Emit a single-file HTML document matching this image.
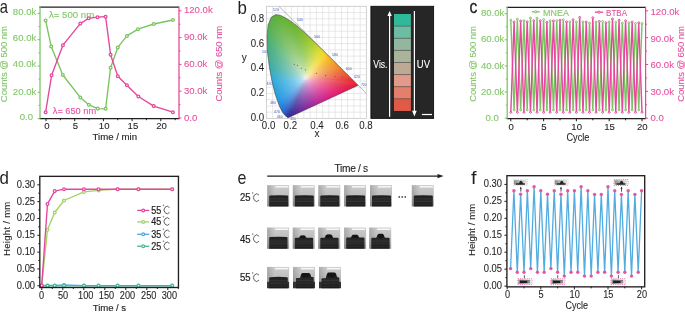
<!DOCTYPE html>
<html><head><meta charset="utf-8"><style>
html,body{margin:0;padding:0;background:#fff;width:685px;height:313px;overflow:hidden}
svg{display:block;will-change:transform}
text{font-family:"Liberation Sans", sans-serif}
</style></head><body>
<svg width="685" height="313" viewBox="0 0 685 313">
<defs><clipPath id="hs"><polygon points="288.16,117.78 288.12,117.79 288.06,117.8 287.97,117.8 287.82,117.76 287.69,117.68 287.51,117.54 287.26,117.33 286.95,117.04 286.54,116.68 285.97,116.19 285.27,115.57 284.4,114.7 283.34,113.43 281.91,111.2 280.1,107.58 277.81,101.87 274.99,93.39 272.07,81.64 269.34,66.98 267.42,51.32 266.89,36.81 268.14,24.93 271.26,17.22 275.69,14.51 280.67,15.46 285.74,17.98 290.51,21.01 295.1,24.41 299.62,28.15 304.1,32.14 308.56,36.3 313.04,40.59 317.49,44.94 321.91,49.28 326.25,53.58 330.46,57.77 334.5,61.78 338.3,65.54 341.76,69 344.77,71.99 347.42,74.62 349.62,76.78 351.41,78.57 352.84,79.99 353.97,81.11 354.89,82.02 355.65,82.78 356.27,83.4 356.77,83.89 357.15,84.26 357.65,84.76 358.07,85.18 358.24,85.34"/></clipPath>
<linearGradient id="r13" gradientUnits="userSpaceOnUse" x1="273" y1="0" x2="279" y2="0"><stop offset="0" stop-color="#5daf3b"/><stop offset="0.5" stop-color="#5faf37"/><stop offset="1" stop-color="#61b035"/></linearGradient>
<linearGradient id="r14" gradientUnits="userSpaceOnUse" x1="272" y1="0" x2="283" y2="0"><stop offset="0" stop-color="#5caf3d"/><stop offset="0.27" stop-color="#5eaf38"/><stop offset="0.55" stop-color="#60b036"/><stop offset="0.82" stop-color="#62b034"/><stop offset="1" stop-color="#63b133"/></linearGradient>
<linearGradient id="r15" gradientUnits="userSpaceOnUse" x1="270" y1="0" x2="285" y2="0"><stop offset="0" stop-color="#5aaf41"/><stop offset="0.2" stop-color="#5caf3c"/><stop offset="0.4" stop-color="#60b039"/><stop offset="0.6" stop-color="#61b036"/><stop offset="0.8" stop-color="#62b134"/><stop offset="1" stop-color="#64b232"/></linearGradient>
<linearGradient id="r16" gradientUnits="userSpaceOnUse" x1="269" y1="0" x2="287" y2="0"><stop offset="0" stop-color="#59af43"/><stop offset="0.17" stop-color="#5baf3f"/><stop offset="0.33" stop-color="#5fb03c"/><stop offset="0.5" stop-color="#62b039"/><stop offset="0.67" stop-color="#63b136"/><stop offset="0.83" stop-color="#63b133"/><stop offset="1" stop-color="#65b231"/></linearGradient>
<linearGradient id="r17" gradientUnits="userSpaceOnUse" x1="269" y1="0" x2="289" y2="0"><stop offset="0" stop-color="#58af44"/><stop offset="0.15" stop-color="#5baf41"/><stop offset="0.3" stop-color="#60b03e"/><stop offset="0.45" stop-color="#63b13b"/><stop offset="0.6" stop-color="#64b138"/><stop offset="0.75" stop-color="#64b134"/><stop offset="0.9" stop-color="#65b231"/><stop offset="1" stop-color="#66b330"/></linearGradient>
<linearGradient id="r18" gradientUnits="userSpaceOnUse" x1="268" y1="0" x2="290" y2="0"><stop offset="0" stop-color="#57af46"/><stop offset="0.14" stop-color="#5aaf43"/><stop offset="0.27" stop-color="#5fb041"/><stop offset="0.41" stop-color="#63b13e"/><stop offset="0.55" stop-color="#65b23b"/><stop offset="0.68" stop-color="#65b238"/><stop offset="0.82" stop-color="#65b233"/><stop offset="0.95" stop-color="#66b230"/><stop offset="1" stop-color="#67b32f"/></linearGradient>
<linearGradient id="r19" gradientUnits="userSpaceOnUse" x1="268" y1="0" x2="292" y2="0"><stop offset="0" stop-color="#57af47"/><stop offset="0.12" stop-color="#5aaf44"/><stop offset="0.25" stop-color="#5fb143"/><stop offset="0.38" stop-color="#64b240"/><stop offset="0.5" stop-color="#66b23d"/><stop offset="0.62" stop-color="#67b33a"/><stop offset="0.75" stop-color="#66b235"/><stop offset="0.88" stop-color="#66b230"/><stop offset="1" stop-color="#68b32e"/></linearGradient>
<linearGradient id="r20" gradientUnits="userSpaceOnUse" x1="267" y1="0" x2="293" y2="0"><stop offset="0" stop-color="#56af49"/><stop offset="0.12" stop-color="#58af45"/><stop offset="0.23" stop-color="#5eb146"/><stop offset="0.35" stop-color="#63b243"/><stop offset="0.46" stop-color="#67b340"/><stop offset="0.58" stop-color="#68b33d"/><stop offset="0.69" stop-color="#68b339"/><stop offset="0.81" stop-color="#67b333"/><stop offset="0.92" stop-color="#67b32f"/><stop offset="1" stop-color="#68b42e"/></linearGradient>
<linearGradient id="r21" gradientUnits="userSpaceOnUse" x1="267" y1="0" x2="295" y2="0"><stop offset="0" stop-color="#56af4a"/><stop offset="0.11" stop-color="#58af47"/><stop offset="0.21" stop-color="#5eb148"/><stop offset="0.32" stop-color="#63b345"/><stop offset="0.43" stop-color="#68b342"/><stop offset="0.54" stop-color="#69b43f"/><stop offset="0.64" stop-color="#69b43b"/><stop offset="0.75" stop-color="#68b436"/><stop offset="0.86" stop-color="#67b330"/><stop offset="0.96" stop-color="#69b42d"/><stop offset="1" stop-color="#6ab52d"/></linearGradient>
<linearGradient id="r22" gradientUnits="userSpaceOnUse" x1="267" y1="0" x2="296" y2="0"><stop offset="0" stop-color="#55af4a"/><stop offset="0.1" stop-color="#58b048"/><stop offset="0.21" stop-color="#5fb249"/><stop offset="0.31" stop-color="#64b348"/><stop offset="0.41" stop-color="#69b444"/><stop offset="0.52" stop-color="#6ab542"/><stop offset="0.62" stop-color="#6ab53e"/><stop offset="0.72" stop-color="#6ab438"/><stop offset="0.83" stop-color="#68b432"/><stop offset="0.93" stop-color="#69b42d"/><stop offset="1" stop-color="#6db62c"/></linearGradient>
<linearGradient id="r23" gradientUnits="userSpaceOnUse" x1="266" y1="0" x2="297" y2="0"><stop offset="0" stop-color="#54af4d"/><stop offset="0.1" stop-color="#57af49"/><stop offset="0.19" stop-color="#5db14a"/><stop offset="0.29" stop-color="#63b34b"/><stop offset="0.39" stop-color="#68b448"/><stop offset="0.48" stop-color="#6bb545"/><stop offset="0.58" stop-color="#6cb542"/><stop offset="0.68" stop-color="#6bb53d"/><stop offset="0.77" stop-color="#6ab536"/><stop offset="0.87" stop-color="#69b430"/><stop offset="0.97" stop-color="#6cb52c"/><stop offset="1" stop-color="#70b72c"/></linearGradient>
<linearGradient id="r24" gradientUnits="userSpaceOnUse" x1="266" y1="0" x2="299" y2="0"><stop offset="0" stop-color="#54af50"/><stop offset="0.09" stop-color="#57af4b"/><stop offset="0.18" stop-color="#5db24c"/><stop offset="0.27" stop-color="#63b44d"/><stop offset="0.36" stop-color="#68b54a"/><stop offset="0.45" stop-color="#6cb647"/><stop offset="0.55" stop-color="#6db644"/><stop offset="0.64" stop-color="#6db63f"/><stop offset="0.73" stop-color="#6cb539"/><stop offset="0.82" stop-color="#6ab532"/><stop offset="0.91" stop-color="#6cb52c"/><stop offset="1" stop-color="#75b92b"/></linearGradient>
<linearGradient id="r25" gradientUnits="userSpaceOnUse" x1="266" y1="0" x2="300" y2="0"><stop offset="0" stop-color="#53af52"/><stop offset="0.09" stop-color="#57b04c"/><stop offset="0.18" stop-color="#5db24d"/><stop offset="0.26" stop-color="#64b44e"/><stop offset="0.35" stop-color="#69b54c"/><stop offset="0.44" stop-color="#6db649"/><stop offset="0.53" stop-color="#6eb746"/><stop offset="0.62" stop-color="#6eb741"/><stop offset="0.71" stop-color="#6db63b"/><stop offset="0.79" stop-color="#6cb535"/><stop offset="0.88" stop-color="#6cb52d"/><stop offset="0.97" stop-color="#75b92b"/><stop offset="1" stop-color="#78ba2a"/></linearGradient>
<linearGradient id="r26" gradientUnits="userSpaceOnUse" x1="265" y1="0" x2="301" y2="0"><stop offset="0" stop-color="#52af55"/><stop offset="0.08" stop-color="#54af50"/><stop offset="0.17" stop-color="#5bb14e"/><stop offset="0.25" stop-color="#62b44f"/><stop offset="0.33" stop-color="#68b54f"/><stop offset="0.42" stop-color="#6db64c"/><stop offset="0.5" stop-color="#6fb749"/><stop offset="0.58" stop-color="#70b745"/><stop offset="0.67" stop-color="#6fb740"/><stop offset="0.75" stop-color="#6eb63a"/><stop offset="0.83" stop-color="#6cb632"/><stop offset="0.92" stop-color="#71b72b"/><stop offset="1" stop-color="#7abb2a"/></linearGradient>
<linearGradient id="r27" gradientUnits="userSpaceOnUse" x1="265" y1="0" x2="302" y2="0"><stop offset="0" stop-color="#52af57"/><stop offset="0.08" stop-color="#53af52"/><stop offset="0.16" stop-color="#5bb250"/><stop offset="0.24" stop-color="#62b451"/><stop offset="0.32" stop-color="#68b652"/><stop offset="0.41" stop-color="#6db74e"/><stop offset="0.49" stop-color="#71b84b"/><stop offset="0.57" stop-color="#71b848"/><stop offset="0.65" stop-color="#71b843"/><stop offset="0.73" stop-color="#6fb73c"/><stop offset="0.81" stop-color="#6eb635"/><stop offset="0.89" stop-color="#72b82d"/><stop offset="0.97" stop-color="#7abb2a"/><stop offset="1" stop-color="#7dbc29"/></linearGradient>
<linearGradient id="r28" gradientUnits="userSpaceOnUse" x1="265" y1="0" x2="303" y2="0"><stop offset="0" stop-color="#51af5a"/><stop offset="0.08" stop-color="#53af55"/><stop offset="0.16" stop-color="#5cb251"/><stop offset="0.24" stop-color="#62b452"/><stop offset="0.32" stop-color="#69b653"/><stop offset="0.39" stop-color="#6eb851"/><stop offset="0.47" stop-color="#72b84d"/><stop offset="0.55" stop-color="#73b94a"/><stop offset="0.63" stop-color="#72b945"/><stop offset="0.71" stop-color="#71b83f"/><stop offset="0.79" stop-color="#6fb737"/><stop offset="0.87" stop-color="#73b830"/><stop offset="0.95" stop-color="#7abb2a"/><stop offset="1" stop-color="#7fbd29"/></linearGradient>
<linearGradient id="r29" gradientUnits="userSpaceOnUse" x1="265" y1="0" x2="304" y2="0"><stop offset="0" stop-color="#50af5c"/><stop offset="0.08" stop-color="#52af58"/><stop offset="0.15" stop-color="#5bb253"/><stop offset="0.23" stop-color="#62b454"/><stop offset="0.31" stop-color="#69b755"/><stop offset="0.38" stop-color="#6eb853"/><stop offset="0.46" stop-color="#73b950"/><stop offset="0.54" stop-color="#74ba4d"/><stop offset="0.62" stop-color="#74b948"/><stop offset="0.69" stop-color="#73b941"/><stop offset="0.77" stop-color="#71b83a"/><stop offset="0.85" stop-color="#74b932"/><stop offset="0.92" stop-color="#79bb2a"/><stop offset="1" stop-color="#82be28"/></linearGradient>
<linearGradient id="r30" gradientUnits="userSpaceOnUse" x1="265" y1="0" x2="306" y2="0"><stop offset="0" stop-color="#4faf5f"/><stop offset="0.07" stop-color="#52af5b"/><stop offset="0.15" stop-color="#5bb256"/><stop offset="0.22" stop-color="#62b555"/><stop offset="0.29" stop-color="#69b756"/><stop offset="0.37" stop-color="#6fb955"/><stop offset="0.44" stop-color="#74ba52"/><stop offset="0.51" stop-color="#75ba4f"/><stop offset="0.59" stop-color="#75ba4a"/><stop offset="0.66" stop-color="#74ba44"/><stop offset="0.73" stop-color="#72b93c"/><stop offset="0.8" stop-color="#75b935"/><stop offset="0.88" stop-color="#7bbb2c"/><stop offset="0.95" stop-color="#82be28"/><stop offset="1" stop-color="#8ac128"/></linearGradient>
<linearGradient id="r31" gradientUnits="userSpaceOnUse" x1="265" y1="0" x2="307" y2="0"><stop offset="0" stop-color="#4faf61"/><stop offset="0.07" stop-color="#51b05e"/><stop offset="0.14" stop-color="#5ab259"/><stop offset="0.21" stop-color="#62b557"/><stop offset="0.29" stop-color="#69b758"/><stop offset="0.36" stop-color="#70b958"/><stop offset="0.43" stop-color="#75ba54"/><stop offset="0.5" stop-color="#77bb51"/><stop offset="0.57" stop-color="#77bb4d"/><stop offset="0.64" stop-color="#76ba46"/><stop offset="0.71" stop-color="#74ba3f"/><stop offset="0.79" stop-color="#76ba37"/><stop offset="0.86" stop-color="#7cbc2f"/><stop offset="0.93" stop-color="#82be28"/><stop offset="1" stop-color="#8fc328"/></linearGradient>
<linearGradient id="r32" gradientUnits="userSpaceOnUse" x1="265" y1="0" x2="308" y2="0"><stop offset="0" stop-color="#4eaf64"/><stop offset="0.07" stop-color="#51b060"/><stop offset="0.14" stop-color="#5ab25c"/><stop offset="0.21" stop-color="#63b558"/><stop offset="0.28" stop-color="#69b759"/><stop offset="0.35" stop-color="#70ba5a"/><stop offset="0.42" stop-color="#75bb57"/><stop offset="0.49" stop-color="#78bb54"/><stop offset="0.56" stop-color="#78bc4f"/><stop offset="0.63" stop-color="#77bb49"/><stop offset="0.7" stop-color="#76ba42"/><stop offset="0.77" stop-color="#77bb3a"/><stop offset="0.84" stop-color="#7dbd31"/><stop offset="0.91" stop-color="#82be29"/><stop offset="0.98" stop-color="#8fc328"/><stop offset="1" stop-color="#93c428"/></linearGradient>
<linearGradient id="r33" gradientUnits="userSpaceOnUse" x1="265" y1="0" x2="309" y2="0"><stop offset="0" stop-color="#4daf66"/><stop offset="0.07" stop-color="#50b063"/><stop offset="0.14" stop-color="#59b35f"/><stop offset="0.2" stop-color="#63b65a"/><stop offset="0.27" stop-color="#6ab85b"/><stop offset="0.34" stop-color="#71ba5c"/><stop offset="0.41" stop-color="#76bb59"/><stop offset="0.48" stop-color="#79bc56"/><stop offset="0.55" stop-color="#7abc52"/><stop offset="0.61" stop-color="#79bc4c"/><stop offset="0.68" stop-color="#77bb44"/><stop offset="0.75" stop-color="#78bb3c"/><stop offset="0.82" stop-color="#7ebd34"/><stop offset="0.89" stop-color="#84bf2c"/><stop offset="0.95" stop-color="#8fc328"/><stop offset="1" stop-color="#97c628"/></linearGradient>
<linearGradient id="r34" gradientUnits="userSpaceOnUse" x1="265" y1="0" x2="310" y2="0"><stop offset="0" stop-color="#4caf69"/><stop offset="0.07" stop-color="#4fb066"/><stop offset="0.13" stop-color="#59b362"/><stop offset="0.2" stop-color="#62b65d"/><stop offset="0.27" stop-color="#6ab85d"/><stop offset="0.33" stop-color="#71ba5e"/><stop offset="0.4" stop-color="#77bc5c"/><stop offset="0.47" stop-color="#7bbd58"/><stop offset="0.53" stop-color="#7bbd54"/><stop offset="0.6" stop-color="#7abd4e"/><stop offset="0.67" stop-color="#79bc47"/><stop offset="0.73" stop-color="#7abc3f"/><stop offset="0.8" stop-color="#80be37"/><stop offset="0.87" stop-color="#85c02e"/><stop offset="0.93" stop-color="#8fc328"/><stop offset="1" stop-color="#9bc728"/></linearGradient>
<linearGradient id="r35" gradientUnits="userSpaceOnUse" x1="265" y1="0" x2="311" y2="0"><stop offset="0" stop-color="#4caf6c"/><stop offset="0.07" stop-color="#4fb069"/><stop offset="0.13" stop-color="#58b365"/><stop offset="0.2" stop-color="#62b660"/><stop offset="0.26" stop-color="#6ab85e"/><stop offset="0.33" stop-color="#71bb5f"/><stop offset="0.39" stop-color="#77bc5e"/><stop offset="0.46" stop-color="#7cbd5b"/><stop offset="0.52" stop-color="#7dbe57"/><stop offset="0.59" stop-color="#7cbe51"/><stop offset="0.65" stop-color="#7bbd4a"/><stop offset="0.72" stop-color="#7bbd42"/><stop offset="0.78" stop-color="#81bf39"/><stop offset="0.85" stop-color="#86c031"/><stop offset="0.91" stop-color="#90c32a"/><stop offset="0.98" stop-color="#9cc828"/><stop offset="1" stop-color="#9fc928"/></linearGradient>
<linearGradient id="r36" gradientUnits="userSpaceOnUse" x1="264" y1="0" x2="312" y2="0"><stop offset="0" stop-color="#4baf6e"/><stop offset="0.06" stop-color="#4baf6d"/><stop offset="0.12" stop-color="#54b269"/><stop offset="0.19" stop-color="#5eb565"/><stop offset="0.25" stop-color="#68b860"/><stop offset="0.31" stop-color="#6fba61"/><stop offset="0.38" stop-color="#76bd62"/><stop offset="0.44" stop-color="#7cbe5e"/><stop offset="0.5" stop-color="#7ebf5b"/><stop offset="0.56" stop-color="#7ebf56"/><stop offset="0.62" stop-color="#7dbe4f"/><stop offset="0.69" stop-color="#7bbd47"/><stop offset="0.75" stop-color="#80bf3f"/><stop offset="0.81" stop-color="#86c036"/><stop offset="0.88" stop-color="#8ec32e"/><stop offset="0.94" stop-color="#98c628"/><stop offset="1" stop-color="#a4cb28"/></linearGradient>
<linearGradient id="r37" gradientUnits="userSpaceOnUse" x1="264" y1="0" x2="313" y2="0"><stop offset="0" stop-color="#4baf70"/><stop offset="0.06" stop-color="#4baf6f"/><stop offset="0.12" stop-color="#54b26c"/><stop offset="0.18" stop-color="#5db568"/><stop offset="0.24" stop-color="#67b863"/><stop offset="0.31" stop-color="#6fbb62"/><stop offset="0.37" stop-color="#76bd63"/><stop offset="0.43" stop-color="#7cbe61"/><stop offset="0.49" stop-color="#7fbf5d"/><stop offset="0.55" stop-color="#80bf59"/><stop offset="0.61" stop-color="#7fbf52"/><stop offset="0.67" stop-color="#7dbe4a"/><stop offset="0.73" stop-color="#81bf41"/><stop offset="0.8" stop-color="#87c139"/><stop offset="0.86" stop-color="#8fc431"/><stop offset="0.92" stop-color="#99c72a"/><stop offset="0.98" stop-color="#a4cb28"/><stop offset="1" stop-color="#a8cc28"/></linearGradient>
<linearGradient id="r38" gradientUnits="userSpaceOnUse" x1="264" y1="0" x2="314" y2="0"><stop offset="0" stop-color="#4aaf72"/><stop offset="0.06" stop-color="#4baf71"/><stop offset="0.12" stop-color="#53b26f"/><stop offset="0.18" stop-color="#5db56b"/><stop offset="0.24" stop-color="#66b866"/><stop offset="0.3" stop-color="#6fbb64"/><stop offset="0.36" stop-color="#77bd65"/><stop offset="0.42" stop-color="#7dbf63"/><stop offset="0.48" stop-color="#81c060"/><stop offset="0.54" stop-color="#81c05b"/><stop offset="0.6" stop-color="#80c055"/><stop offset="0.66" stop-color="#7fbf4d"/><stop offset="0.72" stop-color="#83c044"/><stop offset="0.78" stop-color="#88c23b"/><stop offset="0.84" stop-color="#91c433"/><stop offset="0.9" stop-color="#9bc82c"/><stop offset="0.96" stop-color="#a5cb28"/><stop offset="1" stop-color="#adce28"/></linearGradient>
<linearGradient id="r39" gradientUnits="userSpaceOnUse" x1="264" y1="0" x2="315" y2="0"><stop offset="0" stop-color="#4aae73"/><stop offset="0.06" stop-color="#4aae73"/><stop offset="0.12" stop-color="#53b272"/><stop offset="0.18" stop-color="#5cb56e"/><stop offset="0.24" stop-color="#66b86a"/><stop offset="0.29" stop-color="#6fbb66"/><stop offset="0.35" stop-color="#77be67"/><stop offset="0.41" stop-color="#7ec066"/><stop offset="0.47" stop-color="#82c162"/><stop offset="0.53" stop-color="#83c15e"/><stop offset="0.59" stop-color="#82c158"/><stop offset="0.65" stop-color="#80c050"/><stop offset="0.71" stop-color="#84c147"/><stop offset="0.76" stop-color="#8ac33e"/><stop offset="0.82" stop-color="#92c536"/><stop offset="0.88" stop-color="#9cc82f"/><stop offset="0.94" stop-color="#a5cb28"/><stop offset="1" stop-color="#b3cf28"/></linearGradient>
<linearGradient id="r40" gradientUnits="userSpaceOnUse" x1="265" y1="0" x2="316" y2="0"><stop offset="0" stop-color="#4aae75"/><stop offset="0.06" stop-color="#4cb074"/><stop offset="0.12" stop-color="#55b374"/><stop offset="0.18" stop-color="#5fb670"/><stop offset="0.24" stop-color="#69b96b"/><stop offset="0.29" stop-color="#72bc68"/><stop offset="0.35" stop-color="#7abf69"/><stop offset="0.41" stop-color="#80c167"/><stop offset="0.47" stop-color="#84c264"/><stop offset="0.53" stop-color="#84c25f"/><stop offset="0.59" stop-color="#83c158"/><stop offset="0.65" stop-color="#81c050"/><stop offset="0.71" stop-color="#87c247"/><stop offset="0.76" stop-color="#8dc43e"/><stop offset="0.82" stop-color="#97c736"/><stop offset="0.88" stop-color="#a1ca2f"/><stop offset="0.94" stop-color="#aacd28"/><stop offset="1" stop-color="#b8d128"/></linearGradient>
<linearGradient id="r41" gradientUnits="userSpaceOnUse" x1="265" y1="0" x2="317" y2="0"><stop offset="0" stop-color="#49ae77"/><stop offset="0.06" stop-color="#4caf76"/><stop offset="0.12" stop-color="#55b376"/><stop offset="0.17" stop-color="#5eb673"/><stop offset="0.23" stop-color="#68b96e"/><stop offset="0.29" stop-color="#72bd69"/><stop offset="0.35" stop-color="#7abf6b"/><stop offset="0.4" stop-color="#81c16a"/><stop offset="0.46" stop-color="#86c266"/><stop offset="0.52" stop-color="#86c362"/><stop offset="0.58" stop-color="#85c25b"/><stop offset="0.63" stop-color="#83c153"/><stop offset="0.69" stop-color="#89c34a"/><stop offset="0.75" stop-color="#8fc540"/><stop offset="0.81" stop-color="#99c839"/><stop offset="0.87" stop-color="#a2cb31"/><stop offset="0.92" stop-color="#acce2a"/><stop offset="0.98" stop-color="#bad128"/><stop offset="1" stop-color="#bed328"/></linearGradient>
<linearGradient id="r42" gradientUnits="userSpaceOnUse" x1="265" y1="0" x2="318" y2="0"><stop offset="0" stop-color="#49ae79"/><stop offset="0.06" stop-color="#4caf78"/><stop offset="0.11" stop-color="#54b378"/><stop offset="0.17" stop-color="#5db676"/><stop offset="0.23" stop-color="#67ba71"/><stop offset="0.28" stop-color="#72bd6c"/><stop offset="0.34" stop-color="#7ac06c"/><stop offset="0.4" stop-color="#81c26d"/><stop offset="0.45" stop-color="#87c369"/><stop offset="0.51" stop-color="#88c365"/><stop offset="0.57" stop-color="#87c35e"/><stop offset="0.62" stop-color="#85c256"/><stop offset="0.68" stop-color="#8ac44c"/><stop offset="0.74" stop-color="#90c543"/><stop offset="0.79" stop-color="#9ac93b"/><stop offset="0.85" stop-color="#a4cc34"/><stop offset="0.91" stop-color="#aecf2d"/><stop offset="0.96" stop-color="#bbd228"/><stop offset="1" stop-color="#c4d428"/></linearGradient>
<linearGradient id="r43" gradientUnits="userSpaceOnUse" x1="265" y1="0" x2="319" y2="0"><stop offset="0" stop-color="#49ae7a"/><stop offset="0.06" stop-color="#4baf7a"/><stop offset="0.11" stop-color="#54b37a"/><stop offset="0.17" stop-color="#5db779"/><stop offset="0.22" stop-color="#67ba75"/><stop offset="0.28" stop-color="#71bd70"/><stop offset="0.33" stop-color="#7ac06e"/><stop offset="0.39" stop-color="#82c26f"/><stop offset="0.44" stop-color="#88c46b"/><stop offset="0.5" stop-color="#8ac468"/><stop offset="0.56" stop-color="#89c461"/><stop offset="0.61" stop-color="#87c359"/><stop offset="0.67" stop-color="#8bc44f"/><stop offset="0.72" stop-color="#91c646"/><stop offset="0.78" stop-color="#9cc93e"/><stop offset="0.83" stop-color="#a6cd36"/><stop offset="0.89" stop-color="#b0cf2f"/><stop offset="0.94" stop-color="#bcd228"/><stop offset="1" stop-color="#cad628"/></linearGradient>
<linearGradient id="r44" gradientUnits="userSpaceOnUse" x1="265" y1="0" x2="320" y2="0"><stop offset="0" stop-color="#48ad7c"/><stop offset="0.05" stop-color="#4bae7b"/><stop offset="0.11" stop-color="#53b27c"/><stop offset="0.16" stop-color="#5cb77c"/><stop offset="0.22" stop-color="#66ba78"/><stop offset="0.27" stop-color="#71bd73"/><stop offset="0.33" stop-color="#7ac070"/><stop offset="0.38" stop-color="#82c371"/><stop offset="0.44" stop-color="#89c46e"/><stop offset="0.49" stop-color="#8bc56b"/><stop offset="0.55" stop-color="#8bc564"/><stop offset="0.6" stop-color="#89c45c"/><stop offset="0.65" stop-color="#8dc552"/><stop offset="0.71" stop-color="#93c749"/><stop offset="0.76" stop-color="#9dca41"/><stop offset="0.82" stop-color="#a7cd39"/><stop offset="0.87" stop-color="#b2d032"/><stop offset="0.93" stop-color="#bfd32a"/><stop offset="0.98" stop-color="#ccd628"/><stop offset="1" stop-color="#d0d728"/></linearGradient>
<linearGradient id="r45" gradientUnits="userSpaceOnUse" x1="265" y1="0" x2="321" y2="0"><stop offset="0" stop-color="#48ad7e"/><stop offset="0.05" stop-color="#4aae7d"/><stop offset="0.11" stop-color="#53b27e"/><stop offset="0.16" stop-color="#5cb67e"/><stop offset="0.21" stop-color="#66ba7b"/><stop offset="0.27" stop-color="#70bd76"/><stop offset="0.32" stop-color="#7bc172"/><stop offset="0.38" stop-color="#83c373"/><stop offset="0.43" stop-color="#8ac571"/><stop offset="0.48" stop-color="#8dc66d"/><stop offset="0.54" stop-color="#8cc667"/><stop offset="0.59" stop-color="#8bc55f"/><stop offset="0.64" stop-color="#8ec655"/><stop offset="0.7" stop-color="#94c84b"/><stop offset="0.75" stop-color="#9fcb43"/><stop offset="0.8" stop-color="#a9ce3c"/><stop offset="0.86" stop-color="#b4d134"/><stop offset="0.91" stop-color="#c1d42d"/><stop offset="0.96" stop-color="#cdd728"/><stop offset="1" stop-color="#d6d928"/></linearGradient>
<linearGradient id="r46" gradientUnits="userSpaceOnUse" x1="265" y1="0" x2="322" y2="0"><stop offset="0" stop-color="#47ad80"/><stop offset="0.05" stop-color="#4aae7f"/><stop offset="0.11" stop-color="#52b27f"/><stop offset="0.16" stop-color="#5bb680"/><stop offset="0.21" stop-color="#65ba7e"/><stop offset="0.26" stop-color="#6fbd7a"/><stop offset="0.32" stop-color="#7ac174"/><stop offset="0.37" stop-color="#83c475"/><stop offset="0.42" stop-color="#8ac674"/><stop offset="0.47" stop-color="#8ec770"/><stop offset="0.53" stop-color="#8ec76a"/><stop offset="0.58" stop-color="#8dc662"/><stop offset="0.63" stop-color="#8fc758"/><stop offset="0.68" stop-color="#96c94e"/><stop offset="0.74" stop-color="#a0cc46"/><stop offset="0.79" stop-color="#abcf3e"/><stop offset="0.84" stop-color="#b6d237"/><stop offset="0.89" stop-color="#c3d52f"/><stop offset="0.95" stop-color="#cfd728"/><stop offset="1" stop-color="#dcdb28"/></linearGradient>
<linearGradient id="r47" gradientUnits="userSpaceOnUse" x1="265" y1="0" x2="323" y2="0"><stop offset="0" stop-color="#47ad81"/><stop offset="0.05" stop-color="#49ae81"/><stop offset="0.1" stop-color="#52b281"/><stop offset="0.16" stop-color="#5bb682"/><stop offset="0.21" stop-color="#64ba82"/><stop offset="0.26" stop-color="#6fbd7d"/><stop offset="0.31" stop-color="#7ac178"/><stop offset="0.36" stop-color="#83c477"/><stop offset="0.41" stop-color="#8bc677"/><stop offset="0.47" stop-color="#90c773"/><stop offset="0.52" stop-color="#90c86d"/><stop offset="0.57" stop-color="#8fc765"/><stop offset="0.62" stop-color="#91c75b"/><stop offset="0.67" stop-color="#97c951"/><stop offset="0.72" stop-color="#a2cd49"/><stop offset="0.78" stop-color="#add041"/><stop offset="0.83" stop-color="#b8d339"/><stop offset="0.88" stop-color="#c5d632"/><stop offset="0.93" stop-color="#d1d82b"/><stop offset="0.98" stop-color="#dedb28"/><stop offset="1" stop-color="#e1dc28"/></linearGradient>
<linearGradient id="r48" gradientUnits="userSpaceOnUse" x1="265" y1="0" x2="324" y2="0"><stop offset="0" stop-color="#47ac83"/><stop offset="0.05" stop-color="#49ad82"/><stop offset="0.1" stop-color="#51b183"/><stop offset="0.15" stop-color="#5ab684"/><stop offset="0.2" stop-color="#64ba84"/><stop offset="0.25" stop-color="#6ebe81"/><stop offset="0.31" stop-color="#79c17c"/><stop offset="0.36" stop-color="#83c479"/><stop offset="0.41" stop-color="#8cc77a"/><stop offset="0.46" stop-color="#92c876"/><stop offset="0.51" stop-color="#92c971"/><stop offset="0.56" stop-color="#91c868"/><stop offset="0.61" stop-color="#92c85f"/><stop offset="0.66" stop-color="#99ca54"/><stop offset="0.71" stop-color="#a4ce4c"/><stop offset="0.76" stop-color="#aed144"/><stop offset="0.81" stop-color="#bad43c"/><stop offset="0.86" stop-color="#c8d734"/><stop offset="0.92" stop-color="#d4d92d"/><stop offset="0.97" stop-color="#e0dc28"/><stop offset="1" stop-color="#e6da27"/></linearGradient>
<linearGradient id="r49" gradientUnits="userSpaceOnUse" x1="265" y1="0" x2="325" y2="0"><stop offset="0" stop-color="#46ac85"/><stop offset="0.05" stop-color="#48ad84"/><stop offset="0.1" stop-color="#51b185"/><stop offset="0.15" stop-color="#5ab586"/><stop offset="0.2" stop-color="#63ba86"/><stop offset="0.25" stop-color="#6dbe84"/><stop offset="0.3" stop-color="#78c17f"/><stop offset="0.35" stop-color="#84c57b"/><stop offset="0.4" stop-color="#8cc87c"/><stop offset="0.45" stop-color="#93c979"/><stop offset="0.5" stop-color="#94c974"/><stop offset="0.55" stop-color="#93c96c"/><stop offset="0.6" stop-color="#94c962"/><stop offset="0.65" stop-color="#9bcb57"/><stop offset="0.7" stop-color="#a5ce4f"/><stop offset="0.75" stop-color="#b0d246"/><stop offset="0.8" stop-color="#bdd53f"/><stop offset="0.85" stop-color="#cad837"/><stop offset="0.9" stop-color="#d6da2f"/><stop offset="0.95" stop-color="#e2dc28"/><stop offset="1" stop-color="#ead826"/></linearGradient>
<linearGradient id="r50" gradientUnits="userSpaceOnUse" x1="265" y1="0" x2="326" y2="0"><stop offset="0" stop-color="#46ac87"/><stop offset="0.05" stop-color="#48ad86"/><stop offset="0.1" stop-color="#50b187"/><stop offset="0.15" stop-color="#59b587"/><stop offset="0.2" stop-color="#63b988"/><stop offset="0.25" stop-color="#6dbe88"/><stop offset="0.3" stop-color="#78c183"/><stop offset="0.34" stop-color="#84c57d"/><stop offset="0.39" stop-color="#8cc87e"/><stop offset="0.44" stop-color="#94ca7c"/><stop offset="0.49" stop-color="#96ca77"/><stop offset="0.54" stop-color="#95ca6f"/><stop offset="0.59" stop-color="#95ca65"/><stop offset="0.64" stop-color="#9ccc5b"/><stop offset="0.69" stop-color="#a7cf52"/><stop offset="0.74" stop-color="#b2d349"/><stop offset="0.79" stop-color="#bfd641"/><stop offset="0.84" stop-color="#ccd939"/><stop offset="0.89" stop-color="#d9db32"/><stop offset="0.93" stop-color="#e4db2a"/><stop offset="0.98" stop-color="#ecd725"/><stop offset="1" stop-color="#eed525"/></linearGradient>
<linearGradient id="r51" gradientUnits="userSpaceOnUse" x1="265" y1="0" x2="327" y2="0"><stop offset="0" stop-color="#45ac89"/><stop offset="0.05" stop-color="#47ad88"/><stop offset="0.1" stop-color="#50b188"/><stop offset="0.15" stop-color="#59b589"/><stop offset="0.19" stop-color="#62b98a"/><stop offset="0.24" stop-color="#6cbe8a"/><stop offset="0.29" stop-color="#77c187"/><stop offset="0.34" stop-color="#83c581"/><stop offset="0.39" stop-color="#8dc880"/><stop offset="0.44" stop-color="#95cb7f"/><stop offset="0.48" stop-color="#98cb7a"/><stop offset="0.53" stop-color="#97cb73"/><stop offset="0.58" stop-color="#96ca69"/><stop offset="0.63" stop-color="#9ecd5e"/><stop offset="0.68" stop-color="#a9d055"/><stop offset="0.73" stop-color="#b4d44c"/><stop offset="0.77" stop-color="#c1d744"/><stop offset="0.82" stop-color="#cfda3c"/><stop offset="0.87" stop-color="#dcdc34"/><stop offset="0.92" stop-color="#e6db2c"/><stop offset="0.97" stop-color="#eed625"/><stop offset="1" stop-color="#f3d324"/></linearGradient>
<linearGradient id="r52" gradientUnits="userSpaceOnUse" x1="265" y1="0" x2="328" y2="0"><stop offset="0" stop-color="#45ac8b"/><stop offset="0.05" stop-color="#47ad89"/><stop offset="0.1" stop-color="#4fb08a"/><stop offset="0.14" stop-color="#58b48b"/><stop offset="0.19" stop-color="#62b98c"/><stop offset="0.24" stop-color="#6cbd8c"/><stop offset="0.29" stop-color="#76c28a"/><stop offset="0.33" stop-color="#82c585"/><stop offset="0.38" stop-color="#8dc982"/><stop offset="0.43" stop-color="#95cb82"/><stop offset="0.48" stop-color="#9acc7d"/><stop offset="0.52" stop-color="#99cc76"/><stop offset="0.57" stop-color="#98cb6c"/><stop offset="0.62" stop-color="#9fce61"/><stop offset="0.67" stop-color="#abd158"/><stop offset="0.71" stop-color="#b6d54f"/><stop offset="0.76" stop-color="#c4d847"/><stop offset="0.81" stop-color="#d2db3f"/><stop offset="0.86" stop-color="#dedd37"/><stop offset="0.9" stop-color="#e8da2e"/><stop offset="0.95" stop-color="#f0d525"/><stop offset="1" stop-color="#f5cf23"/></linearGradient>
<linearGradient id="r53" gradientUnits="userSpaceOnUse" x1="265" y1="0" x2="329" y2="0"><stop offset="0" stop-color="#44ac8d"/><stop offset="0.05" stop-color="#46ac8b"/><stop offset="0.09" stop-color="#4fb08c"/><stop offset="0.14" stop-color="#58b48d"/><stop offset="0.19" stop-color="#61b88e"/><stop offset="0.23" stop-color="#6bbd8e"/><stop offset="0.28" stop-color="#76c28e"/><stop offset="0.33" stop-color="#81c589"/><stop offset="0.38" stop-color="#8dc984"/><stop offset="0.42" stop-color="#96cc85"/><stop offset="0.47" stop-color="#9bcd81"/><stop offset="0.52" stop-color="#9bcd7a"/><stop offset="0.56" stop-color="#99cc70"/><stop offset="0.61" stop-color="#a1cf64"/><stop offset="0.66" stop-color="#acd25b"/><stop offset="0.7" stop-color="#b8d652"/><stop offset="0.75" stop-color="#c6d94a"/><stop offset="0.8" stop-color="#d4dc41"/><stop offset="0.84" stop-color="#e1de3a"/><stop offset="0.89" stop-color="#eada30"/><stop offset="0.94" stop-color="#f2d427"/><stop offset="0.98" stop-color="#f5cc23"/><stop offset="1" stop-color="#f5c823"/></linearGradient>
<linearGradient id="r54" gradientUnits="userSpaceOnUse" x1="265" y1="0" x2="330" y2="0"><stop offset="0" stop-color="#43ac8f"/><stop offset="0.05" stop-color="#45ac8d"/><stop offset="0.09" stop-color="#4eb08e"/><stop offset="0.14" stop-color="#57b48f"/><stop offset="0.18" stop-color="#61b890"/><stop offset="0.23" stop-color="#6abd91"/><stop offset="0.28" stop-color="#75c291"/><stop offset="0.32" stop-color="#81c68d"/><stop offset="0.37" stop-color="#8dca87"/><stop offset="0.42" stop-color="#97cd88"/><stop offset="0.46" stop-color="#9dce84"/><stop offset="0.51" stop-color="#9dce7d"/><stop offset="0.55" stop-color="#9bcd73"/><stop offset="0.6" stop-color="#a3d068"/><stop offset="0.65" stop-color="#aed35e"/><stop offset="0.69" stop-color="#bad755"/><stop offset="0.74" stop-color="#c9da4c"/><stop offset="0.78" stop-color="#d7dd44"/><stop offset="0.83" stop-color="#e4df3c"/><stop offset="0.88" stop-color="#ecd932"/><stop offset="0.92" stop-color="#f4d429"/><stop offset="0.97" stop-color="#f5c823"/><stop offset="1" stop-color="#f5c123"/></linearGradient>
<linearGradient id="r55" gradientUnits="userSpaceOnUse" x1="265" y1="0" x2="331" y2="0"><stop offset="0" stop-color="#43ac91"/><stop offset="0.05" stop-color="#44ac8f"/><stop offset="0.09" stop-color="#4db090"/><stop offset="0.14" stop-color="#57b491"/><stop offset="0.18" stop-color="#60b892"/><stop offset="0.23" stop-color="#6abc93"/><stop offset="0.27" stop-color="#74c193"/><stop offset="0.32" stop-color="#80c690"/><stop offset="0.36" stop-color="#8dca8a"/><stop offset="0.41" stop-color="#97cd8a"/><stop offset="0.45" stop-color="#9fcf87"/><stop offset="0.5" stop-color="#9fcf81"/><stop offset="0.55" stop-color="#9dce77"/><stop offset="0.59" stop-color="#a5d06b"/><stop offset="0.64" stop-color="#b0d461"/><stop offset="0.68" stop-color="#bcd858"/><stop offset="0.73" stop-color="#cbdb4f"/><stop offset="0.77" stop-color="#dade47"/><stop offset="0.82" stop-color="#e6df3e"/><stop offset="0.86" stop-color="#eed934"/><stop offset="0.91" stop-color="#f5d22b"/><stop offset="0.95" stop-color="#f5c523"/><stop offset="1" stop-color="#f5bb23"/></linearGradient>
<linearGradient id="r56" gradientUnits="userSpaceOnUse" x1="266" y1="0" x2="332" y2="0"><stop offset="0" stop-color="#42ac93"/><stop offset="0.05" stop-color="#46ad91"/><stop offset="0.09" stop-color="#4fb192"/><stop offset="0.14" stop-color="#59b593"/><stop offset="0.18" stop-color="#63b994"/><stop offset="0.23" stop-color="#6dbe95"/><stop offset="0.27" stop-color="#78c396"/><stop offset="0.32" stop-color="#83c793"/><stop offset="0.36" stop-color="#91cb8c"/><stop offset="0.41" stop-color="#9bcf8d"/><stop offset="0.45" stop-color="#a1d089"/><stop offset="0.5" stop-color="#a1d082"/><stop offset="0.55" stop-color="#a1d077"/><stop offset="0.59" stop-color="#a9d26b"/><stop offset="0.64" stop-color="#b6d661"/><stop offset="0.68" stop-color="#c4da58"/><stop offset="0.73" stop-color="#d3dd4f"/><stop offset="0.77" stop-color="#e1e047"/><stop offset="0.82" stop-color="#ebdc3d"/><stop offset="0.86" stop-color="#f3d633"/><stop offset="0.91" stop-color="#f5cb2b"/><stop offset="0.95" stop-color="#f5be23"/><stop offset="1" stop-color="#f5b423"/></linearGradient>
<linearGradient id="r57" gradientUnits="userSpaceOnUse" x1="266" y1="0" x2="333" y2="0"><stop offset="0" stop-color="#41ac95"/><stop offset="0.04" stop-color="#45ad93"/><stop offset="0.09" stop-color="#4eb194"/><stop offset="0.13" stop-color="#58b595"/><stop offset="0.18" stop-color="#62b996"/><stop offset="0.22" stop-color="#6cbd97"/><stop offset="0.27" stop-color="#77c298"/><stop offset="0.31" stop-color="#83c797"/><stop offset="0.36" stop-color="#90cb91"/><stop offset="0.4" stop-color="#9bcf8f"/><stop offset="0.45" stop-color="#a3d18c"/><stop offset="0.49" stop-color="#a4d186"/><stop offset="0.54" stop-color="#a3d17b"/><stop offset="0.58" stop-color="#abd36e"/><stop offset="0.63" stop-color="#b8d865"/><stop offset="0.67" stop-color="#c6db5b"/><stop offset="0.72" stop-color="#d6de52"/><stop offset="0.76" stop-color="#e4e14a"/><stop offset="0.81" stop-color="#eddc3f"/><stop offset="0.85" stop-color="#f6d635"/><stop offset="0.9" stop-color="#f5c82d"/><stop offset="0.94" stop-color="#f5bb26"/><stop offset="0.99" stop-color="#f5b123"/><stop offset="1" stop-color="#f4af24"/></linearGradient>
<linearGradient id="r58" gradientUnits="userSpaceOnUse" x1="266" y1="0" x2="334" y2="0"><stop offset="0" stop-color="#41ac97"/><stop offset="0.04" stop-color="#44ad95"/><stop offset="0.09" stop-color="#4db196"/><stop offset="0.13" stop-color="#57b497"/><stop offset="0.18" stop-color="#62b898"/><stop offset="0.22" stop-color="#6cbd99"/><stop offset="0.26" stop-color="#76c29a"/><stop offset="0.31" stop-color="#82c79b"/><stop offset="0.35" stop-color="#8fcc95"/><stop offset="0.4" stop-color="#9bd092"/><stop offset="0.44" stop-color="#a5d290"/><stop offset="0.49" stop-color="#a6d28a"/><stop offset="0.53" stop-color="#a4d27f"/><stop offset="0.57" stop-color="#add472"/><stop offset="0.62" stop-color="#bbd968"/><stop offset="0.66" stop-color="#c9dc5e"/><stop offset="0.71" stop-color="#d9df55"/><stop offset="0.75" stop-color="#e7e24c"/><stop offset="0.79" stop-color="#f0db42"/><stop offset="0.84" stop-color="#f6d338"/><stop offset="0.88" stop-color="#f6c530"/><stop offset="0.93" stop-color="#f5b828"/><stop offset="0.97" stop-color="#f4af24"/><stop offset="1" stop-color="#f4ab24"/></linearGradient>
<linearGradient id="r59" gradientUnits="userSpaceOnUse" x1="266" y1="0" x2="335" y2="0"><stop offset="0" stop-color="#40ac99"/><stop offset="0.04" stop-color="#43ad97"/><stop offset="0.09" stop-color="#4cb098"/><stop offset="0.13" stop-color="#56b499"/><stop offset="0.17" stop-color="#61b89a"/><stop offset="0.22" stop-color="#6bbd9b"/><stop offset="0.26" stop-color="#76c29c"/><stop offset="0.3" stop-color="#81c79d"/><stop offset="0.35" stop-color="#8ecc99"/><stop offset="0.39" stop-color="#9cd094"/><stop offset="0.43" stop-color="#a6d393"/><stop offset="0.48" stop-color="#a8d48d"/><stop offset="0.52" stop-color="#a6d383"/><stop offset="0.57" stop-color="#afd576"/><stop offset="0.61" stop-color="#bdda6b"/><stop offset="0.65" stop-color="#ccdd62"/><stop offset="0.7" stop-color="#dce158"/><stop offset="0.74" stop-color="#e9e14f"/><stop offset="0.78" stop-color="#f2db44"/><stop offset="0.83" stop-color="#f6d03a"/><stop offset="0.87" stop-color="#f6c233"/><stop offset="0.91" stop-color="#f5b52b"/><stop offset="0.96" stop-color="#f4ac25"/><stop offset="1" stop-color="#f3a625"/></linearGradient>
<linearGradient id="r60" gradientUnits="userSpaceOnUse" x1="266" y1="0" x2="336" y2="0"><stop offset="0" stop-color="#40ac9a"/><stop offset="0.04" stop-color="#42ad99"/><stop offset="0.09" stop-color="#4bb09a"/><stop offset="0.13" stop-color="#55b49b"/><stop offset="0.17" stop-color="#60b89d"/><stop offset="0.21" stop-color="#6bbc9e"/><stop offset="0.26" stop-color="#75c19f"/><stop offset="0.3" stop-color="#81c79f"/><stop offset="0.34" stop-color="#8dcc9e"/><stop offset="0.39" stop-color="#9cd097"/><stop offset="0.43" stop-color="#a7d497"/><stop offset="0.47" stop-color="#abd592"/><stop offset="0.51" stop-color="#a9d487"/><stop offset="0.56" stop-color="#b1d67a"/><stop offset="0.6" stop-color="#bfdb6f"/><stop offset="0.64" stop-color="#cfdf65"/><stop offset="0.69" stop-color="#dfe25b"/><stop offset="0.73" stop-color="#ece151"/><stop offset="0.77" stop-color="#f5da46"/><stop offset="0.81" stop-color="#f6cd3d"/><stop offset="0.86" stop-color="#f6bf35"/><stop offset="0.9" stop-color="#f5b32e"/><stop offset="0.94" stop-color="#f4aa27"/><stop offset="0.99" stop-color="#f3a325"/><stop offset="1" stop-color="#f3a125"/></linearGradient>
<linearGradient id="r61" gradientUnits="userSpaceOnUse" x1="266" y1="0" x2="337" y2="0"><stop offset="0" stop-color="#3fac9c"/><stop offset="0.04" stop-color="#41ac9b"/><stop offset="0.08" stop-color="#4ab09c"/><stop offset="0.13" stop-color="#54b49e"/><stop offset="0.17" stop-color="#5eb89f"/><stop offset="0.21" stop-color="#6abca0"/><stop offset="0.25" stop-color="#75c1a1"/><stop offset="0.3" stop-color="#80c6a2"/><stop offset="0.34" stop-color="#8ccca2"/><stop offset="0.38" stop-color="#9bd19c"/><stop offset="0.42" stop-color="#a7d59b"/><stop offset="0.46" stop-color="#add696"/><stop offset="0.51" stop-color="#abd58b"/><stop offset="0.55" stop-color="#b3d77d"/><stop offset="0.59" stop-color="#c1dc73"/><stop offset="0.63" stop-color="#d2e068"/><stop offset="0.68" stop-color="#e2e35f"/><stop offset="0.72" stop-color="#eee054"/><stop offset="0.76" stop-color="#f7d849"/><stop offset="0.8" stop-color="#f6c940"/><stop offset="0.85" stop-color="#f6bb38"/><stop offset="0.89" stop-color="#f5b131"/><stop offset="0.93" stop-color="#f4a82a"/><stop offset="0.97" stop-color="#f2a026"/><stop offset="1" stop-color="#f29c26"/></linearGradient>
<linearGradient id="r62" gradientUnits="userSpaceOnUse" x1="266" y1="0" x2="338" y2="0"><stop offset="0" stop-color="#3eac9e"/><stop offset="0.04" stop-color="#3fac9d"/><stop offset="0.08" stop-color="#49b09e"/><stop offset="0.12" stop-color="#53b4a0"/><stop offset="0.17" stop-color="#5db8a1"/><stop offset="0.21" stop-color="#68bca2"/><stop offset="0.25" stop-color="#74c1a3"/><stop offset="0.29" stop-color="#7fc6a4"/><stop offset="0.33" stop-color="#8ccca5"/><stop offset="0.38" stop-color="#9ad1a1"/><stop offset="0.42" stop-color="#a8d59d"/><stop offset="0.46" stop-color="#afd79a"/><stop offset="0.5" stop-color="#aed78f"/><stop offset="0.54" stop-color="#b5d982"/><stop offset="0.58" stop-color="#c4dd76"/><stop offset="0.62" stop-color="#d5e16c"/><stop offset="0.67" stop-color="#e6e462"/><stop offset="0.71" stop-color="#f1df56"/><stop offset="0.75" stop-color="#f7d54b"/><stop offset="0.79" stop-color="#f6c643"/><stop offset="0.83" stop-color="#f6b93b"/><stop offset="0.88" stop-color="#f4af34"/><stop offset="0.92" stop-color="#f3a62d"/><stop offset="0.96" stop-color="#f29d26"/><stop offset="1" stop-color="#f19727"/></linearGradient>
<linearGradient id="r63" gradientUnits="userSpaceOnUse" x1="266" y1="0" x2="339" y2="0"><stop offset="0" stop-color="#3eaca0"/><stop offset="0.04" stop-color="#3eac9e"/><stop offset="0.08" stop-color="#48b0a0"/><stop offset="0.12" stop-color="#52b4a2"/><stop offset="0.16" stop-color="#5cb8a3"/><stop offset="0.21" stop-color="#67bca5"/><stop offset="0.25" stop-color="#73c0a6"/><stop offset="0.29" stop-color="#7fc6a7"/><stop offset="0.33" stop-color="#8bcba8"/><stop offset="0.37" stop-color="#99d1a5"/><stop offset="0.41" stop-color="#a8d6a0"/><stop offset="0.45" stop-color="#b2d89e"/><stop offset="0.49" stop-color="#b1d894"/><stop offset="0.53" stop-color="#b7da86"/><stop offset="0.58" stop-color="#c6df7a"/><stop offset="0.62" stop-color="#d8e36f"/><stop offset="0.66" stop-color="#e9e665"/><stop offset="0.7" stop-color="#f4df59"/><stop offset="0.74" stop-color="#f7d24e"/><stop offset="0.78" stop-color="#f7c246"/><stop offset="0.82" stop-color="#f5b73e"/><stop offset="0.86" stop-color="#f4ad37"/><stop offset="0.9" stop-color="#f3a430"/><stop offset="0.95" stop-color="#f29a29"/><stop offset="0.99" stop-color="#f19427"/><stop offset="1" stop-color="#f19227"/></linearGradient>
<linearGradient id="r64" gradientUnits="userSpaceOnUse" x1="267" y1="0" x2="340" y2="0"><stop offset="0" stop-color="#3daca2"/><stop offset="0.04" stop-color="#41ada1"/><stop offset="0.08" stop-color="#4ab1a3"/><stop offset="0.12" stop-color="#54b5a4"/><stop offset="0.16" stop-color="#5eb9a6"/><stop offset="0.21" stop-color="#6abda7"/><stop offset="0.25" stop-color="#76c2a9"/><stop offset="0.29" stop-color="#82c7aa"/><stop offset="0.33" stop-color="#8fcdab"/><stop offset="0.37" stop-color="#9dd3a8"/><stop offset="0.41" stop-color="#acd8a4"/><stop offset="0.45" stop-color="#b5daa0"/><stop offset="0.49" stop-color="#b3d994"/><stop offset="0.53" stop-color="#bfdd86"/><stop offset="0.58" stop-color="#cfe17a"/><stop offset="0.62" stop-color="#e2e56f"/><stop offset="0.66" stop-color="#f0e364"/><stop offset="0.7" stop-color="#f7d958"/><stop offset="0.74" stop-color="#f7c94e"/><stop offset="0.78" stop-color="#f6bc46"/><stop offset="0.82" stop-color="#f5b13f"/><stop offset="0.86" stop-color="#f3a838"/><stop offset="0.9" stop-color="#f29e31"/><stop offset="0.95" stop-color="#f1952a"/><stop offset="0.99" stop-color="#f08f28"/><stop offset="1" stop-color="#f08d28"/></linearGradient>
<linearGradient id="r65" gradientUnits="userSpaceOnUse" x1="267" y1="0" x2="341" y2="0"><stop offset="0" stop-color="#3caca4"/><stop offset="0.04" stop-color="#3fada3"/><stop offset="0.08" stop-color="#49b1a5"/><stop offset="0.12" stop-color="#53b5a6"/><stop offset="0.16" stop-color="#5db9a8"/><stop offset="0.2" stop-color="#68bdaa"/><stop offset="0.24" stop-color="#74c2ab"/><stop offset="0.28" stop-color="#81c7ac"/><stop offset="0.32" stop-color="#8ecdad"/><stop offset="0.36" stop-color="#9cd3ad"/><stop offset="0.41" stop-color="#add8a7"/><stop offset="0.45" stop-color="#b7dba4"/><stop offset="0.49" stop-color="#b6da99"/><stop offset="0.53" stop-color="#c1de8a"/><stop offset="0.57" stop-color="#d2e37e"/><stop offset="0.61" stop-color="#e5e773"/><stop offset="0.65" stop-color="#f3e266"/><stop offset="0.69" stop-color="#f8d55b"/><stop offset="0.73" stop-color="#f7c552"/><stop offset="0.77" stop-color="#f6b94a"/><stop offset="0.81" stop-color="#f4af42"/><stop offset="0.85" stop-color="#f3a53b"/><stop offset="0.89" stop-color="#f29c34"/><stop offset="0.93" stop-color="#f1932d"/><stop offset="0.97" stop-color="#f08b28"/><stop offset="1" stop-color="#ef8829"/></linearGradient>
<linearGradient id="r66" gradientUnits="userSpaceOnUse" x1="267" y1="0" x2="342" y2="0"><stop offset="0" stop-color="#3caca6"/><stop offset="0.04" stop-color="#3eada5"/><stop offset="0.08" stop-color="#48b1a6"/><stop offset="0.12" stop-color="#52b4a8"/><stop offset="0.16" stop-color="#5cb8aa"/><stop offset="0.2" stop-color="#67bdac"/><stop offset="0.24" stop-color="#73c1ae"/><stop offset="0.28" stop-color="#80c6af"/><stop offset="0.32" stop-color="#8dccb0"/><stop offset="0.36" stop-color="#9bd3b1"/><stop offset="0.4" stop-color="#acd8ab"/><stop offset="0.44" stop-color="#b9dca9"/><stop offset="0.48" stop-color="#b9dc9e"/><stop offset="0.52" stop-color="#c4df8f"/><stop offset="0.56" stop-color="#d6e482"/><stop offset="0.6" stop-color="#e9e877"/><stop offset="0.64" stop-color="#f6e169"/><stop offset="0.68" stop-color="#f8d15e"/><stop offset="0.72" stop-color="#f7c255"/><stop offset="0.76" stop-color="#f5b74d"/><stop offset="0.8" stop-color="#f4ac45"/><stop offset="0.84" stop-color="#f3a23e"/><stop offset="0.88" stop-color="#f29937"/><stop offset="0.92" stop-color="#f19030"/><stop offset="0.96" stop-color="#ef8729"/><stop offset="1" stop-color="#ef8329"/></linearGradient>
<linearGradient id="r67" gradientUnits="userSpaceOnUse" x1="267" y1="0" x2="343" y2="0"><stop offset="0" stop-color="#3bacaa"/><stop offset="0.04" stop-color="#3dada7"/><stop offset="0.08" stop-color="#47b0a8"/><stop offset="0.12" stop-color="#50b4aa"/><stop offset="0.16" stop-color="#5bb8ac"/><stop offset="0.2" stop-color="#66bdae"/><stop offset="0.24" stop-color="#72c1b0"/><stop offset="0.28" stop-color="#7fc6b2"/><stop offset="0.32" stop-color="#8dccb3"/><stop offset="0.36" stop-color="#9bd2b4"/><stop offset="0.39" stop-color="#abd9b1"/><stop offset="0.43" stop-color="#bbddad"/><stop offset="0.47" stop-color="#bcdea3"/><stop offset="0.51" stop-color="#c6e193"/><stop offset="0.55" stop-color="#dae686"/><stop offset="0.59" stop-color="#ede97a"/><stop offset="0.63" stop-color="#f8e06c"/><stop offset="0.67" stop-color="#f8cd62"/><stop offset="0.71" stop-color="#f7c059"/><stop offset="0.75" stop-color="#f5b450"/><stop offset="0.79" stop-color="#f4aa49"/><stop offset="0.83" stop-color="#f3a041"/><stop offset="0.87" stop-color="#f1963a"/><stop offset="0.91" stop-color="#f08d33"/><stop offset="0.95" stop-color="#ef842c"/><stop offset="0.99" stop-color="#ee7e2a"/><stop offset="1" stop-color="#ee7d2a"/></linearGradient>
<linearGradient id="r68" gradientUnits="userSpaceOnUse" x1="267" y1="0" x2="344" y2="0"><stop offset="0" stop-color="#3aacad"/><stop offset="0.04" stop-color="#3cacab"/><stop offset="0.08" stop-color="#45b0ab"/><stop offset="0.12" stop-color="#4fb4ac"/><stop offset="0.16" stop-color="#5ab8af"/><stop offset="0.19" stop-color="#65bcb1"/><stop offset="0.23" stop-color="#70c1b3"/><stop offset="0.27" stop-color="#7dc6b4"/><stop offset="0.31" stop-color="#8bcbb6"/><stop offset="0.35" stop-color="#9ad2b7"/><stop offset="0.39" stop-color="#aad9b6"/><stop offset="0.43" stop-color="#bcdeb2"/><stop offset="0.47" stop-color="#bfdfa9"/><stop offset="0.51" stop-color="#c9e298"/><stop offset="0.55" stop-color="#dee78b"/><stop offset="0.58" stop-color="#f0e87d"/><stop offset="0.62" stop-color="#f8dc70"/><stop offset="0.66" stop-color="#f8ca65"/><stop offset="0.7" stop-color="#f6bd5c"/><stop offset="0.74" stop-color="#f5b254"/><stop offset="0.78" stop-color="#f3a74c"/><stop offset="0.82" stop-color="#f29d44"/><stop offset="0.86" stop-color="#f1933d"/><stop offset="0.9" stop-color="#f08a36"/><stop offset="0.94" stop-color="#ef812f"/><stop offset="0.97" stop-color="#ee7a2a"/><stop offset="1" stop-color="#ed782b"/></linearGradient>
<linearGradient id="r69" gradientUnits="userSpaceOnUse" x1="267" y1="0" x2="345" y2="0"><stop offset="0" stop-color="#39acb1"/><stop offset="0.04" stop-color="#3aacae"/><stop offset="0.08" stop-color="#44b0af"/><stop offset="0.12" stop-color="#4eb4af"/><stop offset="0.15" stop-color="#58b8b1"/><stop offset="0.19" stop-color="#63bcb3"/><stop offset="0.23" stop-color="#6fc1b5"/><stop offset="0.27" stop-color="#7cc6b7"/><stop offset="0.31" stop-color="#8acbb9"/><stop offset="0.35" stop-color="#99d1ba"/><stop offset="0.38" stop-color="#a9d9bc"/><stop offset="0.42" stop-color="#bcdfb6"/><stop offset="0.46" stop-color="#c3e1af"/><stop offset="0.5" stop-color="#cce49d"/><stop offset="0.54" stop-color="#e2e98f"/><stop offset="0.58" stop-color="#f4e881"/><stop offset="0.62" stop-color="#f9d774"/><stop offset="0.65" stop-color="#f8c769"/><stop offset="0.69" stop-color="#f6ba60"/><stop offset="0.73" stop-color="#f4af58"/><stop offset="0.77" stop-color="#f3a44f"/><stop offset="0.81" stop-color="#f29a48"/><stop offset="0.85" stop-color="#f19040"/><stop offset="0.88" stop-color="#ef8739"/><stop offset="0.92" stop-color="#ee7e32"/><stop offset="0.96" stop-color="#ed752c"/><stop offset="1" stop-color="#ed712b"/></linearGradient>
<linearGradient id="r70" gradientUnits="userSpaceOnUse" x1="267" y1="0" x2="346" y2="0"><stop offset="0" stop-color="#38abb5"/><stop offset="0.04" stop-color="#38acb2"/><stop offset="0.08" stop-color="#42afb3"/><stop offset="0.11" stop-color="#4cb3b3"/><stop offset="0.15" stop-color="#57b8b4"/><stop offset="0.19" stop-color="#62bcb5"/><stop offset="0.23" stop-color="#6ec1b8"/><stop offset="0.27" stop-color="#7ac6ba"/><stop offset="0.3" stop-color="#88cbbc"/><stop offset="0.34" stop-color="#98d1be"/><stop offset="0.38" stop-color="#a8d8bf"/><stop offset="0.42" stop-color="#bce0ba"/><stop offset="0.46" stop-color="#c7e3b5"/><stop offset="0.49" stop-color="#cfe5a3"/><stop offset="0.53" stop-color="#e6eb94"/><stop offset="0.57" stop-color="#f8e784"/><stop offset="0.61" stop-color="#f9d277"/><stop offset="0.65" stop-color="#f7c46d"/><stop offset="0.68" stop-color="#f6b764"/><stop offset="0.72" stop-color="#f4ab5b"/><stop offset="0.76" stop-color="#f3a153"/><stop offset="0.8" stop-color="#f1964b"/><stop offset="0.84" stop-color="#f08c43"/><stop offset="0.87" stop-color="#ef833c"/><stop offset="0.91" stop-color="#ee7a35"/><stop offset="0.95" stop-color="#ed722f"/><stop offset="0.99" stop-color="#ec6c2c"/><stop offset="1" stop-color="#ec6b2c"/></linearGradient>
<linearGradient id="r71" gradientUnits="userSpaceOnUse" x1="268" y1="0" x2="347" y2="0"><stop offset="0" stop-color="#37abb8"/><stop offset="0.04" stop-color="#3aacb6"/><stop offset="0.08" stop-color="#44b0b7"/><stop offset="0.11" stop-color="#4eb4b8"/><stop offset="0.15" stop-color="#59b9b8"/><stop offset="0.19" stop-color="#64bdb9"/><stop offset="0.23" stop-color="#70c2bb"/><stop offset="0.27" stop-color="#7dc7bd"/><stop offset="0.3" stop-color="#8bcdc0"/><stop offset="0.34" stop-color="#9cd3c2"/><stop offset="0.38" stop-color="#addac3"/><stop offset="0.42" stop-color="#c2e2be"/><stop offset="0.46" stop-color="#cae4b6"/><stop offset="0.49" stop-color="#dae9a3"/><stop offset="0.53" stop-color="#f2ed93"/><stop offset="0.57" stop-color="#f9dc84"/><stop offset="0.61" stop-color="#f8ca78"/><stop offset="0.65" stop-color="#f6bc6e"/><stop offset="0.68" stop-color="#f5b065"/><stop offset="0.72" stop-color="#f3a45c"/><stop offset="0.76" stop-color="#f29954"/><stop offset="0.8" stop-color="#f18f4c"/><stop offset="0.84" stop-color="#ef8644"/><stop offset="0.87" stop-color="#ee7c3d"/><stop offset="0.91" stop-color="#ed7336"/><stop offset="0.95" stop-color="#ec6b2f"/><stop offset="0.99" stop-color="#eb662d"/><stop offset="1" stop-color="#eb652d"/></linearGradient>
<linearGradient id="r72" gradientUnits="userSpaceOnUse" x1="268" y1="0" x2="348" y2="0"><stop offset="0" stop-color="#36abbb"/><stop offset="0.04" stop-color="#38acba"/><stop offset="0.07" stop-color="#42b0bb"/><stop offset="0.11" stop-color="#4cb4bc"/><stop offset="0.15" stop-color="#57b8bd"/><stop offset="0.19" stop-color="#62bdbd"/><stop offset="0.23" stop-color="#6fc2be"/><stop offset="0.26" stop-color="#7cc7c0"/><stop offset="0.3" stop-color="#8accc3"/><stop offset="0.34" stop-color="#9ad3c5"/><stop offset="0.38" stop-color="#acdac7"/><stop offset="0.41" stop-color="#c1e3c5"/><stop offset="0.45" stop-color="#cee6bd"/><stop offset="0.49" stop-color="#deeba9"/><stop offset="0.53" stop-color="#f6ec97"/><stop offset="0.56" stop-color="#fad688"/><stop offset="0.6" stop-color="#f8c77d"/><stop offset="0.64" stop-color="#f6b973"/><stop offset="0.68" stop-color="#f4ac69"/><stop offset="0.71" stop-color="#f3a060"/><stop offset="0.75" stop-color="#f19557"/><stop offset="0.79" stop-color="#f08b4f"/><stop offset="0.82" stop-color="#ef8148"/><stop offset="0.86" stop-color="#ee7840"/><stop offset="0.9" stop-color="#ec6f39"/><stop offset="0.94" stop-color="#eb6732"/><stop offset="0.97" stop-color="#eb612d"/><stop offset="1" stop-color="#eb5f2d"/></linearGradient>
<linearGradient id="r73" gradientUnits="userSpaceOnUse" x1="268" y1="0" x2="349" y2="0"><stop offset="0" stop-color="#35abbf"/><stop offset="0.04" stop-color="#37acbe"/><stop offset="0.07" stop-color="#40b0bf"/><stop offset="0.11" stop-color="#4ab4c0"/><stop offset="0.15" stop-color="#55b8c1"/><stop offset="0.19" stop-color="#60bcc2"/><stop offset="0.22" stop-color="#6dc1c3"/><stop offset="0.26" stop-color="#7ac7c4"/><stop offset="0.3" stop-color="#88ccc6"/><stop offset="0.33" stop-color="#98d2c9"/><stop offset="0.37" stop-color="#abd9cb"/><stop offset="0.41" stop-color="#c0e3cd"/><stop offset="0.44" stop-color="#d2e9c5"/><stop offset="0.48" stop-color="#e3edaf"/><stop offset="0.52" stop-color="#faea9c"/><stop offset="0.56" stop-color="#f9d38d"/><stop offset="0.59" stop-color="#f7c382"/><stop offset="0.63" stop-color="#f5b577"/><stop offset="0.67" stop-color="#f4a86d"/><stop offset="0.7" stop-color="#f29c64"/><stop offset="0.74" stop-color="#f1915b"/><stop offset="0.78" stop-color="#ef8653"/><stop offset="0.81" stop-color="#ee7d4b"/><stop offset="0.85" stop-color="#ed7444"/><stop offset="0.89" stop-color="#ec6b3c"/><stop offset="0.93" stop-color="#eb6435"/><stop offset="0.96" stop-color="#eb5c2e"/><stop offset="1" stop-color="#ea5a2e"/></linearGradient>
<linearGradient id="r74" gradientUnits="userSpaceOnUse" x1="268" y1="0" x2="350" y2="0"><stop offset="0" stop-color="#34abc2"/><stop offset="0.04" stop-color="#35abc1"/><stop offset="0.07" stop-color="#3fafc3"/><stop offset="0.11" stop-color="#49b3c4"/><stop offset="0.15" stop-color="#53b7c5"/><stop offset="0.18" stop-color="#5ebcc7"/><stop offset="0.22" stop-color="#6ac1c8"/><stop offset="0.26" stop-color="#78c6c9"/><stop offset="0.29" stop-color="#86ccca"/><stop offset="0.33" stop-color="#96d2cc"/><stop offset="0.37" stop-color="#a8d9cf"/><stop offset="0.4" stop-color="#bfe2d2"/><stop offset="0.44" stop-color="#d7ebcc"/><stop offset="0.48" stop-color="#e9f0b6"/><stop offset="0.51" stop-color="#fbe3a1"/><stop offset="0.55" stop-color="#f9cf93"/><stop offset="0.59" stop-color="#f7be87"/><stop offset="0.62" stop-color="#f5b07c"/><stop offset="0.66" stop-color="#f3a372"/><stop offset="0.7" stop-color="#f29768"/><stop offset="0.73" stop-color="#f08c5f"/><stop offset="0.77" stop-color="#ef8257"/><stop offset="0.8" stop-color="#ee794f"/><stop offset="0.84" stop-color="#ed7047"/><stop offset="0.88" stop-color="#ec683f"/><stop offset="0.91" stop-color="#eb6138"/><stop offset="0.95" stop-color="#eb5931"/><stop offset="0.99" stop-color="#ea552e"/><stop offset="1" stop-color="#ea552e"/></linearGradient>
<linearGradient id="r75" gradientUnits="userSpaceOnUse" x1="268" y1="0" x2="351" y2="0"><stop offset="0" stop-color="#33abc6"/><stop offset="0.04" stop-color="#34abc5"/><stop offset="0.07" stop-color="#3dafc7"/><stop offset="0.11" stop-color="#47b3c8"/><stop offset="0.14" stop-color="#51b7ca"/><stop offset="0.18" stop-color="#5cbbcb"/><stop offset="0.22" stop-color="#68c0cd"/><stop offset="0.25" stop-color="#75c5ce"/><stop offset="0.29" stop-color="#84cbd0"/><stop offset="0.33" stop-color="#94d2d1"/><stop offset="0.36" stop-color="#a6d9d3"/><stop offset="0.4" stop-color="#bde2d7"/><stop offset="0.43" stop-color="#daedd5"/><stop offset="0.47" stop-color="#f0f3bd"/><stop offset="0.51" stop-color="#fbdda8"/><stop offset="0.54" stop-color="#f8ca99"/><stop offset="0.58" stop-color="#f6b98c"/><stop offset="0.61" stop-color="#f4aa81"/><stop offset="0.65" stop-color="#f29d76"/><stop offset="0.69" stop-color="#f1916c"/><stop offset="0.72" stop-color="#f08763"/><stop offset="0.76" stop-color="#ef7e5a"/><stop offset="0.8" stop-color="#ee7552"/><stop offset="0.83" stop-color="#ed6d4a"/><stop offset="0.87" stop-color="#ec6442"/><stop offset="0.9" stop-color="#eb5d3b"/><stop offset="0.94" stop-color="#eb5534"/><stop offset="0.98" stop-color="#ea4f2f"/><stop offset="1" stop-color="#ea4e2f"/></linearGradient>
<linearGradient id="r76" gradientUnits="userSpaceOnUse" x1="269" y1="0" x2="352" y2="0"><stop offset="0" stop-color="#32abc9"/><stop offset="0.04" stop-color="#35acc9"/><stop offset="0.07" stop-color="#3eb0cb"/><stop offset="0.11" stop-color="#48b4cd"/><stop offset="0.14" stop-color="#53b8cf"/><stop offset="0.18" stop-color="#5ebdd0"/><stop offset="0.22" stop-color="#6ac1d2"/><stop offset="0.25" stop-color="#77c7d4"/><stop offset="0.29" stop-color="#86cdd6"/><stop offset="0.33" stop-color="#97d3d8"/><stop offset="0.36" stop-color="#aadbd9"/><stop offset="0.4" stop-color="#c3e5dd"/><stop offset="0.43" stop-color="#e3f1da"/><stop offset="0.47" stop-color="#fceabc"/><stop offset="0.51" stop-color="#f9d0a9"/><stop offset="0.54" stop-color="#f6bd9a"/><stop offset="0.58" stop-color="#f4ad8e"/><stop offset="0.61" stop-color="#f3a082"/><stop offset="0.65" stop-color="#f29477"/><stop offset="0.69" stop-color="#f1896d"/><stop offset="0.72" stop-color="#ef8064"/><stop offset="0.76" stop-color="#ee765b"/><stop offset="0.8" stop-color="#ee6d53"/><stop offset="0.83" stop-color="#ed654b"/><stop offset="0.87" stop-color="#ec5d43"/><stop offset="0.9" stop-color="#eb563c"/><stop offset="0.94" stop-color="#ea4e35"/><stop offset="0.98" stop-color="#ea492f"/><stop offset="1" stop-color="#ea482f"/></linearGradient>
<linearGradient id="r77" gradientUnits="userSpaceOnUse" x1="269" y1="0" x2="353" y2="0"><stop offset="0" stop-color="#31abcd"/><stop offset="0.04" stop-color="#33abcd"/><stop offset="0.07" stop-color="#3dafcf"/><stop offset="0.11" stop-color="#47b3d1"/><stop offset="0.14" stop-color="#51b8d3"/><stop offset="0.18" stop-color="#5cbcd5"/><stop offset="0.21" stop-color="#68c1d7"/><stop offset="0.25" stop-color="#75c6da"/><stop offset="0.29" stop-color="#83ccdc"/><stop offset="0.32" stop-color="#94d3df"/><stop offset="0.36" stop-color="#a7dae2"/><stop offset="0.39" stop-color="#bfe4e4"/><stop offset="0.43" stop-color="#e6f4e7"/><stop offset="0.46" stop-color="#fbe2c5"/><stop offset="0.5" stop-color="#f8c8b1"/><stop offset="0.54" stop-color="#f6b5a1"/><stop offset="0.57" stop-color="#f4a793"/><stop offset="0.61" stop-color="#f39a87"/><stop offset="0.64" stop-color="#f28e7b"/><stop offset="0.68" stop-color="#f08371"/><stop offset="0.71" stop-color="#ef7a68"/><stop offset="0.75" stop-color="#ee715f"/><stop offset="0.79" stop-color="#ed6856"/><stop offset="0.82" stop-color="#ed604e"/><stop offset="0.86" stop-color="#ec5846"/><stop offset="0.89" stop-color="#eb503f"/><stop offset="0.93" stop-color="#ea4938"/><stop offset="0.96" stop-color="#e94231"/><stop offset="1" stop-color="#e94130"/></linearGradient>
<linearGradient id="r78" gradientUnits="userSpaceOnUse" x1="269" y1="0" x2="354" y2="0"><stop offset="0" stop-color="#30aad0"/><stop offset="0.04" stop-color="#32abd1"/><stop offset="0.07" stop-color="#3bafd3"/><stop offset="0.11" stop-color="#45b3d5"/><stop offset="0.14" stop-color="#4fb7d7"/><stop offset="0.18" stop-color="#5abcda"/><stop offset="0.21" stop-color="#66c0dc"/><stop offset="0.25" stop-color="#73c6df"/><stop offset="0.28" stop-color="#81cbe2"/><stop offset="0.32" stop-color="#91d2e6"/><stop offset="0.35" stop-color="#a3d9ea"/><stop offset="0.39" stop-color="#bbe3ef"/><stop offset="0.42" stop-color="#e0f2f7"/><stop offset="0.46" stop-color="#fad4d1"/><stop offset="0.49" stop-color="#f7bcb9"/><stop offset="0.53" stop-color="#f6aba7"/><stop offset="0.56" stop-color="#f49d98"/><stop offset="0.6" stop-color="#f3918c"/><stop offset="0.64" stop-color="#f18580"/><stop offset="0.67" stop-color="#f07b75"/><stop offset="0.71" stop-color="#ef726c"/><stop offset="0.74" stop-color="#ee6962"/><stop offset="0.78" stop-color="#ed615a"/><stop offset="0.81" stop-color="#ec5951"/><stop offset="0.85" stop-color="#eb514a"/><stop offset="0.88" stop-color="#eb4a42"/><stop offset="0.92" stop-color="#ea433b"/><stop offset="0.95" stop-color="#e93c34"/><stop offset="0.99" stop-color="#e93931"/><stop offset="1" stop-color="#e93931"/></linearGradient>
<linearGradient id="r79" gradientUnits="userSpaceOnUse" x1="269" y1="0" x2="355" y2="0"><stop offset="0" stop-color="#2faad4"/><stop offset="0.03" stop-color="#30abd4"/><stop offset="0.07" stop-color="#39aed6"/><stop offset="0.1" stop-color="#43b2d9"/><stop offset="0.14" stop-color="#4db7db"/><stop offset="0.17" stop-color="#58bbde"/><stop offset="0.21" stop-color="#64c0e1"/><stop offset="0.24" stop-color="#70c5e4"/><stop offset="0.28" stop-color="#7ecbe8"/><stop offset="0.31" stop-color="#8ed1ec"/><stop offset="0.35" stop-color="#a0d8ef"/><stop offset="0.38" stop-color="#b7e0f3"/><stop offset="0.42" stop-color="#d8e7f8"/><stop offset="0.45" stop-color="#f8c5d8"/><stop offset="0.49" stop-color="#f6b2bf"/><stop offset="0.52" stop-color="#f5a6ad"/><stop offset="0.56" stop-color="#f4989e"/><stop offset="0.59" stop-color="#f28b90"/><stop offset="0.63" stop-color="#f17f85"/><stop offset="0.66" stop-color="#f0747a"/><stop offset="0.7" stop-color="#ef6a70"/><stop offset="0.73" stop-color="#ee6066"/><stop offset="0.77" stop-color="#ed575e"/><stop offset="0.8" stop-color="#ec4f55"/><stop offset="0.84" stop-color="#eb484d"/><stop offset="0.87" stop-color="#ea4146"/><stop offset="0.91" stop-color="#ea3a3e"/><stop offset="0.94" stop-color="#e93437"/><stop offset="0.98" stop-color="#e82f32"/><stop offset="1" stop-color="#e83032"/></linearGradient>
<linearGradient id="r80" gradientUnits="userSpaceOnUse" x1="269" y1="0" x2="356" y2="0"><stop offset="0" stop-color="#2eaad7"/><stop offset="0.03" stop-color="#2faad8"/><stop offset="0.07" stop-color="#38aeda"/><stop offset="0.1" stop-color="#41b2dd"/><stop offset="0.14" stop-color="#4cb6e0"/><stop offset="0.17" stop-color="#56bbe3"/><stop offset="0.21" stop-color="#62bfe5"/><stop offset="0.24" stop-color="#6ec4e7"/><stop offset="0.28" stop-color="#7cc9ea"/><stop offset="0.31" stop-color="#8ccfec"/><stop offset="0.34" stop-color="#9dd6f0"/><stop offset="0.38" stop-color="#b3ddf4"/><stop offset="0.41" stop-color="#d3cde6"/><stop offset="0.45" stop-color="#f1b9d8"/><stop offset="0.48" stop-color="#f4a8c3"/><stop offset="0.52" stop-color="#f39bb1"/><stop offset="0.55" stop-color="#f28fa1"/><stop offset="0.59" stop-color="#f18594"/><stop offset="0.62" stop-color="#f17f88"/><stop offset="0.66" stop-color="#f0757d"/><stop offset="0.69" stop-color="#ef6b73"/><stop offset="0.72" stop-color="#ee6269"/><stop offset="0.76" stop-color="#ed5960"/><stop offset="0.79" stop-color="#ec5058"/><stop offset="0.83" stop-color="#eb4850"/><stop offset="0.86" stop-color="#ea4048"/><stop offset="0.9" stop-color="#e93941"/><stop offset="0.93" stop-color="#e9313a"/><stop offset="0.97" stop-color="#e82a33"/><stop offset="1" stop-color="#e82a32"/></linearGradient>
<linearGradient id="r81" gradientUnits="userSpaceOnUse" x1="270" y1="0" x2="357" y2="0"><stop offset="0" stop-color="#2daadb"/><stop offset="0.03" stop-color="#30abdc"/><stop offset="0.07" stop-color="#39afde"/><stop offset="0.1" stop-color="#43b3e0"/><stop offset="0.14" stop-color="#4eb7e2"/><stop offset="0.17" stop-color="#59bbe4"/><stop offset="0.21" stop-color="#64bfe6"/><stop offset="0.24" stop-color="#71c4e8"/><stop offset="0.28" stop-color="#7fc9eb"/><stop offset="0.31" stop-color="#8fcfed"/><stop offset="0.34" stop-color="#a1d5f1"/><stop offset="0.38" stop-color="#b7d7f3"/><stop offset="0.41" stop-color="#dabbdf"/><stop offset="0.45" stop-color="#edaad0"/><stop offset="0.48" stop-color="#f29bbf"/><stop offset="0.52" stop-color="#f18fae"/><stop offset="0.55" stop-color="#f0859f"/><stop offset="0.59" stop-color="#ef7b93"/><stop offset="0.62" stop-color="#ee7287"/><stop offset="0.66" stop-color="#ee6a7c"/><stop offset="0.69" stop-color="#ee6672"/><stop offset="0.72" stop-color="#ed5f69"/><stop offset="0.76" stop-color="#ec5660"/><stop offset="0.79" stop-color="#ec4e58"/><stop offset="0.83" stop-color="#eb4650"/><stop offset="0.86" stop-color="#ea3f48"/><stop offset="0.9" stop-color="#e93741"/><stop offset="0.93" stop-color="#e8303a"/><stop offset="0.97" stop-color="#e82933"/><stop offset="1" stop-color="#e82832"/></linearGradient>
<linearGradient id="r82" gradientUnits="userSpaceOnUse" x1="270" y1="0" x2="359" y2="0"><stop offset="0" stop-color="#2da9dc"/><stop offset="0.03" stop-color="#2faadd"/><stop offset="0.07" stop-color="#38aede"/><stop offset="0.1" stop-color="#42b1e0"/><stop offset="0.13" stop-color="#4cb5e2"/><stop offset="0.17" stop-color="#57b9e4"/><stop offset="0.2" stop-color="#63bee6"/><stop offset="0.24" stop-color="#6fc2e8"/><stop offset="0.27" stop-color="#7dc7eb"/><stop offset="0.3" stop-color="#8dcdee"/><stop offset="0.34" stop-color="#9ed2f1"/><stop offset="0.37" stop-color="#b3ccee"/><stop offset="0.4" stop-color="#d3b1db"/><stop offset="0.44" stop-color="#e8a2ce"/><stop offset="0.47" stop-color="#ee94bf"/><stop offset="0.51" stop-color="#f088b0"/><stop offset="0.54" stop-color="#ef7ea2"/><stop offset="0.57" stop-color="#ee7595"/><stop offset="0.61" stop-color="#ee6c89"/><stop offset="0.64" stop-color="#ed647e"/><stop offset="0.67" stop-color="#ec5c74"/><stop offset="0.71" stop-color="#eb556b"/><stop offset="0.74" stop-color="#ea4e62"/><stop offset="0.78" stop-color="#eb4d5a"/><stop offset="0.81" stop-color="#ea4652"/><stop offset="0.84" stop-color="#ea3f4a"/><stop offset="0.88" stop-color="#e93843"/><stop offset="0.91" stop-color="#e8313c"/><stop offset="0.94" stop-color="#e82a35"/><stop offset="0.98" stop-color="#e72732"/><stop offset="1" stop-color="#e72732"/></linearGradient>
<linearGradient id="r83" gradientUnits="userSpaceOnUse" x1="270" y1="0" x2="360" y2="0"><stop offset="0" stop-color="#2ca9dc"/><stop offset="0.03" stop-color="#2ea9dd"/><stop offset="0.07" stop-color="#37acde"/><stop offset="0.1" stop-color="#41b0e0"/><stop offset="0.13" stop-color="#4bb4e2"/><stop offset="0.17" stop-color="#56b8e4"/><stop offset="0.2" stop-color="#61bce6"/><stop offset="0.23" stop-color="#6ec1e8"/><stop offset="0.27" stop-color="#7bc6eb"/><stop offset="0.3" stop-color="#8acaee"/><stop offset="0.33" stop-color="#9bcef1"/><stop offset="0.37" stop-color="#b0bde4"/><stop offset="0.4" stop-color="#cea8d7"/><stop offset="0.43" stop-color="#e39acd"/><stop offset="0.47" stop-color="#e98dbe"/><stop offset="0.5" stop-color="#ef82b1"/><stop offset="0.53" stop-color="#ee78a4"/><stop offset="0.57" stop-color="#ed6f97"/><stop offset="0.6" stop-color="#ed678b"/><stop offset="0.63" stop-color="#ec5f81"/><stop offset="0.67" stop-color="#eb5877"/><stop offset="0.7" stop-color="#ea506d"/><stop offset="0.73" stop-color="#ea4964"/><stop offset="0.77" stop-color="#e9435c"/><stop offset="0.8" stop-color="#e83c54"/><stop offset="0.83" stop-color="#e93a4c"/><stop offset="0.87" stop-color="#e93645"/><stop offset="0.9" stop-color="#e8303e"/><stop offset="0.93" stop-color="#e72a37"/><stop offset="0.97" stop-color="#e72531"/><stop offset="1" stop-color="#e72632"/></linearGradient>
<linearGradient id="r84" gradientUnits="userSpaceOnUse" x1="270" y1="0" x2="361" y2="0"><stop offset="0" stop-color="#2ca8dd"/><stop offset="0.03" stop-color="#2ca8dd"/><stop offset="0.07" stop-color="#36abde"/><stop offset="0.1" stop-color="#3fafe0"/><stop offset="0.13" stop-color="#49b3e2"/><stop offset="0.16" stop-color="#54b7e4"/><stop offset="0.2" stop-color="#60bbe6"/><stop offset="0.23" stop-color="#6cbfe8"/><stop offset="0.26" stop-color="#79c4eb"/><stop offset="0.3" stop-color="#87c8ee"/><stop offset="0.33" stop-color="#98c7ef"/><stop offset="0.36" stop-color="#acb0da"/><stop offset="0.4" stop-color="#c89fd3"/><stop offset="0.43" stop-color="#de93cb"/><stop offset="0.46" stop-color="#e587bd"/><stop offset="0.49" stop-color="#ea7cb1"/><stop offset="0.53" stop-color="#ed72a5"/><stop offset="0.56" stop-color="#ed6a99"/><stop offset="0.59" stop-color="#ec628d"/><stop offset="0.63" stop-color="#eb5a83"/><stop offset="0.66" stop-color="#ea5379"/><stop offset="0.69" stop-color="#ea4c6f"/><stop offset="0.73" stop-color="#e94566"/><stop offset="0.76" stop-color="#e83e5e"/><stop offset="0.79" stop-color="#e83856"/><stop offset="0.82" stop-color="#e7324e"/><stop offset="0.86" stop-color="#e62c46"/><stop offset="0.89" stop-color="#e6263f"/><stop offset="0.92" stop-color="#e62639"/><stop offset="0.96" stop-color="#e62232"/><stop offset="0.99" stop-color="#e72331"/><stop offset="1" stop-color="#e72331"/></linearGradient>
<linearGradient id="r85" gradientUnits="userSpaceOnUse" x1="270" y1="0" x2="362" y2="0"><stop offset="0" stop-color="#2ca7dd"/><stop offset="0.03" stop-color="#2ba7dd"/><stop offset="0.07" stop-color="#34aade"/><stop offset="0.1" stop-color="#3eaee0"/><stop offset="0.13" stop-color="#48b1e2"/><stop offset="0.16" stop-color="#53b5e4"/><stop offset="0.2" stop-color="#5eb9e6"/><stop offset="0.23" stop-color="#6abde8"/><stop offset="0.26" stop-color="#77c1eb"/><stop offset="0.29" stop-color="#85c5ee"/><stop offset="0.33" stop-color="#95c0ec"/><stop offset="0.36" stop-color="#aba2cf"/><stop offset="0.39" stop-color="#c498cf"/><stop offset="0.42" stop-color="#d88dc8"/><stop offset="0.46" stop-color="#e181bc"/><stop offset="0.49" stop-color="#e677b0"/><stop offset="0.52" stop-color="#eb6da6"/><stop offset="0.55" stop-color="#ec649a"/><stop offset="0.59" stop-color="#eb5d8f"/><stop offset="0.62" stop-color="#ea5584"/><stop offset="0.65" stop-color="#ea4e7a"/><stop offset="0.68" stop-color="#e94771"/><stop offset="0.72" stop-color="#e84168"/><stop offset="0.75" stop-color="#e83a60"/><stop offset="0.78" stop-color="#e73457"/><stop offset="0.82" stop-color="#e62e50"/><stop offset="0.85" stop-color="#e62848"/><stop offset="0.88" stop-color="#e52341"/><stop offset="0.91" stop-color="#e51d3a"/><stop offset="0.95" stop-color="#e41833"/><stop offset="0.98" stop-color="#e41830"/><stop offset="1" stop-color="#e51d31"/></linearGradient>
<linearGradient id="r86" gradientUnits="userSpaceOnUse" x1="271" y1="0" x2="360" y2="0"><stop offset="0" stop-color="#2ba6dd"/><stop offset="0.03" stop-color="#2da7dd"/><stop offset="0.07" stop-color="#36aadf"/><stop offset="0.1" stop-color="#40aee1"/><stop offset="0.13" stop-color="#4ab1e3"/><stop offset="0.17" stop-color="#55b5e5"/><stop offset="0.2" stop-color="#60b9e7"/><stop offset="0.24" stop-color="#6cbde9"/><stop offset="0.27" stop-color="#79c0ec"/><stop offset="0.3" stop-color="#88bfec"/><stop offset="0.34" stop-color="#99b0e1"/><stop offset="0.37" stop-color="#b197ce"/><stop offset="0.4" stop-color="#c68dca"/><stop offset="0.44" stop-color="#d983c3"/><stop offset="0.47" stop-color="#df78b7"/><stop offset="0.51" stop-color="#e46eac"/><stop offset="0.54" stop-color="#e865a2"/><stop offset="0.57" stop-color="#eb5d98"/><stop offset="0.61" stop-color="#ea558d"/><stop offset="0.64" stop-color="#e94e82"/><stop offset="0.67" stop-color="#e94779"/><stop offset="0.71" stop-color="#e84170"/><stop offset="0.74" stop-color="#e73a67"/><stop offset="0.78" stop-color="#e7345f"/><stop offset="0.81" stop-color="#e62e57"/><stop offset="0.84" stop-color="#e6284f"/><stop offset="0.88" stop-color="#e52347"/><stop offset="0.91" stop-color="#e41d40"/><stop offset="0.94" stop-color="#e41839"/><stop offset="0.98" stop-color="#e41636"/><stop offset="1" stop-color="#e41634"/></linearGradient>
<linearGradient id="r87" gradientUnits="userSpaceOnUse" x1="271" y1="0" x2="358" y2="0"><stop offset="0" stop-color="#2ba6dd"/><stop offset="0.03" stop-color="#2ca6de"/><stop offset="0.07" stop-color="#35a9df"/><stop offset="0.1" stop-color="#3face1"/><stop offset="0.14" stop-color="#49b0e3"/><stop offset="0.17" stop-color="#54b4e5"/><stop offset="0.21" stop-color="#5fb7e7"/><stop offset="0.24" stop-color="#6abaea"/><stop offset="0.28" stop-color="#76beec"/><stop offset="0.31" stop-color="#86b9ea"/><stop offset="0.34" stop-color="#96a1d7"/><stop offset="0.38" stop-color="#ae90cb"/><stop offset="0.41" stop-color="#c287c7"/><stop offset="0.45" stop-color="#d37dc0"/><stop offset="0.48" stop-color="#dc73b6"/><stop offset="0.52" stop-color="#e169ab"/><stop offset="0.55" stop-color="#e560a1"/><stop offset="0.59" stop-color="#e95898"/><stop offset="0.62" stop-color="#e9508e"/><stop offset="0.66" stop-color="#e94a84"/><stop offset="0.69" stop-color="#e8437a"/><stop offset="0.72" stop-color="#e73c71"/><stop offset="0.76" stop-color="#e73668"/><stop offset="0.79" stop-color="#e63060"/><stop offset="0.83" stop-color="#e52a58"/><stop offset="0.86" stop-color="#e52450"/><stop offset="0.9" stop-color="#e41f49"/><stop offset="0.93" stop-color="#e41942"/><stop offset="0.97" stop-color="#e4173d"/><stop offset="1" stop-color="#e4163b"/></linearGradient>
<linearGradient id="r88" gradientUnits="userSpaceOnUse" x1="271" y1="0" x2="356" y2="0"><stop offset="0" stop-color="#2aa5dd"/><stop offset="0.04" stop-color="#2ba4de"/><stop offset="0.07" stop-color="#34a8df"/><stop offset="0.11" stop-color="#3dabe1"/><stop offset="0.14" stop-color="#47afe3"/><stop offset="0.18" stop-color="#52b2e5"/><stop offset="0.21" stop-color="#5db5e7"/><stop offset="0.25" stop-color="#68b8ea"/><stop offset="0.28" stop-color="#75b9eb"/><stop offset="0.32" stop-color="#83b1e7"/><stop offset="0.35" stop-color="#939ad1"/><stop offset="0.39" stop-color="#ab8ac9"/><stop offset="0.42" stop-color="#be81c4"/><stop offset="0.46" stop-color="#cf77be"/><stop offset="0.49" stop-color="#d86eb5"/><stop offset="0.53" stop-color="#dd65ab"/><stop offset="0.56" stop-color="#e15ca1"/><stop offset="0.6" stop-color="#e55498"/><stop offset="0.64" stop-color="#e84c8f"/><stop offset="0.67" stop-color="#e84585"/><stop offset="0.71" stop-color="#e73f7c"/><stop offset="0.74" stop-color="#e73872"/><stop offset="0.78" stop-color="#e6326a"/><stop offset="0.81" stop-color="#e52c62"/><stop offset="0.85" stop-color="#e5265a"/><stop offset="0.88" stop-color="#e42152"/><stop offset="0.92" stop-color="#e41b4b"/><stop offset="0.95" stop-color="#e31744"/><stop offset="0.99" stop-color="#e31741"/><stop offset="1" stop-color="#e31741"/></linearGradient>
<linearGradient id="r89" gradientUnits="userSpaceOnUse" x1="271" y1="0" x2="354" y2="0"><stop offset="0" stop-color="#2aa4dd"/><stop offset="0.04" stop-color="#2aa3de"/><stop offset="0.07" stop-color="#33a7df"/><stop offset="0.11" stop-color="#3caae1"/><stop offset="0.14" stop-color="#46ade3"/><stop offset="0.18" stop-color="#50b0e5"/><stop offset="0.22" stop-color="#5bb3e7"/><stop offset="0.25" stop-color="#66b6ea"/><stop offset="0.29" stop-color="#73b4e9"/><stop offset="0.33" stop-color="#81aae4"/><stop offset="0.36" stop-color="#938bc2"/><stop offset="0.4" stop-color="#a884c6"/><stop offset="0.43" stop-color="#ba7bc2"/><stop offset="0.47" stop-color="#ca72bb"/><stop offset="0.51" stop-color="#d569b4"/><stop offset="0.54" stop-color="#da60aa"/><stop offset="0.58" stop-color="#de58a0"/><stop offset="0.61" stop-color="#e25097"/><stop offset="0.65" stop-color="#e6488f"/><stop offset="0.69" stop-color="#e74186"/><stop offset="0.72" stop-color="#e73a7d"/><stop offset="0.76" stop-color="#e63474"/><stop offset="0.8" stop-color="#e52e6b"/><stop offset="0.83" stop-color="#e52863"/><stop offset="0.87" stop-color="#e4235b"/><stop offset="0.9" stop-color="#e41d53"/><stop offset="0.94" stop-color="#e3184c"/><stop offset="0.98" stop-color="#e31749"/><stop offset="1" stop-color="#e31747"/></linearGradient>
<linearGradient id="r90" gradientUnits="userSpaceOnUse" x1="272" y1="0" x2="352" y2="0"><stop offset="0" stop-color="#2aa3de"/><stop offset="0.04" stop-color="#2ba3de"/><stop offset="0.07" stop-color="#35a6e0"/><stop offset="0.11" stop-color="#3eaae2"/><stop offset="0.15" stop-color="#48ade4"/><stop offset="0.19" stop-color="#52afe6"/><stop offset="0.23" stop-color="#5cb2e8"/><stop offset="0.26" stop-color="#68b2e9"/><stop offset="0.3" stop-color="#75ace6"/><stop offset="0.34" stop-color="#8399d6"/><stop offset="0.38" stop-color="#9882c2"/><stop offset="0.41" stop-color="#ab7bc3"/><stop offset="0.45" stop-color="#bc72bd"/><stop offset="0.49" stop-color="#cb6ab7"/><stop offset="0.53" stop-color="#d461af"/><stop offset="0.56" stop-color="#d859a6"/><stop offset="0.6" stop-color="#dd519d"/><stop offset="0.64" stop-color="#e04994"/><stop offset="0.68" stop-color="#e4418c"/><stop offset="0.71" stop-color="#e63a84"/><stop offset="0.75" stop-color="#e6347b"/><stop offset="0.79" stop-color="#e52e72"/><stop offset="0.82" stop-color="#e5286a"/><stop offset="0.86" stop-color="#e42361"/><stop offset="0.9" stop-color="#e31d5a"/><stop offset="0.94" stop-color="#e31852"/><stop offset="0.97" stop-color="#e3174f"/><stop offset="1" stop-color="#e3174d"/></linearGradient>
<linearGradient id="r91" gradientUnits="userSpaceOnUse" x1="272" y1="0" x2="350" y2="0"><stop offset="0" stop-color="#29a2de"/><stop offset="0.04" stop-color="#2aa2de"/><stop offset="0.08" stop-color="#33a5e0"/><stop offset="0.12" stop-color="#3ca8e2"/><stop offset="0.15" stop-color="#46abe4"/><stop offset="0.19" stop-color="#50aee6"/><stop offset="0.23" stop-color="#5ab0e8"/><stop offset="0.27" stop-color="#66ade7"/><stop offset="0.31" stop-color="#73a5e3"/><stop offset="0.35" stop-color="#818dcd"/><stop offset="0.38" stop-color="#967dbf"/><stop offset="0.42" stop-color="#a876c1"/><stop offset="0.46" stop-color="#b86dbb"/><stop offset="0.5" stop-color="#c665b5"/><stop offset="0.54" stop-color="#d15dae"/><stop offset="0.58" stop-color="#d655a5"/><stop offset="0.62" stop-color="#da4d9c"/><stop offset="0.65" stop-color="#dd4594"/><stop offset="0.69" stop-color="#e13e8c"/><stop offset="0.73" stop-color="#e43784"/><stop offset="0.77" stop-color="#e5307c"/><stop offset="0.81" stop-color="#e42a73"/><stop offset="0.85" stop-color="#e4256b"/><stop offset="0.88" stop-color="#e31f63"/><stop offset="0.92" stop-color="#e31a5b"/><stop offset="0.96" stop-color="#e31856"/><stop offset="1" stop-color="#e31853"/></linearGradient>
<linearGradient id="r92" gradientUnits="userSpaceOnUse" x1="272" y1="0" x2="347" y2="0"><stop offset="0" stop-color="#29a2de"/><stop offset="0.04" stop-color="#29a1de"/><stop offset="0.08" stop-color="#32a4e0"/><stop offset="0.12" stop-color="#3ba7e2"/><stop offset="0.16" stop-color="#44a9e4"/><stop offset="0.2" stop-color="#4eace6"/><stop offset="0.24" stop-color="#58ade7"/><stop offset="0.28" stop-color="#65a9e5"/><stop offset="0.32" stop-color="#719fe0"/><stop offset="0.36" stop-color="#7f88c9"/><stop offset="0.4" stop-color="#9377bd"/><stop offset="0.44" stop-color="#a570be"/><stop offset="0.48" stop-color="#b468b8"/><stop offset="0.52" stop-color="#c360b3"/><stop offset="0.56" stop-color="#cf58ad"/><stop offset="0.6" stop-color="#d350a4"/><stop offset="0.64" stop-color="#d7499b"/><stop offset="0.68" stop-color="#db4193"/><stop offset="0.72" stop-color="#de3a8b"/><stop offset="0.76" stop-color="#e13384"/><stop offset="0.8" stop-color="#e42c7c"/><stop offset="0.84" stop-color="#e42774"/><stop offset="0.88" stop-color="#e3216c"/><stop offset="0.92" stop-color="#e31b64"/><stop offset="0.96" stop-color="#e3185d"/><stop offset="1" stop-color="#e3185a"/></linearGradient>
<linearGradient id="r93" gradientUnits="userSpaceOnUse" x1="272" y1="0" x2="345" y2="0"><stop offset="0" stop-color="#28a1de"/><stop offset="0.04" stop-color="#28a0df"/><stop offset="0.08" stop-color="#30a2e0"/><stop offset="0.12" stop-color="#39a5e2"/><stop offset="0.16" stop-color="#42a8e4"/><stop offset="0.21" stop-color="#4caae6"/><stop offset="0.25" stop-color="#57a9e6"/><stop offset="0.29" stop-color="#63a4e3"/><stop offset="0.33" stop-color="#6f98dc"/><stop offset="0.37" stop-color="#7e7fbf"/><stop offset="0.41" stop-color="#9172bb"/><stop offset="0.45" stop-color="#a26bbc"/><stop offset="0.49" stop-color="#b163b6"/><stop offset="0.53" stop-color="#bf5bb1"/><stop offset="0.58" stop-color="#cb54ac"/><stop offset="0.62" stop-color="#d04ca3"/><stop offset="0.66" stop-color="#d4459b"/><stop offset="0.7" stop-color="#d83d92"/><stop offset="0.74" stop-color="#db368b"/><stop offset="0.78" stop-color="#de3083"/><stop offset="0.82" stop-color="#e1297c"/><stop offset="0.86" stop-color="#e32375"/><stop offset="0.9" stop-color="#e31d6d"/><stop offset="0.95" stop-color="#e21865"/><stop offset="0.99" stop-color="#e21861"/><stop offset="1" stop-color="#e31860"/></linearGradient>
<linearGradient id="r94" gradientUnits="userSpaceOnUse" x1="273" y1="0" x2="343" y2="0"><stop offset="0" stop-color="#28a0df"/><stop offset="0.04" stop-color="#299fdf"/><stop offset="0.09" stop-color="#32a2e1"/><stop offset="0.13" stop-color="#3aa4e3"/><stop offset="0.17" stop-color="#44a7e5"/><stop offset="0.21" stop-color="#4ea7e5"/><stop offset="0.26" stop-color="#59a3e4"/><stop offset="0.3" stop-color="#659ae0"/><stop offset="0.34" stop-color="#7186cd"/><stop offset="0.39" stop-color="#8471b7"/><stop offset="0.43" stop-color="#946bba"/><stop offset="0.47" stop-color="#a464b8"/><stop offset="0.51" stop-color="#b25cb2"/><stop offset="0.56" stop-color="#bf55ad"/><stop offset="0.6" stop-color="#cb4da8"/><stop offset="0.64" stop-color="#cf469f"/><stop offset="0.69" stop-color="#d33e97"/><stop offset="0.73" stop-color="#d6378f"/><stop offset="0.77" stop-color="#da3188"/><stop offset="0.81" stop-color="#dd2a80"/><stop offset="0.86" stop-color="#e02479"/><stop offset="0.9" stop-color="#e21d73"/><stop offset="0.94" stop-color="#e2196b"/><stop offset="0.99" stop-color="#e21967"/><stop offset="1" stop-color="#e21966"/></linearGradient>
<linearGradient id="r95" gradientUnits="userSpaceOnUse" x1="273" y1="0" x2="341" y2="0"><stop offset="0" stop-color="#279fdf"/><stop offset="0.04" stop-color="#289edf"/><stop offset="0.09" stop-color="#30a0e1"/><stop offset="0.13" stop-color="#39a3e3"/><stop offset="0.18" stop-color="#42a5e5"/><stop offset="0.22" stop-color="#4ca3e4"/><stop offset="0.26" stop-color="#589fe2"/><stop offset="0.31" stop-color="#6394dc"/><stop offset="0.35" stop-color="#6f7cc6"/><stop offset="0.4" stop-color="#826bb5"/><stop offset="0.44" stop-color="#9266b8"/><stop offset="0.49" stop-color="#a15fb5"/><stop offset="0.53" stop-color="#af57b0"/><stop offset="0.57" stop-color="#bc50ab"/><stop offset="0.62" stop-color="#c849a7"/><stop offset="0.66" stop-color="#cd429f"/><stop offset="0.71" stop-color="#d03b97"/><stop offset="0.75" stop-color="#d4348f"/><stop offset="0.79" stop-color="#d72d87"/><stop offset="0.84" stop-color="#da2780"/><stop offset="0.88" stop-color="#dd2079"/><stop offset="0.93" stop-color="#e01a73"/><stop offset="0.97" stop-color="#e2196e"/><stop offset="1" stop-color="#e2196b"/></linearGradient>
<linearGradient id="r96" gradientUnits="userSpaceOnUse" x1="273" y1="0" x2="339" y2="0"><stop offset="0" stop-color="#279edf"/><stop offset="0.05" stop-color="#269cdf"/><stop offset="0.09" stop-color="#2e9fe1"/><stop offset="0.14" stop-color="#37a1e3"/><stop offset="0.18" stop-color="#41a2e4"/><stop offset="0.23" stop-color="#4b9fe3"/><stop offset="0.27" stop-color="#5699e0"/><stop offset="0.32" stop-color="#618fd8"/><stop offset="0.36" stop-color="#6d78c2"/><stop offset="0.41" stop-color="#8067b4"/><stop offset="0.45" stop-color="#9061b6"/><stop offset="0.5" stop-color="#9e5ab3"/><stop offset="0.55" stop-color="#ac53ae"/><stop offset="0.59" stop-color="#b84caa"/><stop offset="0.64" stop-color="#c445a5"/><stop offset="0.68" stop-color="#ca3e9e"/><stop offset="0.73" stop-color="#ce3796"/><stop offset="0.77" stop-color="#d1308e"/><stop offset="0.82" stop-color="#d52a87"/><stop offset="0.86" stop-color="#d82380"/><stop offset="0.91" stop-color="#db1d79"/><stop offset="0.95" stop-color="#de1a74"/><stop offset="1" stop-color="#e11971"/></linearGradient>
<linearGradient id="r97" gradientUnits="userSpaceOnUse" x1="274" y1="0" x2="337" y2="0"><stop offset="0" stop-color="#269ddf"/><stop offset="0.05" stop-color="#279ce0"/><stop offset="0.1" stop-color="#309ee2"/><stop offset="0.14" stop-color="#39a0e4"/><stop offset="0.19" stop-color="#439ee2"/><stop offset="0.24" stop-color="#4d9ae1"/><stop offset="0.29" stop-color="#5890dc"/><stop offset="0.33" stop-color="#637fcc"/><stop offset="0.38" stop-color="#7365b0"/><stop offset="0.43" stop-color="#8360b3"/><stop offset="0.48" stop-color="#925bb5"/><stop offset="0.52" stop-color="#a053b0"/><stop offset="0.57" stop-color="#ad4cab"/><stop offset="0.62" stop-color="#b946a6"/><stop offset="0.67" stop-color="#c43fa2"/><stop offset="0.71" stop-color="#c9389a"/><stop offset="0.76" stop-color="#cd3193"/><stop offset="0.81" stop-color="#d02b8b"/><stop offset="0.86" stop-color="#d32484"/><stop offset="0.9" stop-color="#d61e7d"/><stop offset="0.95" stop-color="#da1b78"/><stop offset="1" stop-color="#dd1a75"/></linearGradient>
<linearGradient id="r98" gradientUnits="userSpaceOnUse" x1="274" y1="0" x2="334" y2="0"><stop offset="0" stop-color="#269ce0"/><stop offset="0.05" stop-color="#269ae0"/><stop offset="0.1" stop-color="#2e9ce2"/><stop offset="0.15" stop-color="#379de3"/><stop offset="0.2" stop-color="#419ae1"/><stop offset="0.25" stop-color="#4c95df"/><stop offset="0.3" stop-color="#568bd9"/><stop offset="0.35" stop-color="#6175c5"/><stop offset="0.4" stop-color="#7261ae"/><stop offset="0.45" stop-color="#815bb1"/><stop offset="0.5" stop-color="#9056b3"/><stop offset="0.55" stop-color="#9d4fae"/><stop offset="0.6" stop-color="#aa48a9"/><stop offset="0.65" stop-color="#b642a4"/><stop offset="0.7" stop-color="#c13ba0"/><stop offset="0.75" stop-color="#c7359a"/><stop offset="0.8" stop-color="#ca2e92"/><stop offset="0.85" stop-color="#ce278a"/><stop offset="0.9" stop-color="#d12183"/><stop offset="0.95" stop-color="#d41d7e"/><stop offset="1" stop-color="#d81c7a"/></linearGradient>
<linearGradient id="r99" gradientUnits="userSpaceOnUse" x1="274" y1="0" x2="332" y2="0"><stop offset="0" stop-color="#259be0"/><stop offset="0.05" stop-color="#2499e0"/><stop offset="0.1" stop-color="#2d9be2"/><stop offset="0.16" stop-color="#3699e1"/><stop offset="0.21" stop-color="#4096e0"/><stop offset="0.26" stop-color="#4a90dd"/><stop offset="0.31" stop-color="#5486d5"/><stop offset="0.36" stop-color="#5f6dbf"/><stop offset="0.41" stop-color="#705cad"/><stop offset="0.47" stop-color="#8057af"/><stop offset="0.52" stop-color="#8d52b1"/><stop offset="0.57" stop-color="#9b4bac"/><stop offset="0.62" stop-color="#a744a7"/><stop offset="0.67" stop-color="#b33ea3"/><stop offset="0.72" stop-color="#bd379f"/><stop offset="0.78" stop-color="#c53199"/><stop offset="0.83" stop-color="#c82a91"/><stop offset="0.88" stop-color="#cc248a"/><stop offset="0.93" stop-color="#cf1e83"/><stop offset="0.98" stop-color="#d31d7f"/><stop offset="1" stop-color="#d41d7e"/></linearGradient>
<linearGradient id="r100" gradientUnits="userSpaceOnUse" x1="275" y1="0" x2="330" y2="0"><stop offset="0" stop-color="#2599e0"/><stop offset="0.05" stop-color="#2698e1"/><stop offset="0.11" stop-color="#2e98e1"/><stop offset="0.16" stop-color="#3895e0"/><stop offset="0.22" stop-color="#4290de"/><stop offset="0.27" stop-color="#4c87d9"/><stop offset="0.33" stop-color="#5678cb"/><stop offset="0.38" stop-color="#655ba9"/><stop offset="0.44" stop-color="#7456ac"/><stop offset="0.49" stop-color="#8251ae"/><stop offset="0.55" stop-color="#904bad"/><stop offset="0.6" stop-color="#9c44a8"/><stop offset="0.65" stop-color="#a83ea4"/><stop offset="0.71" stop-color="#b338a0"/><stop offset="0.76" stop-color="#be329c"/><stop offset="0.82" stop-color="#c42b95"/><stop offset="0.87" stop-color="#c7258e"/><stop offset="0.93" stop-color="#cb1f87"/><stop offset="0.98" stop-color="#cf1e83"/><stop offset="1" stop-color="#d01e82"/></linearGradient>
<linearGradient id="r101" gradientUnits="userSpaceOnUse" x1="275" y1="0" x2="328" y2="0"><stop offset="0" stop-color="#2498e0"/><stop offset="0.06" stop-color="#2497e1"/><stop offset="0.11" stop-color="#2d94e0"/><stop offset="0.17" stop-color="#3792de"/><stop offset="0.23" stop-color="#408cdc"/><stop offset="0.28" stop-color="#4a82d6"/><stop offset="0.34" stop-color="#5470c4"/><stop offset="0.4" stop-color="#6357a8"/><stop offset="0.45" stop-color="#7252aa"/><stop offset="0.51" stop-color="#804dad"/><stop offset="0.57" stop-color="#8d47ab"/><stop offset="0.62" stop-color="#9a40a7"/><stop offset="0.68" stop-color="#a53aa2"/><stop offset="0.74" stop-color="#b0349e"/><stop offset="0.79" stop-color="#ba2e9a"/><stop offset="0.85" stop-color="#c22895"/><stop offset="0.91" stop-color="#c5228d"/><stop offset="0.96" stop-color="#c92089"/><stop offset="1" stop-color="#cc1f86"/></linearGradient>
<linearGradient id="r102" gradientUnits="userSpaceOnUse" x1="275" y1="0" x2="326" y2="0"><stop offset="0" stop-color="#2497e1"/><stop offset="0.06" stop-color="#2394e0"/><stop offset="0.12" stop-color="#2c91df"/><stop offset="0.18" stop-color="#358edd"/><stop offset="0.24" stop-color="#3f87da"/><stop offset="0.29" stop-color="#487ed3"/><stop offset="0.35" stop-color="#5366bd"/><stop offset="0.41" stop-color="#6252a6"/><stop offset="0.47" stop-color="#714da9"/><stop offset="0.53" stop-color="#7e49ab"/><stop offset="0.59" stop-color="#8b43a9"/><stop offset="0.65" stop-color="#973da5"/><stop offset="0.71" stop-color="#a236a1"/><stop offset="0.76" stop-color="#ad309c"/><stop offset="0.82" stop-color="#b72a98"/><stop offset="0.88" stop-color="#c02594"/><stop offset="0.94" stop-color="#c4218e"/><stop offset="1" stop-color="#c8208a"/></linearGradient>
<linearGradient id="r103" gradientUnits="userSpaceOnUse" x1="276" y1="0" x2="324" y2="0"><stop offset="0" stop-color="#2396e1"/><stop offset="0.06" stop-color="#2590df"/><stop offset="0.12" stop-color="#2e8ddd"/><stop offset="0.19" stop-color="#3788db"/><stop offset="0.25" stop-color="#407fd6"/><stop offset="0.31" stop-color="#4a72c9"/><stop offset="0.38" stop-color="#555fb5"/><stop offset="0.44" stop-color="#664ca6"/><stop offset="0.5" stop-color="#7448a8"/><stop offset="0.56" stop-color="#8043aa"/><stop offset="0.62" stop-color="#8d3da6"/><stop offset="0.69" stop-color="#9837a2"/><stop offset="0.75" stop-color="#a3319e"/><stop offset="0.81" stop-color="#ae2b9a"/><stop offset="0.88" stop-color="#b82596"/><stop offset="0.94" stop-color="#c02392"/><stop offset="1" stop-color="#c4218e"/></linearGradient>
<linearGradient id="r104" gradientUnits="userSpaceOnUse" x1="276" y1="0" x2="321" y2="0"><stop offset="0" stop-color="#2393e0"/><stop offset="0.07" stop-color="#238ddd"/><stop offset="0.13" stop-color="#2c8adc"/><stop offset="0.2" stop-color="#3583d9"/><stop offset="0.27" stop-color="#3f7ad3"/><stop offset="0.33" stop-color="#496ac3"/><stop offset="0.4" stop-color="#5557ac"/><stop offset="0.47" stop-color="#6448a4"/><stop offset="0.53" stop-color="#7244a6"/><stop offset="0.6" stop-color="#7e3fa9"/><stop offset="0.67" stop-color="#8a39a4"/><stop offset="0.73" stop-color="#9633a0"/><stop offset="0.8" stop-color="#a12d9c"/><stop offset="0.87" stop-color="#ab2798"/><stop offset="0.93" stop-color="#b52495"/><stop offset="1" stop-color="#bf2393"/></linearGradient>
<linearGradient id="r105" gradientUnits="userSpaceOnUse" x1="277" y1="0" x2="319" y2="0"><stop offset="0" stop-color="#238fde"/><stop offset="0.07" stop-color="#2589dc"/><stop offset="0.14" stop-color="#2e84da"/><stop offset="0.21" stop-color="#377bd6"/><stop offset="0.29" stop-color="#4071cc"/><stop offset="0.36" stop-color="#4a5ab6"/><stop offset="0.43" stop-color="#5a47a1"/><stop offset="0.5" stop-color="#6743a3"/><stop offset="0.57" stop-color="#743fa6"/><stop offset="0.64" stop-color="#8039a5"/><stop offset="0.71" stop-color="#8c33a1"/><stop offset="0.79" stop-color="#972d9d"/><stop offset="0.86" stop-color="#a12899"/><stop offset="0.93" stop-color="#ac2496"/><stop offset="1" stop-color="#b72395"/></linearGradient>
<linearGradient id="r106" gradientUnits="userSpaceOnUse" x1="277" y1="0" x2="317" y2="0"><stop offset="0" stop-color="#238cdd"/><stop offset="0.07" stop-color="#2485db"/><stop offset="0.15" stop-color="#2d7fd8"/><stop offset="0.23" stop-color="#3577d3"/><stop offset="0.3" stop-color="#3f6bc7"/><stop offset="0.38" stop-color="#4956b3"/><stop offset="0.45" stop-color="#59439f"/><stop offset="0.53" stop-color="#663fa2"/><stop offset="0.6" stop-color="#723ba4"/><stop offset="0.68" stop-color="#7e36a4"/><stop offset="0.75" stop-color="#8a309f"/><stop offset="0.82" stop-color="#952a9b"/><stop offset="0.9" stop-color="#9f2598"/><stop offset="0.97" stop-color="#ab2496"/><stop offset="1" stop-color="#ae2496"/></linearGradient>
<linearGradient id="r107" gradientUnits="userSpaceOnUse" x1="277" y1="0" x2="315" y2="0"><stop offset="0" stop-color="#238adc"/><stop offset="0.08" stop-color="#2382da"/><stop offset="0.16" stop-color="#2b7bd6"/><stop offset="0.24" stop-color="#3473d0"/><stop offset="0.32" stop-color="#3d64c2"/><stop offset="0.39" stop-color="#4753b0"/><stop offset="0.47" stop-color="#57409e"/><stop offset="0.55" stop-color="#643ba0"/><stop offset="0.63" stop-color="#7037a3"/><stop offset="0.71" stop-color="#7c32a2"/><stop offset="0.79" stop-color="#872c9e"/><stop offset="0.87" stop-color="#92269a"/><stop offset="0.95" stop-color="#9e2598"/><stop offset="1" stop-color="#a62597"/></linearGradient>
<linearGradient id="r108" gradientUnits="userSpaceOnUse" x1="278" y1="0" x2="313" y2="0"><stop offset="0" stop-color="#2385db"/><stop offset="0.09" stop-color="#247cd7"/><stop offset="0.17" stop-color="#2d74d4"/><stop offset="0.26" stop-color="#366ac9"/><stop offset="0.34" stop-color="#3f51b3"/><stop offset="0.43" stop-color="#4d3f9b"/><stop offset="0.51" stop-color="#5a3a9e"/><stop offset="0.6" stop-color="#6736a0"/><stop offset="0.69" stop-color="#7232a2"/><stop offset="0.77" stop-color="#7e2c9f"/><stop offset="0.86" stop-color="#89279b"/><stop offset="0.94" stop-color="#952699"/><stop offset="1" stop-color="#9d2598"/></linearGradient>
<linearGradient id="r109" gradientUnits="userSpaceOnUse" x1="278" y1="0" x2="311" y2="0"><stop offset="0" stop-color="#2383da"/><stop offset="0.09" stop-color="#2378d6"/><stop offset="0.18" stop-color="#2b70d1"/><stop offset="0.27" stop-color="#3464c5"/><stop offset="0.36" stop-color="#3d4eb1"/><stop offset="0.45" stop-color="#4c3b9a"/><stop offset="0.55" stop-color="#59379c"/><stop offset="0.64" stop-color="#65339e"/><stop offset="0.73" stop-color="#712ea0"/><stop offset="0.82" stop-color="#7c299d"/><stop offset="0.91" stop-color="#88269b"/><stop offset="1" stop-color="#952699"/></linearGradient>
<linearGradient id="r110" gradientUnits="userSpaceOnUse" x1="279" y1="0" x2="308" y2="0"><stop offset="0" stop-color="#237cd7"/><stop offset="0.1" stop-color="#2471d3"/><stop offset="0.21" stop-color="#2d69cb"/><stop offset="0.31" stop-color="#3656ba"/><stop offset="0.41" stop-color="#4048a9"/><stop offset="0.52" stop-color="#4f3699"/><stop offset="0.62" stop-color="#5c329c"/><stop offset="0.72" stop-color="#672e9e"/><stop offset="0.83" stop-color="#73299e"/><stop offset="0.93" stop-color="#7f279c"/><stop offset="1" stop-color="#88269b"/></linearGradient>
<linearGradient id="r111" gradientUnits="userSpaceOnUse" x1="279" y1="0" x2="306" y2="0"><stop offset="0" stop-color="#2379d6"/><stop offset="0.11" stop-color="#236dd1"/><stop offset="0.22" stop-color="#2c64c7"/><stop offset="0.33" stop-color="#344eb4"/><stop offset="0.44" stop-color="#413696"/><stop offset="0.56" stop-color="#4e3298"/><stop offset="0.67" stop-color="#5a2e9a"/><stop offset="0.78" stop-color="#662a9c"/><stop offset="0.89" stop-color="#72289e"/><stop offset="1" stop-color="#7f279c"/></linearGradient>
<linearGradient id="r112" gradientUnits="userSpaceOnUse" x1="280" y1="0" x2="304" y2="0"><stop offset="0" stop-color="#2372d4"/><stop offset="0.12" stop-color="#2466cb"/><stop offset="0.25" stop-color="#2d58be"/><stop offset="0.38" stop-color="#3645ac"/><stop offset="0.5" stop-color="#453195"/><stop offset="0.62" stop-color="#512d97"/><stop offset="0.75" stop-color="#5d299a"/><stop offset="0.88" stop-color="#69289d"/><stop offset="1" stop-color="#77279d"/></linearGradient>
<linearGradient id="r113" gradientUnits="userSpaceOnUse" x1="281" y1="0" x2="302" y2="0"><stop offset="0" stop-color="#236bd0"/><stop offset="0.14" stop-color="#265ec5"/><stop offset="0.29" stop-color="#2f47b1"/><stop offset="0.43" stop-color="#3b3a9b"/><stop offset="0.57" stop-color="#482c95"/><stop offset="0.71" stop-color="#542897"/><stop offset="0.86" stop-color="#61279a"/><stop offset="1" stop-color="#6e289e"/></linearGradient>
<linearGradient id="r114" gradientUnits="userSpaceOnUse" x1="281" y1="0" x2="300" y2="0"><stop offset="0" stop-color="#2468cd"/><stop offset="0.16" stop-color="#2559c1"/><stop offset="0.32" stop-color="#2d40ac"/><stop offset="0.47" stop-color="#3a2d91"/><stop offset="0.63" stop-color="#472993"/><stop offset="0.79" stop-color="#532696"/><stop offset="0.95" stop-color="#62279a"/><stop offset="1" stop-color="#66279c"/></linearGradient>
<linearGradient id="r115" gradientUnits="userSpaceOnUse" x1="282" y1="0" x2="298" y2="0"><stop offset="0" stop-color="#2462c8"/><stop offset="0.19" stop-color="#264bb6"/><stop offset="0.38" stop-color="#2f3da6"/><stop offset="0.56" stop-color="#3e2891"/><stop offset="0.75" stop-color="#4b2694"/><stop offset="0.94" stop-color="#592798"/><stop offset="1" stop-color="#5e2799"/></linearGradient>
<linearGradient id="r116" gradientUnits="userSpaceOnUse" x1="283" y1="0" x2="295" y2="0"><stop offset="0" stop-color="#2557c0"/><stop offset="0.25" stop-color="#283caa"/><stop offset="0.5" stop-color="#34278e"/><stop offset="0.75" stop-color="#422591"/><stop offset="1" stop-color="#512696"/></linearGradient>
<linearGradient id="r117" gradientUnits="userSpaceOnUse" x1="284" y1="0" x2="293" y2="0"><stop offset="0" stop-color="#274ab5"/><stop offset="0.33" stop-color="#2a38a4"/><stop offset="0.67" stop-color="#39258f"/><stop offset="1" stop-color="#492693"/></linearGradient>
<linearGradient id="r118" gradientUnits="userSpaceOnUse" x1="285" y1="0" x2="291" y2="0"><stop offset="0" stop-color="#283caa"/><stop offset="0.5" stop-color="#302c92"/><stop offset="1" stop-color="#402591"/></linearGradient>
<linearGradient id="tbg" x1="0" y1="0" x2="0" y2="1"><stop offset="0" stop-color="#cdcdcd"/><stop offset="0.45" stop-color="#bfbfbf"/><stop offset="1" stop-color="#9a9a9a"/></linearGradient><linearGradient id="tsm" x1="0" y1="0" x2="0" y2="1"><stop offset="0" stop-color="#1c1c1c"/><stop offset="0.5" stop-color="#2a2a2a"/><stop offset="1" stop-color="#1a1a1a"/></linearGradient><linearGradient id="tlf" x1="0" y1="0" x2="1" y2="0"><stop offset="0" stop-color="#000" stop-opacity="0.16"/><stop offset="0.35" stop-color="#000" stop-opacity="0"/></linearGradient>
<clipPath id="tc1"><path d="M2,21.3 L2,11.2 Q2,10.5 3,10.5 Q11.5,9.7 20,10.5 Q21,10.5 21,11.2 L21,21.3 Z"/></clipPath>
<clipPath id="tc2"><path d="M2,21.3 L2,11.2 Q2,10.5 3,10.5 Q11.5,9.7 20,10.5 Q21,10.5 21,11.2 L21,21.3 Z"/></clipPath>
<clipPath id="tc3"><path d="M2,21.3 L2,11.2 Q2,10.5 3,10.5 Q11.5,9.7 20,10.5 Q21,10.5 21,11.2 L21,21.3 Z"/></clipPath>
<clipPath id="tc4"><path d="M2,21.3 L2,11.2 Q2,10.5 3,10.5 Q11.5,9.7 20,10.5 Q21,10.5 21,11.2 L21,21.3 Z"/></clipPath>
<clipPath id="tc5"><path d="M2,21.3 L2,11.2 Q2,10.5 3,10.5 Q11.5,9.7 20,10.5 Q21,10.5 21,11.2 L21,21.3 Z"/></clipPath>
<clipPath id="tc6"><path d="M2,21.3 L2,11.2 Q2,10.5 3,10.5 Q11.5,9.7 20,10.5 Q21,10.5 21,11.2 L21,21.3 Z"/></clipPath>
<clipPath id="tc7"><path d="M2.1,21.3 L2.1,10.3 Q2.1,9.6 3.1,9.6 Q11.25,8.8 19.4,9.6 Q20.4,9.6 20.4,10.3 L20.4,21.3 Z"/></clipPath>
<clipPath id="tc8"><path d="M2.1,21.3 L2.1,11 Q2.1,10.3 3.1,10.3 L5.8,10.3 C6.8,10.3 6.9,8 8.8,8 L11.2,8 C13.1,8 13.2,10.3 14.2,10.3 L19.4,10.3 Q20.4,10.3 20.4,11 L20.4,21.3 Z"/></clipPath>
<clipPath id="tc9"><path d="M2.1,21.3 L2.1,11 Q2.1,10.3 3.1,10.3 L6,10.3 C7,10.3 7.1,7 9,7 L12.5,7 C14.4,7 14.5,10.3 15.5,10.3 L19.4,10.3 Q20.4,10.3 20.4,11 L20.4,21.3 Z"/></clipPath>
<clipPath id="tc10"><path d="M2.1,21.3 L2.1,10.7 Q2.1,10 3.1,10 L6.3,10 C7.3,10 7.4,7.2 9.3,7.2 L12.6,7.2 C14.5,7.2 14.6,10 15.6,10 L19.4,10 Q20.4,10 20.4,10.7 L20.4,21.3 Z"/></clipPath>
<clipPath id="tc11"><path d="M2.1,21.3 L2.1,11 Q2.1,10.3 3.1,10.3 L6.8,10.3 C7.8,10.3 7.9,6.3 9.8,6.3 L13.1,6.3 C15,6.3 15.1,10.3 16.1,10.3 L19.4,10.3 Q20.4,10.3 20.4,11 L20.4,21.3 Z"/></clipPath>
<clipPath id="tc12"><path d="M2.1,21.3 L2.1,11 Q2.1,10.3 3.1,10.3 Q11.4,9.5 19.7,10.3 Q20.7,10.3 20.7,11 L20.7,21.3 Z"/></clipPath>
<clipPath id="tc13"><path d="M3,21.3 L3,11.7 Q3,11 4,11 L6.6,11 C7.6,11 7.7,6 9.6,6 L15.8,6 C17.7,6 17.8,10.2 18.8,10.2 L19.7,10.2 Q20.7,10.2 20.7,10.9 L20.7,21.3 Z"/></clipPath>
<clipPath id="tc14"><path d="M2.5,21.3 L2.5,12 Q2.5,11.3 3.5,11.3 L6.4,11.3 C7.4,11.3 7.5,5.7 9.4,5.7 L15.6,5.7 C17.5,5.7 17.6,10.3 18.6,10.3 L19.3,10.3 Q20.3,10.3 20.3,11 L20.3,21.3 Z"/></clipPath>
<linearGradient id="ibg" x1="0" y1="0" x2="1" y2="0"><stop offset="0" stop-color="#8c8c8c"/><stop offset="0.5" stop-color="#bdbdbd"/><stop offset="1" stop-color="#e6e6e6"/></linearGradient></defs>
<rect width="685" height="313" fill="#fff"/>
<line x1="39.4" y1="7" x2="179" y2="7" stroke="#231f20" stroke-width="1.25" />
<line x1="39.4" y1="118.6" x2="179.6" y2="118.6" stroke="#231f20" stroke-width="1.25" />
<line x1="40" y1="6.4" x2="40" y2="118.6" stroke="#7bc360" stroke-width="1.25" />
<line x1="179" y1="6.4" x2="179" y2="118.6" stroke="#e4479b" stroke-width="1.25" />
<line x1="37.5" y1="13.4" x2="40" y2="13.4" stroke="#7bc360" stroke-width="1" />
<line x1="38.5" y1="26.55" x2="40" y2="26.55" stroke="#7bc360" stroke-width="1" />
<line x1="37.5" y1="39.7" x2="40" y2="39.7" stroke="#7bc360" stroke-width="1" />
<line x1="38.5" y1="52.85" x2="40" y2="52.85" stroke="#7bc360" stroke-width="1" />
<line x1="37.5" y1="66" x2="40" y2="66" stroke="#7bc360" stroke-width="1" />
<line x1="38.5" y1="79.15" x2="40" y2="79.15" stroke="#7bc360" stroke-width="1" />
<line x1="37.5" y1="92.3" x2="40" y2="92.3" stroke="#7bc360" stroke-width="1" />
<line x1="38.5" y1="105.45" x2="40" y2="105.45" stroke="#7bc360" stroke-width="1" />
<line x1="37.5" y1="118.6" x2="40" y2="118.6" stroke="#7bc360" stroke-width="1" />
<line x1="179" y1="10.8" x2="181.5" y2="10.8" stroke="#e4479b" stroke-width="1" />
<line x1="179" y1="24.2" x2="180.5" y2="24.2" stroke="#e4479b" stroke-width="1" />
<line x1="179" y1="37.6" x2="181.5" y2="37.6" stroke="#e4479b" stroke-width="1" />
<line x1="179" y1="51" x2="180.5" y2="51" stroke="#e4479b" stroke-width="1" />
<line x1="179" y1="64.4" x2="181.5" y2="64.4" stroke="#e4479b" stroke-width="1" />
<line x1="179" y1="77.8" x2="180.5" y2="77.8" stroke="#e4479b" stroke-width="1" />
<line x1="179" y1="91.2" x2="181.5" y2="91.2" stroke="#e4479b" stroke-width="1" />
<line x1="179" y1="104.6" x2="180.5" y2="104.6" stroke="#e4479b" stroke-width="1" />
<line x1="179" y1="118" x2="181.5" y2="118" stroke="#e4479b" stroke-width="1" />
<line x1="46" y1="118.6" x2="46" y2="121.2" stroke="#231f20" stroke-width="1" />
<line x1="60.35" y1="118.6" x2="60.35" y2="120.2" stroke="#231f20" stroke-width="1" />
<line x1="74.7" y1="118.6" x2="74.7" y2="121.2" stroke="#231f20" stroke-width="1" />
<line x1="89.05" y1="118.6" x2="89.05" y2="120.2" stroke="#231f20" stroke-width="1" />
<line x1="103.4" y1="118.6" x2="103.4" y2="121.2" stroke="#231f20" stroke-width="1" />
<line x1="117.75" y1="118.6" x2="117.75" y2="120.2" stroke="#231f20" stroke-width="1" />
<line x1="132.1" y1="118.6" x2="132.1" y2="121.2" stroke="#231f20" stroke-width="1" />
<line x1="146.45" y1="118.6" x2="146.45" y2="120.2" stroke="#231f20" stroke-width="1" />
<line x1="160.8" y1="118.6" x2="160.8" y2="121.2" stroke="#231f20" stroke-width="1" />
<line x1="175.15" y1="118.6" x2="175.15" y2="120.2" stroke="#231f20" stroke-width="1" />
<text x="36.3" y="14.9" font-size="9.6" fill="#82c768" stroke="#82c768" stroke-width="0.1" text-anchor="end" >80.0k</text>
<text x="36.3" y="41.3" font-size="9.6" fill="#82c768" stroke="#82c768" stroke-width="0.1" text-anchor="end" >60.0k</text>
<text x="36.3" y="67.2" font-size="9.6" fill="#82c768" stroke="#82c768" stroke-width="0.1" text-anchor="end" >40.0k</text>
<text x="36.3" y="94.5" font-size="9.6" fill="#82c768" stroke="#82c768" stroke-width="0.1" text-anchor="end" >20.0k</text>
<text x="33.1" y="120.2" font-size="9.6" fill="#82c768" stroke="#82c768" stroke-width="0.1" text-anchor="end" >0.0</text>
<text x="183.9" y="12.9" font-size="9.6" fill="#e6519f" stroke="#e6519f" stroke-width="0.1" text-anchor="start" >120.0k</text>
<text x="183.9" y="40" font-size="9.6" fill="#e6519f" stroke="#e6519f" stroke-width="0.1" text-anchor="start" >90.0k</text>
<text x="183.9" y="67" font-size="9.6" fill="#e6519f" stroke="#e6519f" stroke-width="0.1" text-anchor="start" >60.0k</text>
<text x="183.9" y="94" font-size="9.6" fill="#e6519f" stroke="#e6519f" stroke-width="0.1" text-anchor="start" >30.0k</text>
<text x="183.9" y="120.8" font-size="9.6" fill="#e6519f" stroke="#e6519f" stroke-width="0.1" text-anchor="start" >0.0</text>
<text x="46.8" y="129.2" font-size="9.6" fill="#231f20" stroke="#231f20" stroke-width="0.1" text-anchor="middle" >0</text>
<text x="75.5" y="129.2" font-size="9.6" fill="#231f20" stroke="#231f20" stroke-width="0.1" text-anchor="middle" >5</text>
<text x="104.2" y="129.2" font-size="9.6" fill="#231f20" stroke="#231f20" stroke-width="0.1" text-anchor="middle" >10</text>
<text x="132.9" y="129.2" font-size="9.6" fill="#231f20" stroke="#231f20" stroke-width="0.1" text-anchor="middle" >15</text>
<text x="161.6" y="129.2" font-size="9.6" fill="#231f20" stroke="#231f20" stroke-width="0.1" text-anchor="middle" >20</text>
<text x="92.6" y="139.6" font-size="9.6" fill="#231f20" stroke="#231f20" stroke-width="0.15" text-anchor="start" textLength="44.5" lengthAdjust="spacing" >Time / min</text>
<text transform="translate(7.3,64.1) rotate(-90)" font-size="9.5" fill="#82c768" stroke="#82c768" stroke-width="0.1" text-anchor="middle" textLength="76.2" lengthAdjust="spacing">Counts @ 500 nm</text>
<text transform="translate(221.7,63.6) rotate(-90)" font-size="9.5" fill="#e6519f" stroke="#e6519f" stroke-width="0.1" text-anchor="middle" textLength="75.8" lengthAdjust="spacing">Counts @ 650 nm</text>
<text x="49" y="17.8" font-size="9.8" fill="#82c768" stroke="#82c768" stroke-width="0.1" text-anchor="start" textLength="45.2" lengthAdjust="spacingAndGlyphs" >λ= 500 nm</text>
<text x="52.8" y="113.8" font-size="9.8" fill="#e6519f" stroke="#e6519f" stroke-width="0.1" text-anchor="start" textLength="43.3" lengthAdjust="spacingAndGlyphs" >λ= 650 nm</text>
<text transform="translate(-0.2,13) scale(0.8,1)" font-size="18.4" fill="#231f20" text-anchor="start" >a</text>
<polyline points="45.6,20.4 51.2,46.4 62.8,75 80.3,97.4 88.8,104.8 97.7,108.6 105.6,108.8 110.6,67.7 117.8,47.4 126.9,35.9 138,29.2 153.7,24 172.9,20" fill="none" stroke="#7bc360" stroke-width="1.35" stroke-linejoin="round" />
<circle cx="45.6" cy="20.4" r="1.4" fill="white" stroke="#7bc360" stroke-width="1.25"/>
<circle cx="51.2" cy="46.4" r="1.4" fill="white" stroke="#7bc360" stroke-width="1.25"/>
<circle cx="62.8" cy="75" r="1.4" fill="white" stroke="#7bc360" stroke-width="1.25"/>
<circle cx="80.3" cy="97.4" r="1.4" fill="white" stroke="#7bc360" stroke-width="1.25"/>
<circle cx="88.8" cy="104.8" r="1.4" fill="white" stroke="#7bc360" stroke-width="1.25"/>
<circle cx="97.7" cy="108.6" r="1.4" fill="white" stroke="#7bc360" stroke-width="1.25"/>
<circle cx="105.6" cy="108.8" r="1.4" fill="white" stroke="#7bc360" stroke-width="1.25"/>
<circle cx="110.6" cy="67.7" r="1.4" fill="white" stroke="#7bc360" stroke-width="1.25"/>
<circle cx="117.8" cy="47.4" r="1.4" fill="white" stroke="#7bc360" stroke-width="1.25"/>
<circle cx="126.9" cy="35.9" r="1.4" fill="white" stroke="#7bc360" stroke-width="1.25"/>
<circle cx="138" cy="29.2" r="1.4" fill="white" stroke="#7bc360" stroke-width="1.25"/>
<circle cx="153.7" cy="24" r="1.4" fill="white" stroke="#7bc360" stroke-width="1.25"/>
<circle cx="172.9" cy="20" r="1.4" fill="white" stroke="#7bc360" stroke-width="1.25"/>
<polyline points="45.6,112.2 51.6,75.3 62.9,45.2 80.3,23.6 88.7,18.3 97.5,17.2 105.6,16.7 110.6,54.7 117.8,76.3 126.9,85.3 138.4,96.5 153.7,106.1 172.9,112.2" fill="none" stroke="#e4479b" stroke-width="1.35" stroke-linejoin="round" />
<circle cx="45.6" cy="112.2" r="1.4" fill="white" stroke="#e4479b" stroke-width="1.25"/>
<circle cx="51.6" cy="75.3" r="1.4" fill="white" stroke="#e4479b" stroke-width="1.25"/>
<circle cx="62.9" cy="45.2" r="1.4" fill="white" stroke="#e4479b" stroke-width="1.25"/>
<circle cx="80.3" cy="23.6" r="1.4" fill="white" stroke="#e4479b" stroke-width="1.25"/>
<circle cx="88.7" cy="18.3" r="1.4" fill="white" stroke="#e4479b" stroke-width="1.25"/>
<circle cx="97.5" cy="17.2" r="1.4" fill="white" stroke="#e4479b" stroke-width="1.25"/>
<circle cx="105.6" cy="16.7" r="1.4" fill="white" stroke="#e4479b" stroke-width="1.25"/>
<circle cx="110.6" cy="54.7" r="1.4" fill="white" stroke="#e4479b" stroke-width="1.25"/>
<circle cx="117.8" cy="76.3" r="1.4" fill="white" stroke="#e4479b" stroke-width="1.25"/>
<circle cx="126.9" cy="85.3" r="1.4" fill="white" stroke="#e4479b" stroke-width="1.25"/>
<circle cx="138.4" cy="96.5" r="1.4" fill="white" stroke="#e4479b" stroke-width="1.25"/>
<circle cx="153.7" cy="106.1" r="1.4" fill="white" stroke="#e4479b" stroke-width="1.25"/>
<circle cx="172.9" cy="112.2" r="1.4" fill="white" stroke="#e4479b" stroke-width="1.25"/>
<line x1="266.4" y1="6.26" x2="266.4" y2="118.4" stroke="#dadada" stroke-width="0.6" />
<line x1="272.65" y1="6.26" x2="272.65" y2="118.4" stroke="#dadada" stroke-width="0.6" />
<line x1="278.9" y1="6.26" x2="278.9" y2="118.4" stroke="#dadada" stroke-width="0.6" />
<line x1="285.15" y1="6.26" x2="285.15" y2="118.4" stroke="#dadada" stroke-width="0.6" />
<line x1="291.4" y1="6.26" x2="291.4" y2="118.4" stroke="#dadada" stroke-width="0.6" />
<line x1="297.65" y1="6.26" x2="297.65" y2="118.4" stroke="#dadada" stroke-width="0.6" />
<line x1="303.9" y1="6.26" x2="303.9" y2="118.4" stroke="#dadada" stroke-width="0.6" />
<line x1="310.15" y1="6.26" x2="310.15" y2="118.4" stroke="#dadada" stroke-width="0.6" />
<line x1="316.4" y1="6.26" x2="316.4" y2="118.4" stroke="#dadada" stroke-width="0.6" />
<line x1="322.65" y1="6.26" x2="322.65" y2="118.4" stroke="#dadada" stroke-width="0.6" />
<line x1="328.9" y1="6.26" x2="328.9" y2="118.4" stroke="#dadada" stroke-width="0.6" />
<line x1="335.15" y1="6.26" x2="335.15" y2="118.4" stroke="#dadada" stroke-width="0.6" />
<line x1="341.4" y1="6.26" x2="341.4" y2="118.4" stroke="#dadada" stroke-width="0.6" />
<line x1="347.65" y1="6.26" x2="347.65" y2="118.4" stroke="#dadada" stroke-width="0.6" />
<line x1="353.9" y1="6.26" x2="353.9" y2="118.4" stroke="#dadada" stroke-width="0.6" />
<line x1="360.15" y1="6.26" x2="360.15" y2="118.4" stroke="#dadada" stroke-width="0.6" />
<line x1="366.4" y1="6.26" x2="366.4" y2="118.4" stroke="#dadada" stroke-width="0.6" />
<line x1="266.4" y1="118.4" x2="366.4" y2="118.4" stroke="#dadada" stroke-width="0.6" />
<line x1="266.4" y1="112.17" x2="366.4" y2="112.17" stroke="#dadada" stroke-width="0.6" />
<line x1="266.4" y1="105.94" x2="366.4" y2="105.94" stroke="#dadada" stroke-width="0.6" />
<line x1="266.4" y1="99.71" x2="366.4" y2="99.71" stroke="#dadada" stroke-width="0.6" />
<line x1="266.4" y1="93.48" x2="366.4" y2="93.48" stroke="#dadada" stroke-width="0.6" />
<line x1="266.4" y1="87.25" x2="366.4" y2="87.25" stroke="#dadada" stroke-width="0.6" />
<line x1="266.4" y1="81.02" x2="366.4" y2="81.02" stroke="#dadada" stroke-width="0.6" />
<line x1="266.4" y1="74.79" x2="366.4" y2="74.79" stroke="#dadada" stroke-width="0.6" />
<line x1="266.4" y1="68.56" x2="366.4" y2="68.56" stroke="#dadada" stroke-width="0.6" />
<line x1="266.4" y1="62.33" x2="366.4" y2="62.33" stroke="#dadada" stroke-width="0.6" />
<line x1="266.4" y1="56.1" x2="366.4" y2="56.1" stroke="#dadada" stroke-width="0.6" />
<line x1="266.4" y1="49.87" x2="366.4" y2="49.87" stroke="#dadada" stroke-width="0.6" />
<line x1="266.4" y1="43.64" x2="366.4" y2="43.64" stroke="#dadada" stroke-width="0.6" />
<line x1="266.4" y1="37.41" x2="366.4" y2="37.41" stroke="#dadada" stroke-width="0.6" />
<line x1="266.4" y1="31.18" x2="366.4" y2="31.18" stroke="#dadada" stroke-width="0.6" />
<line x1="266.4" y1="24.95" x2="366.4" y2="24.95" stroke="#dadada" stroke-width="0.6" />
<line x1="266.4" y1="18.72" x2="366.4" y2="18.72" stroke="#dadada" stroke-width="0.6" />
<line x1="266.4" y1="12.49" x2="366.4" y2="12.49" stroke="#dadada" stroke-width="0.6" />
<line x1="266.4" y1="6.26" x2="366.4" y2="6.26" stroke="#dadada" stroke-width="0.6" />
<g clip-path="url(#hs)">
<rect x="273" y="13" width="6" height="1" fill="url(#r13)"/>
<rect x="272" y="14" width="11" height="1" fill="url(#r14)"/>
<rect x="270" y="15" width="15" height="1" fill="url(#r15)"/>
<rect x="269" y="16" width="18" height="1" fill="url(#r16)"/>
<rect x="269" y="17" width="20" height="1" fill="url(#r17)"/>
<rect x="268" y="18" width="22" height="1" fill="url(#r18)"/>
<rect x="268" y="19" width="24" height="1" fill="url(#r19)"/>
<rect x="267" y="20" width="26" height="1" fill="url(#r20)"/>
<rect x="267" y="21" width="28" height="1" fill="url(#r21)"/>
<rect x="267" y="22" width="29" height="1" fill="url(#r22)"/>
<rect x="266" y="23" width="31" height="1" fill="url(#r23)"/>
<rect x="266" y="24" width="33" height="1" fill="url(#r24)"/>
<rect x="266" y="25" width="34" height="1" fill="url(#r25)"/>
<rect x="265" y="26" width="36" height="1" fill="url(#r26)"/>
<rect x="265" y="27" width="37" height="1" fill="url(#r27)"/>
<rect x="265" y="28" width="38" height="1" fill="url(#r28)"/>
<rect x="265" y="29" width="39" height="1" fill="url(#r29)"/>
<rect x="265" y="30" width="41" height="1" fill="url(#r30)"/>
<rect x="265" y="31" width="42" height="1" fill="url(#r31)"/>
<rect x="265" y="32" width="43" height="1" fill="url(#r32)"/>
<rect x="265" y="33" width="44" height="1" fill="url(#r33)"/>
<rect x="265" y="34" width="45" height="1" fill="url(#r34)"/>
<rect x="265" y="35" width="46" height="1" fill="url(#r35)"/>
<rect x="264" y="36" width="48" height="1" fill="url(#r36)"/>
<rect x="264" y="37" width="49" height="1" fill="url(#r37)"/>
<rect x="264" y="38" width="50" height="1" fill="url(#r38)"/>
<rect x="264" y="39" width="51" height="1" fill="url(#r39)"/>
<rect x="265" y="40" width="51" height="1" fill="url(#r40)"/>
<rect x="265" y="41" width="52" height="1" fill="url(#r41)"/>
<rect x="265" y="42" width="53" height="1" fill="url(#r42)"/>
<rect x="265" y="43" width="54" height="1" fill="url(#r43)"/>
<rect x="265" y="44" width="55" height="1" fill="url(#r44)"/>
<rect x="265" y="45" width="56" height="1" fill="url(#r45)"/>
<rect x="265" y="46" width="57" height="1" fill="url(#r46)"/>
<rect x="265" y="47" width="58" height="1" fill="url(#r47)"/>
<rect x="265" y="48" width="59" height="1" fill="url(#r48)"/>
<rect x="265" y="49" width="60" height="1" fill="url(#r49)"/>
<rect x="265" y="50" width="61" height="1" fill="url(#r50)"/>
<rect x="265" y="51" width="62" height="1" fill="url(#r51)"/>
<rect x="265" y="52" width="63" height="1" fill="url(#r52)"/>
<rect x="265" y="53" width="64" height="1" fill="url(#r53)"/>
<rect x="265" y="54" width="65" height="1" fill="url(#r54)"/>
<rect x="265" y="55" width="66" height="1" fill="url(#r55)"/>
<rect x="266" y="56" width="66" height="1" fill="url(#r56)"/>
<rect x="266" y="57" width="67" height="1" fill="url(#r57)"/>
<rect x="266" y="58" width="68" height="1" fill="url(#r58)"/>
<rect x="266" y="59" width="69" height="1" fill="url(#r59)"/>
<rect x="266" y="60" width="70" height="1" fill="url(#r60)"/>
<rect x="266" y="61" width="71" height="1" fill="url(#r61)"/>
<rect x="266" y="62" width="72" height="1" fill="url(#r62)"/>
<rect x="266" y="63" width="73" height="1" fill="url(#r63)"/>
<rect x="267" y="64" width="73" height="1" fill="url(#r64)"/>
<rect x="267" y="65" width="74" height="1" fill="url(#r65)"/>
<rect x="267" y="66" width="75" height="1" fill="url(#r66)"/>
<rect x="267" y="67" width="76" height="1" fill="url(#r67)"/>
<rect x="267" y="68" width="77" height="1" fill="url(#r68)"/>
<rect x="267" y="69" width="78" height="1" fill="url(#r69)"/>
<rect x="267" y="70" width="79" height="1" fill="url(#r70)"/>
<rect x="268" y="71" width="79" height="1" fill="url(#r71)"/>
<rect x="268" y="72" width="80" height="1" fill="url(#r72)"/>
<rect x="268" y="73" width="81" height="1" fill="url(#r73)"/>
<rect x="268" y="74" width="82" height="1" fill="url(#r74)"/>
<rect x="268" y="75" width="83" height="1" fill="url(#r75)"/>
<rect x="269" y="76" width="83" height="1" fill="url(#r76)"/>
<rect x="269" y="77" width="84" height="1" fill="url(#r77)"/>
<rect x="269" y="78" width="85" height="1" fill="url(#r78)"/>
<rect x="269" y="79" width="86" height="1" fill="url(#r79)"/>
<rect x="269" y="80" width="87" height="1" fill="url(#r80)"/>
<rect x="270" y="81" width="87" height="1" fill="url(#r81)"/>
<rect x="270" y="82" width="89" height="1" fill="url(#r82)"/>
<rect x="270" y="83" width="90" height="1" fill="url(#r83)"/>
<rect x="270" y="84" width="91" height="1" fill="url(#r84)"/>
<rect x="270" y="85" width="92" height="1" fill="url(#r85)"/>
<rect x="271" y="86" width="89" height="1" fill="url(#r86)"/>
<rect x="271" y="87" width="87" height="1" fill="url(#r87)"/>
<rect x="271" y="88" width="85" height="1" fill="url(#r88)"/>
<rect x="271" y="89" width="83" height="1" fill="url(#r89)"/>
<rect x="272" y="90" width="80" height="1" fill="url(#r90)"/>
<rect x="272" y="91" width="78" height="1" fill="url(#r91)"/>
<rect x="272" y="92" width="75" height="1" fill="url(#r92)"/>
<rect x="272" y="93" width="73" height="1" fill="url(#r93)"/>
<rect x="273" y="94" width="70" height="1" fill="url(#r94)"/>
<rect x="273" y="95" width="68" height="1" fill="url(#r95)"/>
<rect x="273" y="96" width="66" height="1" fill="url(#r96)"/>
<rect x="274" y="97" width="63" height="1" fill="url(#r97)"/>
<rect x="274" y="98" width="60" height="1" fill="url(#r98)"/>
<rect x="274" y="99" width="58" height="1" fill="url(#r99)"/>
<rect x="275" y="100" width="55" height="1" fill="url(#r100)"/>
<rect x="275" y="101" width="53" height="1" fill="url(#r101)"/>
<rect x="275" y="102" width="51" height="1" fill="url(#r102)"/>
<rect x="276" y="103" width="48" height="1" fill="url(#r103)"/>
<rect x="276" y="104" width="45" height="1" fill="url(#r104)"/>
<rect x="277" y="105" width="42" height="1" fill="url(#r105)"/>
<rect x="277" y="106" width="40" height="1" fill="url(#r106)"/>
<rect x="277" y="107" width="38" height="1" fill="url(#r107)"/>
<rect x="278" y="108" width="35" height="1" fill="url(#r108)"/>
<rect x="278" y="109" width="33" height="1" fill="url(#r109)"/>
<rect x="279" y="110" width="29" height="1" fill="url(#r110)"/>
<rect x="279" y="111" width="27" height="1" fill="url(#r111)"/>
<rect x="280" y="112" width="24" height="1" fill="url(#r112)"/>
<rect x="281" y="113" width="21" height="1" fill="url(#r113)"/>
<rect x="281" y="114" width="19" height="1" fill="url(#r114)"/>
<rect x="282" y="115" width="16" height="1" fill="url(#r115)"/>
<rect x="283" y="116" width="12" height="1" fill="url(#r116)"/>
<rect x="284" y="117" width="9" height="1" fill="url(#r117)"/>
<rect x="285" y="118" width="6" height="1" fill="url(#r118)"/>
</g>
<polygon points="288.16,117.78 288.12,117.79 288.06,117.8 287.97,117.8 287.82,117.76 287.69,117.68 287.51,117.54 287.26,117.33 286.95,117.04 286.54,116.68 285.97,116.19 285.27,115.57 284.4,114.7 283.34,113.43 281.91,111.2 280.1,107.58 277.81,101.87 274.99,93.39 272.07,81.64 269.34,66.98 267.42,51.32 266.89,36.81 268.14,24.93 271.26,17.22 275.69,14.51 280.67,15.46 285.74,17.98 290.51,21.01 295.1,24.41 299.62,28.15 304.1,32.14 308.56,36.3 313.04,40.59 317.49,44.94 321.91,49.28 326.25,53.58 330.46,57.77 334.5,61.78 338.3,65.54 341.76,69 344.77,71.99 347.42,74.62 349.62,76.78 351.41,78.57 352.84,79.99 353.97,81.11 354.89,82.02 355.65,82.78 356.27,83.4 356.77,83.89 357.15,84.26 357.65,84.76 358.07,85.18 358.24,85.34" fill="none" stroke="#333" stroke-width="0.5"/>
<line x1="278.9" y1="6.26" x2="366.4" y2="93.48" stroke="#8a8a8a" stroke-width="0.6" />
<text x="273.1" y="11.3" font-size="3.6" fill="#3a5bc7" text-anchor="start" textLength="5.8" lengthAdjust="spacingAndGlyphs" >520</text>
<text x="297.1" y="21.4" font-size="3.6" fill="#3a5bc7" text-anchor="start" textLength="5.8" lengthAdjust="spacingAndGlyphs" >540</text>
<text x="314.3" y="37.9" font-size="3.6" fill="#3a5bc7" text-anchor="start" textLength="5.8" lengthAdjust="spacingAndGlyphs" >560</text>
<text x="332.1" y="55.7" font-size="3.6" fill="#3a5bc7" text-anchor="start" textLength="5.8" lengthAdjust="spacingAndGlyphs" >580</text>
<text x="345.9" y="69.8" font-size="3.6" fill="#3a5bc7" text-anchor="start" textLength="5.8" lengthAdjust="spacingAndGlyphs" >600</text>
<text x="354.2" y="77.6" font-size="3.6" fill="#3a5bc7" text-anchor="start" textLength="5.8" lengthAdjust="spacingAndGlyphs" >620</text>
<text x="360.9" y="86.1" font-size="3.6" fill="#3a5bc7" text-anchor="start" textLength="5.8" lengthAdjust="spacingAndGlyphs" >700</text>
<text x="262" y="52.6" font-size="3.6" fill="#3a5bc7" text-anchor="start" textLength="5.8" lengthAdjust="spacingAndGlyphs" >500</text>
<text x="266.6" y="84.8" font-size="3.6" fill="#3a5bc7" text-anchor="start" textLength="5.8" lengthAdjust="spacingAndGlyphs" >490</text>
<text x="270.2" y="103.9" font-size="3.6" fill="#3a5bc7" text-anchor="start" textLength="5.8" lengthAdjust="spacingAndGlyphs" >480</text>
<text x="274.1" y="113.4" font-size="3.6" fill="#3a5bc7" text-anchor="start" textLength="5.8" lengthAdjust="spacingAndGlyphs" >470</text>
<text x="276.8" y="117.8" font-size="3.6" fill="#3a5bc7" text-anchor="start" textLength="5.8" lengthAdjust="spacingAndGlyphs" >460</text>
<text x="290.2" y="119.6" font-size="3.6" fill="#3a5bc7" text-anchor="start" textLength="5.8" lengthAdjust="spacingAndGlyphs" >380</text>
<circle cx="294.3" cy="64.3" r="0.65" fill="#8a3a55" opacity="0.75"/>
<circle cx="297.5" cy="65.3" r="0.65" fill="#8a3a55" opacity="0.75"/>
<circle cx="301.3" cy="68.3" r="0.65" fill="#8a3a55" opacity="0.75"/>
<circle cx="305.4" cy="69.8" r="0.65" fill="#8a3a55" opacity="0.75"/>
<circle cx="316.4" cy="73.4" r="0.65" fill="#8a3a55" opacity="0.75"/>
<circle cx="325.6" cy="75.5" r="0.65" fill="#8a3a55" opacity="0.75"/>
<circle cx="335.2" cy="76.6" r="0.65" fill="#8a3a55" opacity="0.75"/>
<circle cx="342.2" cy="77.2" r="0.65" fill="#8a3a55" opacity="0.75"/>
<rect x="266.4" y="6.26" width="100" height="112.14" fill="none" stroke="#c4c4c4" stroke-width="0.6"/>
<text transform="translate(264.2,22) scale(0.97,1)" font-size="10" fill="#231f20" stroke="#231f20" stroke-width="0.05" text-anchor="end" >0.8</text>
<text transform="translate(264.2,46.5) scale(0.97,1)" font-size="10" fill="#231f20" stroke="#231f20" stroke-width="0.05" text-anchor="end" >0.6</text>
<text transform="translate(264.2,71) scale(0.97,1)" font-size="10" fill="#231f20" stroke="#231f20" stroke-width="0.05" text-anchor="end" >0.4</text>
<text transform="translate(264.2,95.8) scale(0.97,1)" font-size="10" fill="#231f20" stroke="#231f20" stroke-width="0.05" text-anchor="end" >0.2</text>
<text transform="translate(264.2,120.7) scale(0.97,1)" font-size="10" fill="#231f20" stroke="#231f20" stroke-width="0.05" text-anchor="end" >0.0</text>
<text transform="translate(268.6,129.2) scale(0.97,1)" font-size="10" fill="#231f20" stroke="#231f20" stroke-width="0.05" text-anchor="middle" >0.0</text>
<text transform="translate(290.3,129.2) scale(0.97,1)" font-size="10" fill="#231f20" stroke="#231f20" stroke-width="0.05" text-anchor="middle" >0.2</text>
<text transform="translate(317,129.2) scale(0.97,1)" font-size="10" fill="#231f20" stroke="#231f20" stroke-width="0.05" text-anchor="middle" >0.4</text>
<text transform="translate(342.2,129.2) scale(0.97,1)" font-size="10" fill="#231f20" stroke="#231f20" stroke-width="0.05" text-anchor="middle" >0.6</text>
<text transform="translate(365.9,129.2) scale(0.97,1)" font-size="10" fill="#231f20" stroke="#231f20" stroke-width="0.05" text-anchor="middle" >0.8</text>
<text x="317" y="137.2" font-size="10" fill="#231f20" stroke="#231f20" stroke-width="0.05" text-anchor="middle" >x</text>
<text x="244.3" y="60.9" font-size="10" fill="#231f20" stroke="#231f20" stroke-width="0.05" text-anchor="middle" >y</text>
<text transform="translate(237.6,13.6) scale(0.92,1)" font-size="18.4" fill="#231f20" text-anchor="start" >b</text>
<rect x="370.9" y="6.3" width="62.7" height="112.1" fill="#262626" stroke="#111" stroke-width="0.9"/>
<rect x="394" y="14" width="16.9" height="12.12" fill="#2fb89a"/>
<rect x="394" y="26.12" width="16.9" height="12.12" fill="#6dbda2"/>
<line x1="394" y1="26.12" x2="410.9" y2="26.12" stroke="#4a4a4a" stroke-width="0.5" />
<rect x="394" y="38.24" width="16.9" height="12.12" fill="#93b69e"/>
<line x1="394" y1="38.24" x2="410.9" y2="38.24" stroke="#4a4a4a" stroke-width="0.5" />
<rect x="394" y="50.36" width="16.9" height="12.12" fill="#aab49b"/>
<line x1="394" y1="50.36" x2="410.9" y2="50.36" stroke="#4a4a4a" stroke-width="0.5" />
<rect x="394" y="62.48" width="16.9" height="12.12" fill="#bcaa97"/>
<line x1="394" y1="62.48" x2="410.9" y2="62.48" stroke="#4a4a4a" stroke-width="0.5" />
<rect x="394" y="74.6" width="16.9" height="12.12" fill="#e29b8a"/>
<line x1="394" y1="74.6" x2="410.9" y2="74.6" stroke="#4a4a4a" stroke-width="0.5" />
<rect x="394" y="86.72" width="16.9" height="12.12" fill="#e47f6b"/>
<line x1="394" y1="86.72" x2="410.9" y2="86.72" stroke="#4a4a4a" stroke-width="0.5" />
<rect x="394" y="98.84" width="16.9" height="12.12" fill="#e05a48"/>
<line x1="394" y1="98.84" x2="410.9" y2="98.84" stroke="#4a4a4a" stroke-width="0.5" />
<line x1="389.6" y1="14.5" x2="389.6" y2="116.8" stroke="white" stroke-width="1.25" />
<polygon points="389.6,11.1 387.4,15.9 391.8,15.9" fill="white"/>
<line x1="414.4" y1="11.1" x2="414.4" y2="111.5" stroke="white" stroke-width="1.2" />
<polygon points="414.4,116.6 412.1,110.8 416.7,110.8" fill="white"/>
<text x="373.3" y="68" font-size="10.2" fill="white" stroke="white" stroke-width="0.1" text-anchor="start" textLength="14.2" lengthAdjust="spacingAndGlyphs" >Vis.</text>
<text x="416.8" y="68" font-size="10.2" fill="white" stroke="white" stroke-width="0.1" text-anchor="start" textLength="13.2" lengthAdjust="spacingAndGlyphs" >UV</text>
<line x1="421.9" y1="114.5" x2="432" y2="114.5" stroke="white" stroke-width="1.2" />
<line x1="506.6" y1="7.3" x2="645.6" y2="7.3" stroke="#231f20" stroke-width="1.25" />
<line x1="506.6" y1="118.7" x2="646.2" y2="118.7" stroke="#231f20" stroke-width="1.25" />
<polyline points="510.8,20.2 514.08,109.9 517.36,19.2 520.64,109.9 523.92,20.7 527.2,109.9 530.48,18 533.76,109.9 537.04,18.2 540.32,109.9 543.6,19.5 546.88,109.9 550.16,20.7 553.44,109.9 556.72,20.7 560,109.9 563.28,19.7 566.56,109.9 569.84,21.8 573.12,109.9 576.4,22 579.68,109.9 582.96,22 586.24,109.9 589.52,23.1 592.8,109.9 596.08,22 599.36,109.9 602.64,21.5 605.92,109.9 609.2,22 612.48,109.9 615.76,22.3 619.04,109.9 622.32,23.1 625.6,109.9 628.88,22.8 632.16,109.9 635.44,23.5 638.72,109.9 642,23.5" fill="none" stroke="#7bc360" stroke-width="1.4" stroke-linejoin="round" />
<circle cx="510.8" cy="20.2" r="0.95" fill="white" stroke="#7bc360" stroke-width="1"/>
<circle cx="514.08" cy="109.9" r="0.95" fill="white" stroke="#7bc360" stroke-width="1"/>
<circle cx="517.36" cy="19.2" r="0.95" fill="white" stroke="#7bc360" stroke-width="1"/>
<circle cx="520.64" cy="109.9" r="0.95" fill="white" stroke="#7bc360" stroke-width="1"/>
<circle cx="523.92" cy="20.7" r="0.95" fill="white" stroke="#7bc360" stroke-width="1"/>
<circle cx="527.2" cy="109.9" r="0.95" fill="white" stroke="#7bc360" stroke-width="1"/>
<circle cx="530.48" cy="18" r="0.95" fill="white" stroke="#7bc360" stroke-width="1"/>
<circle cx="533.76" cy="109.9" r="0.95" fill="white" stroke="#7bc360" stroke-width="1"/>
<circle cx="537.04" cy="18.2" r="0.95" fill="white" stroke="#7bc360" stroke-width="1"/>
<circle cx="540.32" cy="109.9" r="0.95" fill="white" stroke="#7bc360" stroke-width="1"/>
<circle cx="543.6" cy="19.5" r="0.95" fill="white" stroke="#7bc360" stroke-width="1"/>
<circle cx="546.88" cy="109.9" r="0.95" fill="white" stroke="#7bc360" stroke-width="1"/>
<circle cx="550.16" cy="20.7" r="0.95" fill="white" stroke="#7bc360" stroke-width="1"/>
<circle cx="553.44" cy="109.9" r="0.95" fill="white" stroke="#7bc360" stroke-width="1"/>
<circle cx="556.72" cy="20.7" r="0.95" fill="white" stroke="#7bc360" stroke-width="1"/>
<circle cx="560" cy="109.9" r="0.95" fill="white" stroke="#7bc360" stroke-width="1"/>
<circle cx="563.28" cy="19.7" r="0.95" fill="white" stroke="#7bc360" stroke-width="1"/>
<circle cx="566.56" cy="109.9" r="0.95" fill="white" stroke="#7bc360" stroke-width="1"/>
<circle cx="569.84" cy="21.8" r="0.95" fill="white" stroke="#7bc360" stroke-width="1"/>
<circle cx="573.12" cy="109.9" r="0.95" fill="white" stroke="#7bc360" stroke-width="1"/>
<circle cx="576.4" cy="22" r="0.95" fill="white" stroke="#7bc360" stroke-width="1"/>
<circle cx="579.68" cy="109.9" r="0.95" fill="white" stroke="#7bc360" stroke-width="1"/>
<circle cx="582.96" cy="22" r="0.95" fill="white" stroke="#7bc360" stroke-width="1"/>
<circle cx="586.24" cy="109.9" r="0.95" fill="white" stroke="#7bc360" stroke-width="1"/>
<circle cx="589.52" cy="23.1" r="0.95" fill="white" stroke="#7bc360" stroke-width="1"/>
<circle cx="592.8" cy="109.9" r="0.95" fill="white" stroke="#7bc360" stroke-width="1"/>
<circle cx="596.08" cy="22" r="0.95" fill="white" stroke="#7bc360" stroke-width="1"/>
<circle cx="599.36" cy="109.9" r="0.95" fill="white" stroke="#7bc360" stroke-width="1"/>
<circle cx="602.64" cy="21.5" r="0.95" fill="white" stroke="#7bc360" stroke-width="1"/>
<circle cx="605.92" cy="109.9" r="0.95" fill="white" stroke="#7bc360" stroke-width="1"/>
<circle cx="609.2" cy="22" r="0.95" fill="white" stroke="#7bc360" stroke-width="1"/>
<circle cx="612.48" cy="109.9" r="0.95" fill="white" stroke="#7bc360" stroke-width="1"/>
<circle cx="615.76" cy="22.3" r="0.95" fill="white" stroke="#7bc360" stroke-width="1"/>
<circle cx="619.04" cy="109.9" r="0.95" fill="white" stroke="#7bc360" stroke-width="1"/>
<circle cx="622.32" cy="23.1" r="0.95" fill="white" stroke="#7bc360" stroke-width="1"/>
<circle cx="625.6" cy="109.9" r="0.95" fill="white" stroke="#7bc360" stroke-width="1"/>
<circle cx="628.88" cy="22.8" r="0.95" fill="white" stroke="#7bc360" stroke-width="1"/>
<circle cx="632.16" cy="109.9" r="0.95" fill="white" stroke="#7bc360" stroke-width="1"/>
<circle cx="635.44" cy="23.5" r="0.95" fill="white" stroke="#7bc360" stroke-width="1"/>
<circle cx="638.72" cy="109.9" r="0.95" fill="white" stroke="#7bc360" stroke-width="1"/>
<circle cx="642" cy="23.5" r="0.95" fill="white" stroke="#7bc360" stroke-width="1"/>
<polyline points="510.8,112.3 514.08,22 517.36,112.3 520.64,21 523.92,112.3 527.2,21.8 530.48,112.3 533.76,20.7 537.04,112.3 540.32,20.7 543.6,112.3 546.88,22.3 550.16,112.3 553.44,21 556.72,112.3 560,20.2 563.28,112.3 566.56,21.8 569.84,112.3 573.12,19.7 576.4,112.3 579.68,17.4 582.96,112.3 586.24,22 589.52,112.3 592.8,17.7 596.08,112.3 599.36,21.4 602.64,112.3 605.92,22.8 609.2,112.3 612.48,19 615.76,112.3 619.04,20.2 622.32,112.3 625.6,20.7 628.88,112.3 632.16,22 635.44,112.3 638.72,22.8 642,112.3" fill="none" stroke="#e4479b" stroke-width="1.4" stroke-linejoin="round" />
<circle cx="510.8" cy="112.3" r="0.95" fill="white" stroke="#e4479b" stroke-width="1"/>
<circle cx="514.08" cy="22" r="0.95" fill="white" stroke="#e4479b" stroke-width="1"/>
<circle cx="517.36" cy="112.3" r="0.95" fill="white" stroke="#e4479b" stroke-width="1"/>
<circle cx="520.64" cy="21" r="0.95" fill="white" stroke="#e4479b" stroke-width="1"/>
<circle cx="523.92" cy="112.3" r="0.95" fill="white" stroke="#e4479b" stroke-width="1"/>
<circle cx="527.2" cy="21.8" r="0.95" fill="white" stroke="#e4479b" stroke-width="1"/>
<circle cx="530.48" cy="112.3" r="0.95" fill="white" stroke="#e4479b" stroke-width="1"/>
<circle cx="533.76" cy="20.7" r="0.95" fill="white" stroke="#e4479b" stroke-width="1"/>
<circle cx="537.04" cy="112.3" r="0.95" fill="white" stroke="#e4479b" stroke-width="1"/>
<circle cx="540.32" cy="20.7" r="0.95" fill="white" stroke="#e4479b" stroke-width="1"/>
<circle cx="543.6" cy="112.3" r="0.95" fill="white" stroke="#e4479b" stroke-width="1"/>
<circle cx="546.88" cy="22.3" r="0.95" fill="white" stroke="#e4479b" stroke-width="1"/>
<circle cx="550.16" cy="112.3" r="0.95" fill="white" stroke="#e4479b" stroke-width="1"/>
<circle cx="553.44" cy="21" r="0.95" fill="white" stroke="#e4479b" stroke-width="1"/>
<circle cx="556.72" cy="112.3" r="0.95" fill="white" stroke="#e4479b" stroke-width="1"/>
<circle cx="560" cy="20.2" r="0.95" fill="white" stroke="#e4479b" stroke-width="1"/>
<circle cx="563.28" cy="112.3" r="0.95" fill="white" stroke="#e4479b" stroke-width="1"/>
<circle cx="566.56" cy="21.8" r="0.95" fill="white" stroke="#e4479b" stroke-width="1"/>
<circle cx="569.84" cy="112.3" r="0.95" fill="white" stroke="#e4479b" stroke-width="1"/>
<circle cx="573.12" cy="19.7" r="0.95" fill="white" stroke="#e4479b" stroke-width="1"/>
<circle cx="576.4" cy="112.3" r="0.95" fill="white" stroke="#e4479b" stroke-width="1"/>
<circle cx="579.68" cy="17.4" r="0.95" fill="white" stroke="#e4479b" stroke-width="1"/>
<circle cx="582.96" cy="112.3" r="0.95" fill="white" stroke="#e4479b" stroke-width="1"/>
<circle cx="586.24" cy="22" r="0.95" fill="white" stroke="#e4479b" stroke-width="1"/>
<circle cx="589.52" cy="112.3" r="0.95" fill="white" stroke="#e4479b" stroke-width="1"/>
<circle cx="592.8" cy="17.7" r="0.95" fill="white" stroke="#e4479b" stroke-width="1"/>
<circle cx="596.08" cy="112.3" r="0.95" fill="white" stroke="#e4479b" stroke-width="1"/>
<circle cx="599.36" cy="21.4" r="0.95" fill="white" stroke="#e4479b" stroke-width="1"/>
<circle cx="602.64" cy="112.3" r="0.95" fill="white" stroke="#e4479b" stroke-width="1"/>
<circle cx="605.92" cy="22.8" r="0.95" fill="white" stroke="#e4479b" stroke-width="1"/>
<circle cx="609.2" cy="112.3" r="0.95" fill="white" stroke="#e4479b" stroke-width="1"/>
<circle cx="612.48" cy="19" r="0.95" fill="white" stroke="#e4479b" stroke-width="1"/>
<circle cx="615.76" cy="112.3" r="0.95" fill="white" stroke="#e4479b" stroke-width="1"/>
<circle cx="619.04" cy="20.2" r="0.95" fill="white" stroke="#e4479b" stroke-width="1"/>
<circle cx="622.32" cy="112.3" r="0.95" fill="white" stroke="#e4479b" stroke-width="1"/>
<circle cx="625.6" cy="20.7" r="0.95" fill="white" stroke="#e4479b" stroke-width="1"/>
<circle cx="628.88" cy="112.3" r="0.95" fill="white" stroke="#e4479b" stroke-width="1"/>
<circle cx="632.16" cy="22" r="0.95" fill="white" stroke="#e4479b" stroke-width="1"/>
<circle cx="635.44" cy="112.3" r="0.95" fill="white" stroke="#e4479b" stroke-width="1"/>
<circle cx="638.72" cy="22.8" r="0.95" fill="white" stroke="#e4479b" stroke-width="1"/>
<circle cx="642" cy="112.3" r="0.95" fill="white" stroke="#e4479b" stroke-width="1"/>
<line x1="507.2" y1="6.7" x2="507.2" y2="118.7" stroke="#7bc360" stroke-width="1.25" />
<line x1="645.6" y1="6.7" x2="645.6" y2="118.7" stroke="#e4479b" stroke-width="1.25" />
<line x1="504.7" y1="13.7" x2="507.2" y2="13.7" stroke="#7bc360" stroke-width="1" />
<line x1="505.7" y1="26.8" x2="507.2" y2="26.8" stroke="#7bc360" stroke-width="1" />
<line x1="504.7" y1="39.8" x2="507.2" y2="39.8" stroke="#7bc360" stroke-width="1" />
<line x1="505.7" y1="52.9" x2="507.2" y2="52.9" stroke="#7bc360" stroke-width="1" />
<line x1="504.7" y1="65.9" x2="507.2" y2="65.9" stroke="#7bc360" stroke-width="1" />
<line x1="505.7" y1="79" x2="507.2" y2="79" stroke="#7bc360" stroke-width="1" />
<line x1="504.7" y1="92" x2="507.2" y2="92" stroke="#7bc360" stroke-width="1" />
<line x1="505.7" y1="105.1" x2="507.2" y2="105.1" stroke="#7bc360" stroke-width="1" />
<line x1="504.7" y1="118.1" x2="507.2" y2="118.1" stroke="#7bc360" stroke-width="1" />
<line x1="645.6" y1="10.8" x2="648.1" y2="10.8" stroke="#e4479b" stroke-width="1" />
<line x1="645.6" y1="24.2" x2="647.1" y2="24.2" stroke="#e4479b" stroke-width="1" />
<line x1="645.6" y1="37.65" x2="648.1" y2="37.65" stroke="#e4479b" stroke-width="1" />
<line x1="645.6" y1="51.05" x2="647.1" y2="51.05" stroke="#e4479b" stroke-width="1" />
<line x1="645.6" y1="64.5" x2="648.1" y2="64.5" stroke="#e4479b" stroke-width="1" />
<line x1="645.6" y1="77.9" x2="647.1" y2="77.9" stroke="#e4479b" stroke-width="1" />
<line x1="645.6" y1="91.35" x2="648.1" y2="91.35" stroke="#e4479b" stroke-width="1" />
<line x1="645.6" y1="104.75" x2="647.1" y2="104.75" stroke="#e4479b" stroke-width="1" />
<line x1="645.6" y1="118.2" x2="648.1" y2="118.2" stroke="#e4479b" stroke-width="1" />
<line x1="510.8" y1="118.7" x2="510.8" y2="121.3" stroke="#231f20" stroke-width="1" />
<line x1="527.2" y1="118.7" x2="527.2" y2="120.3" stroke="#231f20" stroke-width="1" />
<line x1="543.6" y1="118.7" x2="543.6" y2="121.3" stroke="#231f20" stroke-width="1" />
<line x1="560" y1="118.7" x2="560" y2="120.3" stroke="#231f20" stroke-width="1" />
<line x1="576.4" y1="118.7" x2="576.4" y2="121.3" stroke="#231f20" stroke-width="1" />
<line x1="592.8" y1="118.7" x2="592.8" y2="120.3" stroke="#231f20" stroke-width="1" />
<line x1="609.2" y1="118.7" x2="609.2" y2="121.3" stroke="#231f20" stroke-width="1" />
<line x1="625.6" y1="118.7" x2="625.6" y2="120.3" stroke="#231f20" stroke-width="1" />
<line x1="642" y1="118.7" x2="642" y2="121.3" stroke="#231f20" stroke-width="1" />
<text x="504.4" y="16" font-size="9.6" fill="#82c768" stroke="#82c768" stroke-width="0.1" text-anchor="end" >80.0k</text>
<text x="504.4" y="42" font-size="9.6" fill="#82c768" stroke="#82c768" stroke-width="0.1" text-anchor="end" >60.0k</text>
<text x="504.4" y="68.6" font-size="9.6" fill="#82c768" stroke="#82c768" stroke-width="0.1" text-anchor="end" >40.0k</text>
<text x="504.4" y="95" font-size="9.6" fill="#82c768" stroke="#82c768" stroke-width="0.1" text-anchor="end" >20.0k</text>
<text x="498.8" y="120.6" font-size="9.6" fill="#82c768" stroke="#82c768" stroke-width="0.1" text-anchor="end" >0.0</text>
<text x="650.5" y="14.8" font-size="9.6" fill="#e6519f" stroke="#e6519f" stroke-width="0.1" text-anchor="start" >120.0k</text>
<text x="650.5" y="41.6" font-size="9.6" fill="#e6519f" stroke="#e6519f" stroke-width="0.1" text-anchor="start" >90.0k</text>
<text x="650.5" y="68.4" font-size="9.6" fill="#e6519f" stroke="#e6519f" stroke-width="0.1" text-anchor="start" >60.0k</text>
<text x="650.5" y="95.2" font-size="9.6" fill="#e6519f" stroke="#e6519f" stroke-width="0.1" text-anchor="start" >30.0k</text>
<text x="650.5" y="121.2" font-size="9.6" fill="#e6519f" stroke="#e6519f" stroke-width="0.1" text-anchor="start" >0.0</text>
<text x="511.1" y="129.8" font-size="9.6" fill="#231f20" stroke="#231f20" stroke-width="0.1" text-anchor="middle" >0</text>
<text x="543.9" y="129.8" font-size="9.6" fill="#231f20" stroke="#231f20" stroke-width="0.1" text-anchor="middle" >5</text>
<text x="576.7" y="129.8" font-size="9.6" fill="#231f20" stroke="#231f20" stroke-width="0.1" text-anchor="middle" >10</text>
<text x="609.5" y="129.8" font-size="9.6" fill="#231f20" stroke="#231f20" stroke-width="0.1" text-anchor="middle" >15</text>
<text x="642.3" y="129.8" font-size="9.6" fill="#231f20" stroke="#231f20" stroke-width="0.1" text-anchor="middle" >20</text>
<text x="566.5" y="141" font-size="10" fill="#231f20" stroke="#231f20" stroke-width="0.1" text-anchor="start" textLength="22.9" lengthAdjust="spacingAndGlyphs" >Cycle</text>
<text transform="translate(476.2,64) rotate(-90)" font-size="9.5" fill="#82c768" stroke="#82c768" stroke-width="0.1" text-anchor="middle" textLength="75.7" lengthAdjust="spacing">Counts @ 500 nm</text>
<text transform="translate(684,63.9) rotate(-90)" font-size="9.5" fill="#e6519f" stroke="#e6519f" stroke-width="0.1" text-anchor="middle" textLength="75.8" lengthAdjust="spacing">Counts @ 650 nm</text>
<text transform="translate(469.6,13.4) scale(0.88,1)" font-size="17.8" fill="#231f20" stroke="#231f20" stroke-width="0.3" text-anchor="start" >c</text>
<line x1="531.8" y1="11.8" x2="539.7" y2="11.8" stroke="#7bc360" stroke-width="1.3" />
<circle cx="535.7" cy="11.8" r="1.1" fill="white" stroke="#7bc360" stroke-width="1"/>
<text x="543.1" y="16.1" font-size="9.6" fill="#82c768" stroke="#82c768" stroke-width="0.1" text-anchor="start" textLength="25.8" lengthAdjust="spacingAndGlyphs" >MNEA</text>
<line x1="594.9" y1="12.2" x2="603.1" y2="12.2" stroke="#e4479b" stroke-width="1.3" />
<circle cx="599" cy="12.2" r="1.1" fill="white" stroke="#e4479b" stroke-width="1"/>
<text x="606" y="16.1" font-size="9.6" fill="#e6519f" stroke="#e6519f" stroke-width="0.1" text-anchor="start" textLength="21.1" lengthAdjust="spacingAndGlyphs" >BTBA</text>
<polyline points="41.7,285.6 47.5,285.5 54.7,285.4 64,284.9 83.9,285.6 98.6,285.6 117.6,285.6 138.5,285.6 172.2,285.6" fill="none" stroke="#4ba9e2" stroke-width="1.35" stroke-linejoin="round" />
<circle cx="41.7" cy="285.6" r="1.4" fill="white" stroke="#4ba9e2" stroke-width="1.25"/>
<circle cx="47.5" cy="285.5" r="1.4" fill="white" stroke="#4ba9e2" stroke-width="1.25"/>
<circle cx="54.7" cy="285.4" r="1.4" fill="white" stroke="#4ba9e2" stroke-width="1.25"/>
<circle cx="64" cy="284.9" r="1.4" fill="white" stroke="#4ba9e2" stroke-width="1.25"/>
<circle cx="83.9" cy="285.6" r="1.4" fill="white" stroke="#4ba9e2" stroke-width="1.25"/>
<circle cx="98.6" cy="285.6" r="1.4" fill="white" stroke="#4ba9e2" stroke-width="1.25"/>
<circle cx="117.6" cy="285.6" r="1.4" fill="white" stroke="#4ba9e2" stroke-width="1.25"/>
<circle cx="138.5" cy="285.6" r="1.4" fill="white" stroke="#4ba9e2" stroke-width="1.25"/>
<circle cx="172.2" cy="285.6" r="1.4" fill="white" stroke="#4ba9e2" stroke-width="1.25"/>
<polyline points="41.7,285.8 47.5,285.8 54.7,285.8 64,285.8 83.9,285.8 98.6,285.8 117.6,285.8 138.5,285.8 172.2,285.8" fill="none" stroke="#4fb596" stroke-width="1.35" stroke-linejoin="round" />
<circle cx="41.7" cy="285.8" r="1.4" fill="white" stroke="#4fb596" stroke-width="1.25"/>
<circle cx="47.5" cy="285.8" r="1.4" fill="white" stroke="#4fb596" stroke-width="1.25"/>
<circle cx="54.7" cy="285.8" r="1.4" fill="white" stroke="#4fb596" stroke-width="1.25"/>
<circle cx="64" cy="285.8" r="1.4" fill="white" stroke="#4fb596" stroke-width="1.25"/>
<circle cx="83.9" cy="285.8" r="1.4" fill="white" stroke="#4fb596" stroke-width="1.25"/>
<circle cx="98.6" cy="285.8" r="1.4" fill="white" stroke="#4fb596" stroke-width="1.25"/>
<circle cx="117.6" cy="285.8" r="1.4" fill="white" stroke="#4fb596" stroke-width="1.25"/>
<circle cx="138.5" cy="285.8" r="1.4" fill="white" stroke="#4fb596" stroke-width="1.25"/>
<circle cx="172.2" cy="285.8" r="1.4" fill="white" stroke="#4fb596" stroke-width="1.25"/>
<polyline points="41.7,285.6 47.5,229.8 54.7,212.5 64,200.5 83.9,191.9 98.6,190.4 117.6,189.2 138.5,189.2 172.2,189.2" fill="none" stroke="#a6d168" stroke-width="1.35" stroke-linejoin="round" />
<circle cx="41.7" cy="285.6" r="1.4" fill="white" stroke="#a6d168" stroke-width="1.25"/>
<circle cx="47.5" cy="229.8" r="1.4" fill="white" stroke="#a6d168" stroke-width="1.25"/>
<circle cx="54.7" cy="212.5" r="1.4" fill="white" stroke="#a6d168" stroke-width="1.25"/>
<circle cx="64" cy="200.5" r="1.4" fill="white" stroke="#a6d168" stroke-width="1.25"/>
<circle cx="83.9" cy="191.9" r="1.4" fill="white" stroke="#a6d168" stroke-width="1.25"/>
<circle cx="98.6" cy="190.4" r="1.4" fill="white" stroke="#a6d168" stroke-width="1.25"/>
<circle cx="117.6" cy="189.2" r="1.4" fill="white" stroke="#a6d168" stroke-width="1.25"/>
<circle cx="138.5" cy="189.2" r="1.4" fill="white" stroke="#a6d168" stroke-width="1.25"/>
<circle cx="172.2" cy="189.2" r="1.4" fill="white" stroke="#a6d168" stroke-width="1.25"/>
<polyline points="41.7,285.6 47.5,203.9 54.7,191.1 64,189.2 83.9,189.2 98.6,189.2 117.6,189.2 138.5,189.2 172.2,189.2" fill="none" stroke="#e4479b" stroke-width="1.35" stroke-linejoin="round" />
<circle cx="41.7" cy="285.6" r="1.4" fill="white" stroke="#e4479b" stroke-width="1.25"/>
<circle cx="47.5" cy="203.9" r="1.4" fill="white" stroke="#e4479b" stroke-width="1.25"/>
<circle cx="54.7" cy="191.1" r="1.4" fill="white" stroke="#e4479b" stroke-width="1.25"/>
<circle cx="64" cy="189.2" r="1.4" fill="white" stroke="#e4479b" stroke-width="1.25"/>
<circle cx="83.9" cy="189.2" r="1.4" fill="white" stroke="#e4479b" stroke-width="1.25"/>
<circle cx="98.6" cy="189.2" r="1.4" fill="white" stroke="#e4479b" stroke-width="1.25"/>
<circle cx="117.6" cy="189.2" r="1.4" fill="white" stroke="#e4479b" stroke-width="1.25"/>
<circle cx="138.5" cy="189.2" r="1.4" fill="white" stroke="#e4479b" stroke-width="1.25"/>
<circle cx="172.2" cy="189.2" r="1.4" fill="white" stroke="#e4479b" stroke-width="1.25"/>
<rect x="39.8" y="176.35" width="138.65" height="111.15" fill="none" stroke="#231f20" stroke-width="1.35"/>
<line x1="37.3" y1="184.8" x2="39.8" y2="184.8" stroke="#231f20" stroke-width="1" />
<line x1="38.3" y1="193.2" x2="39.8" y2="193.2" stroke="#231f20" stroke-width="1" />
<line x1="37.3" y1="201.63" x2="39.8" y2="201.63" stroke="#231f20" stroke-width="1" />
<line x1="38.3" y1="210.03" x2="39.8" y2="210.03" stroke="#231f20" stroke-width="1" />
<line x1="37.3" y1="218.46" x2="39.8" y2="218.46" stroke="#231f20" stroke-width="1" />
<line x1="38.3" y1="226.86" x2="39.8" y2="226.86" stroke="#231f20" stroke-width="1" />
<line x1="37.3" y1="235.29" x2="39.8" y2="235.29" stroke="#231f20" stroke-width="1" />
<line x1="38.3" y1="243.69" x2="39.8" y2="243.69" stroke="#231f20" stroke-width="1" />
<line x1="37.3" y1="252.12" x2="39.8" y2="252.12" stroke="#231f20" stroke-width="1" />
<line x1="38.3" y1="260.52" x2="39.8" y2="260.52" stroke="#231f20" stroke-width="1" />
<line x1="37.3" y1="268.95" x2="39.8" y2="268.95" stroke="#231f20" stroke-width="1" />
<line x1="38.3" y1="277.35" x2="39.8" y2="277.35" stroke="#231f20" stroke-width="1" />
<line x1="37.3" y1="285.78" x2="39.8" y2="285.78" stroke="#231f20" stroke-width="1" />
<text transform="translate(35.1,187.8) scale(0.92,1)" font-size="10.2" fill="#231f20" stroke="#231f20" stroke-width="0.1" text-anchor="end" >0.30</text>
<text transform="translate(35.1,204.63) scale(0.92,1)" font-size="10.2" fill="#231f20" stroke="#231f20" stroke-width="0.1" text-anchor="end" >0.25</text>
<text transform="translate(35.1,221.46) scale(0.92,1)" font-size="10.2" fill="#231f20" stroke="#231f20" stroke-width="0.1" text-anchor="end" >0.20</text>
<text transform="translate(35.1,238.29) scale(0.92,1)" font-size="10.2" fill="#231f20" stroke="#231f20" stroke-width="0.1" text-anchor="end" >0.15</text>
<text transform="translate(35.1,255.12) scale(0.92,1)" font-size="10.2" fill="#231f20" stroke="#231f20" stroke-width="0.1" text-anchor="end" >0.10</text>
<text transform="translate(35.1,271.95) scale(0.92,1)" font-size="10.2" fill="#231f20" stroke="#231f20" stroke-width="0.1" text-anchor="end" >0.05</text>
<text transform="translate(35.1,288.78) scale(0.92,1)" font-size="10.2" fill="#231f20" stroke="#231f20" stroke-width="0.1" text-anchor="end" >0.00</text>
<line x1="41.8" y1="287.5" x2="41.8" y2="290" stroke="#231f20" stroke-width="1" />
<line x1="52.3" y1="287.5" x2="52.3" y2="289" stroke="#231f20" stroke-width="1" />
<line x1="62.8" y1="287.5" x2="62.8" y2="290" stroke="#231f20" stroke-width="1" />
<line x1="73.3" y1="287.5" x2="73.3" y2="289" stroke="#231f20" stroke-width="1" />
<line x1="83.8" y1="287.5" x2="83.8" y2="290" stroke="#231f20" stroke-width="1" />
<line x1="94.3" y1="287.5" x2="94.3" y2="289" stroke="#231f20" stroke-width="1" />
<line x1="104.8" y1="287.5" x2="104.8" y2="290" stroke="#231f20" stroke-width="1" />
<line x1="115.3" y1="287.5" x2="115.3" y2="289" stroke="#231f20" stroke-width="1" />
<line x1="125.8" y1="287.5" x2="125.8" y2="290" stroke="#231f20" stroke-width="1" />
<line x1="136.3" y1="287.5" x2="136.3" y2="289" stroke="#231f20" stroke-width="1" />
<line x1="146.8" y1="287.5" x2="146.8" y2="290" stroke="#231f20" stroke-width="1" />
<line x1="157.3" y1="287.5" x2="157.3" y2="289" stroke="#231f20" stroke-width="1" />
<line x1="167.8" y1="287.5" x2="167.8" y2="290" stroke="#231f20" stroke-width="1" />
<line x1="178.3" y1="287.5" x2="178.3" y2="289" stroke="#231f20" stroke-width="1" />
<text transform="translate(41.6,299) scale(0.9,1)" font-size="10.2" fill="#231f20" stroke="#231f20" stroke-width="0.1" text-anchor="middle" >0</text>
<text transform="translate(63,299) scale(0.9,1)" font-size="10.2" fill="#231f20" stroke="#231f20" stroke-width="0.1" text-anchor="middle" >50</text>
<text transform="translate(85.7,299) scale(0.9,1)" font-size="10.2" fill="#231f20" stroke="#231f20" stroke-width="0.1" text-anchor="middle" >100</text>
<text transform="translate(106.5,299) scale(0.9,1)" font-size="10.2" fill="#231f20" stroke="#231f20" stroke-width="0.1" text-anchor="middle" >150</text>
<text transform="translate(127.5,299) scale(0.9,1)" font-size="10.2" fill="#231f20" stroke="#231f20" stroke-width="0.1" text-anchor="middle" >200</text>
<text transform="translate(148.7,299) scale(0.9,1)" font-size="10.2" fill="#231f20" stroke="#231f20" stroke-width="0.1" text-anchor="middle" >250</text>
<text transform="translate(169.4,299) scale(0.9,1)" font-size="10.2" fill="#231f20" stroke="#231f20" stroke-width="0.1" text-anchor="middle" >300</text>
<text x="92.7" y="311" font-size="9.6" fill="#231f20" stroke="#231f20" stroke-width="0.15" text-anchor="start" textLength="33.4" lengthAdjust="spacing" >Time / s</text>
<text transform="translate(9.7,228.8) rotate(-90)" font-size="9.5" fill="#231f20" stroke="#231f20" stroke-width="0.1" text-anchor="middle" textLength="54.2" lengthAdjust="spacing">Height / mm</text>
<text transform="translate(-0.5,183.6) scale(0.92,1)" font-size="18.4" fill="#231f20" text-anchor="start" >d</text>
<line x1="137.2" y1="210.4" x2="149.2" y2="210.4" stroke="#e4479b" stroke-width="1.3" />
<circle cx="143.2" cy="210.4" r="1.4" fill="white" stroke="#e4479b" stroke-width="1.25"/>
<text x="151.2" y="213.7" font-size="10" fill="#231f20" stroke="#231f20" stroke-width="0.22" text-anchor="start" textLength="10" lengthAdjust="spacingAndGlyphs" >55</text>
<circle cx="163.4" cy="205.3" r="0.45" fill="none" stroke="#231f20" stroke-width="0.45"/>
<path d="M169.47,207.56 A3.1,3.65 0 1 0 169.47,212.44" fill="none" stroke="#231f20" stroke-width="0.7"/>
<line x1="137.2" y1="221.9" x2="149.2" y2="221.9" stroke="#a6d168" stroke-width="1.3" />
<circle cx="143.2" cy="221.9" r="1.4" fill="white" stroke="#a6d168" stroke-width="1.25"/>
<text x="151.2" y="225.2" font-size="10" fill="#231f20" stroke="#231f20" stroke-width="0.22" text-anchor="start" textLength="10" lengthAdjust="spacingAndGlyphs" >45</text>
<circle cx="163.4" cy="216.8" r="0.45" fill="none" stroke="#231f20" stroke-width="0.45"/>
<path d="M169.47,219.06 A3.1,3.65 0 1 0 169.47,223.94" fill="none" stroke="#231f20" stroke-width="0.7"/>
<line x1="137.2" y1="234.3" x2="149.2" y2="234.3" stroke="#4ba9e2" stroke-width="1.3" />
<circle cx="143.2" cy="234.3" r="1.4" fill="white" stroke="#4ba9e2" stroke-width="1.25"/>
<text x="151.2" y="237.6" font-size="10" fill="#231f20" stroke="#231f20" stroke-width="0.22" text-anchor="start" textLength="10" lengthAdjust="spacingAndGlyphs" >35</text>
<circle cx="163.4" cy="229.2" r="0.45" fill="none" stroke="#231f20" stroke-width="0.45"/>
<path d="M169.47,231.46 A3.1,3.65 0 1 0 169.47,236.34" fill="none" stroke="#231f20" stroke-width="0.7"/>
<line x1="137.2" y1="246.3" x2="149.2" y2="246.3" stroke="#4fb596" stroke-width="1.3" />
<circle cx="143.2" cy="246.3" r="1.4" fill="white" stroke="#4fb596" stroke-width="1.25"/>
<text x="151.2" y="249.6" font-size="10" fill="#231f20" stroke="#231f20" stroke-width="0.22" text-anchor="start" textLength="10" lengthAdjust="spacingAndGlyphs" >25</text>
<circle cx="163.4" cy="241.2" r="0.45" fill="none" stroke="#231f20" stroke-width="0.45"/>
<path d="M169.47,243.46 A3.1,3.65 0 1 0 169.47,248.34" fill="none" stroke="#231f20" stroke-width="0.7"/>
<text transform="translate(237.5,183.8) scale(0.87,1)" font-size="18.4" fill="#231f20" text-anchor="start" >e</text>
<line x1="267.2" y1="176.1" x2="438.5" y2="176.1" stroke="#231f20" stroke-width="1.25" />
<polygon points="443.6,176.1 437.5,173.9 437.5,178.3" fill="#231f20"/>
<text x="334.6" y="171.8" font-size="10.2" fill="#231f20" stroke="#231f20" stroke-width="0.12" text-anchor="start" textLength="33.4" lengthAdjust="spacing" >Time / s</text>
<text x="240" y="201.4" font-size="10.2" fill="#231f20" stroke="#231f20" stroke-width="0.22" text-anchor="start" textLength="10.6" lengthAdjust="spacingAndGlyphs" >25</text>
<circle cx="252.8" cy="193" r="0.45" fill="none" stroke="#231f20" stroke-width="0.45"/>
<path d="M258.99,195.13 A3.16,3.72 0 1 0 258.99,200.12" fill="none" stroke="#231f20" stroke-width="0.7"/>
<text x="240" y="242.5" font-size="10.2" fill="#231f20" stroke="#231f20" stroke-width="0.22" text-anchor="start" textLength="10.6" lengthAdjust="spacingAndGlyphs" >45</text>
<circle cx="252.8" cy="234.1" r="0.45" fill="none" stroke="#231f20" stroke-width="0.45"/>
<path d="M258.99,236.23 A3.16,3.72 0 1 0 258.99,241.22" fill="none" stroke="#231f20" stroke-width="0.7"/>
<text x="240" y="281.4" font-size="10.2" fill="#231f20" stroke="#231f20" stroke-width="0.22" text-anchor="start" textLength="10.6" lengthAdjust="spacingAndGlyphs" >55</text>
<circle cx="252.8" cy="273" r="0.45" fill="none" stroke="#231f20" stroke-width="0.45"/>
<path d="M258.99,275.13 A3.16,3.72 0 1 0 258.99,280.12" fill="none" stroke="#231f20" stroke-width="0.7"/>
<rect x="398.5" y="196.2" width="1.5" height="1.5" fill="#3a3a3a"/>
<rect x="401.5" y="196.2" width="1.5" height="1.5" fill="#3a3a3a"/>
<rect x="404.5" y="196.2" width="1.5" height="1.5" fill="#3a3a3a"/>
<g transform="translate(267.2,185.1)">
<rect width="22" height="21.3" fill="url(#tbg)"/>
<rect width="22" height="21.3" fill="url(#tlf)"/>
<rect x="8" y="1.0" width="13.1" height="1.5" fill="#f7f7f7"/>
<path d="M2,21.3 L2,11.2 Q2,10.5 3,10.5 Q11.5,9.7 20,10.5 Q21,10.5 21,11.2 L21,21.3 Z" fill="url(#tsm)"/>
<g clip-path="url(#tc1)" stroke="#4a4a4a" stroke-width="0.8" opacity="0.4">
<line x1="0" y1="13.6" x2="22" y2="13.6"/>
<line x1="0" y1="16.4" x2="22" y2="16.4"/>
<line x1="0" y1="19.2" x2="22" y2="19.2"/>
<line x1="7.0" y1="12" x2="7.0" y2="21.3" stroke-opacity="0.35"/>
<line x1="14.5" y1="12" x2="14.5" y2="21.3" stroke-opacity="0.35"/>
</g>
</g>
<g transform="translate(292.8,185.1)">
<rect width="22" height="21.3" fill="url(#tbg)"/>
<rect width="22" height="21.3" fill="url(#tlf)"/>
<rect x="8" y="1.0" width="13.1" height="1.5" fill="#f7f7f7"/>
<path d="M2,21.3 L2,11.2 Q2,10.5 3,10.5 Q11.5,9.7 20,10.5 Q21,10.5 21,11.2 L21,21.3 Z" fill="url(#tsm)"/>
<g clip-path="url(#tc2)" stroke="#4a4a4a" stroke-width="0.8" opacity="0.4">
<line x1="0" y1="13.6" x2="22" y2="13.6"/>
<line x1="0" y1="16.4" x2="22" y2="16.4"/>
<line x1="0" y1="19.2" x2="22" y2="19.2"/>
<line x1="7.0" y1="12" x2="7.0" y2="21.3" stroke-opacity="0.35"/>
<line x1="14.5" y1="12" x2="14.5" y2="21.3" stroke-opacity="0.35"/>
</g>
</g>
<g transform="translate(318.3,185.1)">
<rect width="22" height="21.3" fill="url(#tbg)"/>
<rect width="22" height="21.3" fill="url(#tlf)"/>
<rect x="8" y="1.0" width="13.1" height="1.5" fill="#f7f7f7"/>
<path d="M2,21.3 L2,11.2 Q2,10.5 3,10.5 Q11.5,9.7 20,10.5 Q21,10.5 21,11.2 L21,21.3 Z" fill="url(#tsm)"/>
<g clip-path="url(#tc3)" stroke="#4a4a4a" stroke-width="0.8" opacity="0.4">
<line x1="0" y1="13.6" x2="22" y2="13.6"/>
<line x1="0" y1="16.4" x2="22" y2="16.4"/>
<line x1="0" y1="19.2" x2="22" y2="19.2"/>
<line x1="7.0" y1="12" x2="7.0" y2="21.3" stroke-opacity="0.35"/>
<line x1="14.5" y1="12" x2="14.5" y2="21.3" stroke-opacity="0.35"/>
</g>
</g>
<g transform="translate(344.1,185.1)">
<rect width="22" height="21.3" fill="url(#tbg)"/>
<rect width="22" height="21.3" fill="url(#tlf)"/>
<rect x="8" y="1.0" width="13.1" height="1.5" fill="#f7f7f7"/>
<path d="M2,21.3 L2,11.2 Q2,10.5 3,10.5 Q11.5,9.7 20,10.5 Q21,10.5 21,11.2 L21,21.3 Z" fill="url(#tsm)"/>
<g clip-path="url(#tc4)" stroke="#4a4a4a" stroke-width="0.8" opacity="0.4">
<line x1="0" y1="13.6" x2="22" y2="13.6"/>
<line x1="0" y1="16.4" x2="22" y2="16.4"/>
<line x1="0" y1="19.2" x2="22" y2="19.2"/>
<line x1="7.0" y1="12" x2="7.0" y2="21.3" stroke-opacity="0.35"/>
<line x1="14.5" y1="12" x2="14.5" y2="21.3" stroke-opacity="0.35"/>
</g>
</g>
<g transform="translate(370,185.1)">
<rect width="22" height="21.3" fill="url(#tbg)"/>
<rect width="22" height="21.3" fill="url(#tlf)"/>
<rect x="8" y="1.0" width="13.1" height="1.5" fill="#f7f7f7"/>
<path d="M2,21.3 L2,11.2 Q2,10.5 3,10.5 Q11.5,9.7 20,10.5 Q21,10.5 21,11.2 L21,21.3 Z" fill="url(#tsm)"/>
<g clip-path="url(#tc5)" stroke="#4a4a4a" stroke-width="0.8" opacity="0.4">
<line x1="0" y1="13.6" x2="22" y2="13.6"/>
<line x1="0" y1="16.4" x2="22" y2="16.4"/>
<line x1="0" y1="19.2" x2="22" y2="19.2"/>
<line x1="7.0" y1="12" x2="7.0" y2="21.3" stroke-opacity="0.35"/>
<line x1="14.5" y1="12" x2="14.5" y2="21.3" stroke-opacity="0.35"/>
</g>
</g>
<g transform="translate(411.8,185.1)">
<rect width="22" height="21.3" fill="url(#tbg)"/>
<rect width="22" height="21.3" fill="url(#tlf)"/>
<rect x="8" y="1.0" width="13.1" height="1.5" fill="#f7f7f7"/>
<path d="M2,21.3 L2,11.2 Q2,10.5 3,10.5 Q11.5,9.7 20,10.5 Q21,10.5 21,11.2 L21,21.3 Z" fill="url(#tsm)"/>
<g clip-path="url(#tc6)" stroke="#4a4a4a" stroke-width="0.8" opacity="0.4">
<line x1="0" y1="13.6" x2="22" y2="13.6"/>
<line x1="0" y1="16.4" x2="22" y2="16.4"/>
<line x1="0" y1="19.2" x2="22" y2="19.2"/>
<line x1="7.0" y1="12" x2="7.0" y2="21.3" stroke-opacity="0.35"/>
<line x1="14.5" y1="12" x2="14.5" y2="21.3" stroke-opacity="0.35"/>
</g>
</g>
<g transform="translate(267.1,227.5)">
<rect width="22" height="21.3" fill="url(#tbg)"/>
<rect width="22" height="21.3" fill="url(#tlf)"/>
<rect x="8" y="1.0" width="13.1" height="1.5" fill="#f7f7f7"/>
<path d="M2.1,21.3 L2.1,10.3 Q2.1,9.6 3.1,9.6 Q11.25,8.8 19.4,9.6 Q20.4,9.6 20.4,10.3 L20.4,21.3 Z" fill="url(#tsm)"/>
<g clip-path="url(#tc7)" stroke="#4a4a4a" stroke-width="0.8" opacity="0.4">
<line x1="0" y1="13.6" x2="22" y2="13.6"/>
<line x1="0" y1="16.4" x2="22" y2="16.4"/>
<line x1="0" y1="19.2" x2="22" y2="19.2"/>
<line x1="7.0" y1="11.1" x2="7.0" y2="21.3" stroke-opacity="0.35"/>
<line x1="14.5" y1="11.1" x2="14.5" y2="21.3" stroke-opacity="0.35"/>
</g>
</g>
<g transform="translate(292.7,227.5)">
<rect width="22" height="21.3" fill="url(#tbg)"/>
<rect width="22" height="21.3" fill="url(#tlf)"/>
<rect x="8" y="1.0" width="13.1" height="1.5" fill="#f7f7f7"/>
<path d="M2.1,21.3 L2.1,11 Q2.1,10.3 3.1,10.3 L5.8,10.3 C6.8,10.3 6.9,8 8.8,8 L11.2,8 C13.1,8 13.2,10.3 14.2,10.3 L19.4,10.3 Q20.4,10.3 20.4,11 L20.4,21.3 Z" fill="url(#tsm)"/>
<g clip-path="url(#tc8)" stroke="#4a4a4a" stroke-width="0.8" opacity="0.4">
<line x1="0" y1="13.6" x2="22" y2="13.6"/>
<line x1="0" y1="16.4" x2="22" y2="16.4"/>
<line x1="0" y1="19.2" x2="22" y2="19.2"/>
<line x1="7.0" y1="11.8" x2="7.0" y2="21.3" stroke-opacity="0.35"/>
<line x1="14.5" y1="11.8" x2="14.5" y2="21.3" stroke-opacity="0.35"/>
</g>
<ellipse cx="10" cy="9.45" rx="2.6" ry="1.35" fill="#111" opacity="0.7"/>
</g>
<g transform="translate(318.2,227.5)">
<rect width="22" height="21.3" fill="url(#tbg)"/>
<rect width="22" height="21.3" fill="url(#tlf)"/>
<rect x="8" y="1.0" width="13.1" height="1.5" fill="#f7f7f7"/>
<path d="M2.1,21.3 L2.1,11 Q2.1,10.3 3.1,10.3 L6,10.3 C7,10.3 7.1,7 9,7 L12.5,7 C14.4,7 14.5,10.3 15.5,10.3 L19.4,10.3 Q20.4,10.3 20.4,11 L20.4,21.3 Z" fill="url(#tsm)"/>
<g clip-path="url(#tc9)" stroke="#4a4a4a" stroke-width="0.8" opacity="0.4">
<line x1="0" y1="13.6" x2="22" y2="13.6"/>
<line x1="0" y1="16.4" x2="22" y2="16.4"/>
<line x1="0" y1="19.2" x2="22" y2="19.2"/>
<line x1="7.0" y1="11.8" x2="7.0" y2="21.3" stroke-opacity="0.35"/>
<line x1="14.5" y1="11.8" x2="14.5" y2="21.3" stroke-opacity="0.35"/>
</g>
<ellipse cx="10.75" cy="8.95" rx="3.15" ry="1.85" fill="#111" opacity="0.7"/>
</g>
<g transform="translate(344.1,227.5)">
<rect width="22" height="21.3" fill="url(#tbg)"/>
<rect width="22" height="21.3" fill="url(#tlf)"/>
<rect x="8" y="1.0" width="13.1" height="1.5" fill="#f7f7f7"/>
<path d="M2.1,21.3 L2.1,10.7 Q2.1,10 3.1,10 L6.3,10 C7.3,10 7.4,7.2 9.3,7.2 L12.6,7.2 C14.5,7.2 14.6,10 15.6,10 L19.4,10 Q20.4,10 20.4,10.7 L20.4,21.3 Z" fill="url(#tsm)"/>
<g clip-path="url(#tc10)" stroke="#4a4a4a" stroke-width="0.8" opacity="0.4">
<line x1="0" y1="13.6" x2="22" y2="13.6"/>
<line x1="0" y1="16.4" x2="22" y2="16.4"/>
<line x1="0" y1="19.2" x2="22" y2="19.2"/>
<line x1="7.0" y1="11.5" x2="7.0" y2="21.3" stroke-opacity="0.35"/>
<line x1="14.5" y1="11.5" x2="14.5" y2="21.3" stroke-opacity="0.35"/>
</g>
<ellipse cx="10.95" cy="8.9" rx="3.05" ry="1.6" fill="#111" opacity="0.7"/>
</g>
<g transform="translate(369.2,227.5)">
<rect width="22" height="21.3" fill="url(#tbg)"/>
<rect width="22" height="21.3" fill="url(#tlf)"/>
<rect x="8" y="1.0" width="13.1" height="1.5" fill="#f7f7f7"/>
<path d="M2.1,21.3 L2.1,11 Q2.1,10.3 3.1,10.3 L6.8,10.3 C7.8,10.3 7.9,6.3 9.8,6.3 L13.1,6.3 C15,6.3 15.1,10.3 16.1,10.3 L19.4,10.3 Q20.4,10.3 20.4,11 L20.4,21.3 Z" fill="url(#tsm)"/>
<g clip-path="url(#tc11)" stroke="#4a4a4a" stroke-width="0.8" opacity="0.4">
<line x1="0" y1="13.6" x2="22" y2="13.6"/>
<line x1="0" y1="16.4" x2="22" y2="16.4"/>
<line x1="0" y1="19.2" x2="22" y2="19.2"/>
<line x1="7.0" y1="11.8" x2="7.0" y2="21.3" stroke-opacity="0.35"/>
<line x1="14.5" y1="11.8" x2="14.5" y2="21.3" stroke-opacity="0.35"/>
</g>
<ellipse cx="11.45" cy="8.6" rx="3.05" ry="2.2" fill="#111" opacity="0.7"/>
</g>
<g transform="translate(267.1,266.9)">
<rect width="22" height="21.3" fill="url(#tbg)"/>
<rect width="22" height="21.3" fill="url(#tlf)"/>
<rect x="8" y="1.0" width="13.1" height="1.5" fill="#f7f7f7"/>
<rect y="14.9" width="22" height="6.4" fill="#333"/>
<path d="M2.1,21.3 L2.1,11 Q2.1,10.3 3.1,10.3 Q11.4,9.5 19.7,10.3 Q20.7,10.3 20.7,11 L20.7,21.3 Z" fill="url(#tsm)"/>
<g clip-path="url(#tc12)" stroke="#4a4a4a" stroke-width="0.8" opacity="0.4">
<line x1="0" y1="13.6" x2="22" y2="13.6"/>
<line x1="0" y1="16.4" x2="22" y2="16.4"/>
<line x1="0" y1="19.2" x2="22" y2="19.2"/>
<line x1="7.0" y1="11.8" x2="7.0" y2="21.3" stroke-opacity="0.35"/>
<line x1="14.5" y1="11.8" x2="14.5" y2="21.3" stroke-opacity="0.35"/>
</g>
</g>
<g transform="translate(293,266.9)">
<rect width="22" height="21.3" fill="url(#tbg)"/>
<rect width="22" height="21.3" fill="url(#tlf)"/>
<rect x="8" y="1.0" width="13.1" height="1.5" fill="#f7f7f7"/>
<rect y="14.9" width="22" height="6.4" fill="#333"/>
<path d="M3,21.3 L3,11.7 Q3,11 4,11 L6.6,11 C7.6,11 7.7,6 9.6,6 L15.8,6 C17.7,6 17.8,10.2 18.8,10.2 L19.7,10.2 Q20.7,10.2 20.7,10.9 L20.7,21.3 Z" fill="url(#tsm)"/>
<g clip-path="url(#tc13)" stroke="#4a4a4a" stroke-width="0.8" opacity="0.4">
<line x1="0" y1="13.6" x2="22" y2="13.6"/>
<line x1="0" y1="16.4" x2="22" y2="16.4"/>
<line x1="0" y1="19.2" x2="22" y2="19.2"/>
<line x1="7.0" y1="11.7" x2="7.0" y2="21.3" stroke-opacity="0.35"/>
<line x1="14.5" y1="11.7" x2="14.5" y2="21.3" stroke-opacity="0.35"/>
</g>
<ellipse cx="12.7" cy="8.4" rx="4.5" ry="2.3" fill="#111" opacity="0.7"/>
</g>
<g transform="translate(319,266.9)">
<rect width="22" height="21.3" fill="url(#tbg)"/>
<rect width="22" height="21.3" fill="url(#tlf)"/>
<rect x="8" y="1.0" width="13.1" height="1.5" fill="#f7f7f7"/>
<rect y="14.9" width="22" height="6.4" fill="#333"/>
<path d="M2.5,21.3 L2.5,12 Q2.5,11.3 3.5,11.3 L6.4,11.3 C7.4,11.3 7.5,5.7 9.4,5.7 L15.6,5.7 C17.5,5.7 17.6,10.3 18.6,10.3 L19.3,10.3 Q20.3,10.3 20.3,11 L20.3,21.3 Z" fill="url(#tsm)"/>
<g clip-path="url(#tc14)" stroke="#4a4a4a" stroke-width="0.8" opacity="0.4">
<line x1="0" y1="13.6" x2="22" y2="13.6"/>
<line x1="0" y1="16.4" x2="22" y2="16.4"/>
<line x1="0" y1="19.2" x2="22" y2="19.2"/>
<line x1="7.0" y1="11.8" x2="7.0" y2="21.3" stroke-opacity="0.35"/>
<line x1="14.5" y1="11.8" x2="14.5" y2="21.3" stroke-opacity="0.35"/>
</g>
<ellipse cx="12.5" cy="8.3" rx="4.5" ry="2.5" fill="#111" opacity="0.7"/>
</g>
<polyline points="510.56,268.6 513.92,190.7 517.28,272.3 520.64,194.3 524,272.3 527.36,190.7 530.72,268.6 534.08,186.8 537.44,272.3 540.8,190.7 544.16,272.3 547.52,194.3 550.88,268.6 554.24,190.7 557.6,272.3 560.96,194.3 564.32,276.1 567.68,190.7 571.04,272.3 574.4,190.7 577.76,272.3 581.12,186.8 584.48,276.1 587.84,190.8 591.2,276.1 594.56,194.4 597.92,272.3 601.28,194.4 604.64,272.3 608,186.8 611.36,276.1 614.72,190.8 618.08,272.3 621.44,194.4 624.8,272.3 628.16,190.8 631.52,276.1 634.88,194.4 638.24,272.3 641.6,190.8" fill="none" stroke="#52ace0" stroke-width="1.3" stroke-linejoin="round" />
<circle cx="510.56" cy="268.6" r="1.7" fill="#e8559f"/>
<circle cx="513.92" cy="190.7" r="1.7" fill="#e8559f"/>
<circle cx="517.28" cy="272.3" r="1.7" fill="#e8559f"/>
<circle cx="520.64" cy="194.3" r="1.7" fill="#e8559f"/>
<circle cx="524" cy="272.3" r="1.7" fill="#e8559f"/>
<circle cx="527.36" cy="190.7" r="1.7" fill="#e8559f"/>
<circle cx="530.72" cy="268.6" r="1.7" fill="#e8559f"/>
<circle cx="534.08" cy="186.8" r="1.7" fill="#e8559f"/>
<circle cx="537.44" cy="272.3" r="1.7" fill="#e8559f"/>
<circle cx="540.8" cy="190.7" r="1.7" fill="#e8559f"/>
<circle cx="544.16" cy="272.3" r="1.7" fill="#e8559f"/>
<circle cx="547.52" cy="194.3" r="1.7" fill="#e8559f"/>
<circle cx="550.88" cy="268.6" r="1.7" fill="#e8559f"/>
<circle cx="554.24" cy="190.7" r="1.7" fill="#e8559f"/>
<circle cx="557.6" cy="272.3" r="1.7" fill="#e8559f"/>
<circle cx="560.96" cy="194.3" r="1.7" fill="#e8559f"/>
<circle cx="564.32" cy="276.1" r="1.7" fill="#e8559f"/>
<circle cx="567.68" cy="190.7" r="1.7" fill="#e8559f"/>
<circle cx="571.04" cy="272.3" r="1.7" fill="#e8559f"/>
<circle cx="574.4" cy="190.7" r="1.7" fill="#e8559f"/>
<circle cx="577.76" cy="272.3" r="1.7" fill="#e8559f"/>
<circle cx="581.12" cy="186.8" r="1.7" fill="#e8559f"/>
<circle cx="584.48" cy="276.1" r="1.7" fill="#e8559f"/>
<circle cx="587.84" cy="190.8" r="1.7" fill="#e8559f"/>
<circle cx="591.2" cy="276.1" r="1.7" fill="#e8559f"/>
<circle cx="594.56" cy="194.4" r="1.7" fill="#e8559f"/>
<circle cx="597.92" cy="272.3" r="1.7" fill="#e8559f"/>
<circle cx="601.28" cy="194.4" r="1.7" fill="#e8559f"/>
<circle cx="604.64" cy="272.3" r="1.7" fill="#e8559f"/>
<circle cx="608" cy="186.8" r="1.7" fill="#e8559f"/>
<circle cx="611.36" cy="276.1" r="1.7" fill="#e8559f"/>
<circle cx="614.72" cy="190.8" r="1.7" fill="#e8559f"/>
<circle cx="618.08" cy="272.3" r="1.7" fill="#e8559f"/>
<circle cx="621.44" cy="194.4" r="1.7" fill="#e8559f"/>
<circle cx="624.8" cy="272.3" r="1.7" fill="#e8559f"/>
<circle cx="628.16" cy="190.8" r="1.7" fill="#e8559f"/>
<circle cx="631.52" cy="276.1" r="1.7" fill="#e8559f"/>
<circle cx="634.88" cy="194.4" r="1.7" fill="#e8559f"/>
<circle cx="638.24" cy="272.3" r="1.7" fill="#e8559f"/>
<circle cx="641.6" cy="190.8" r="1.7" fill="#e8559f"/>
<rect x="506.9" y="175.7" width="137.8" height="111.15" fill="none" stroke="#231f20" stroke-width="1.35"/>
<line x1="504.4" y1="184.4" x2="506.9" y2="184.4" stroke="#231f20" stroke-width="1" />
<line x1="505.4" y1="192.87" x2="506.9" y2="192.87" stroke="#231f20" stroke-width="1" />
<line x1="504.4" y1="201.35" x2="506.9" y2="201.35" stroke="#231f20" stroke-width="1" />
<line x1="505.4" y1="209.82" x2="506.9" y2="209.82" stroke="#231f20" stroke-width="1" />
<line x1="504.4" y1="218.3" x2="506.9" y2="218.3" stroke="#231f20" stroke-width="1" />
<line x1="505.4" y1="226.77" x2="506.9" y2="226.77" stroke="#231f20" stroke-width="1" />
<line x1="504.4" y1="235.25" x2="506.9" y2="235.25" stroke="#231f20" stroke-width="1" />
<line x1="505.4" y1="243.72" x2="506.9" y2="243.72" stroke="#231f20" stroke-width="1" />
<line x1="504.4" y1="252.2" x2="506.9" y2="252.2" stroke="#231f20" stroke-width="1" />
<line x1="505.4" y1="260.67" x2="506.9" y2="260.67" stroke="#231f20" stroke-width="1" />
<line x1="504.4" y1="269.15" x2="506.9" y2="269.15" stroke="#231f20" stroke-width="1" />
<line x1="505.4" y1="277.62" x2="506.9" y2="277.62" stroke="#231f20" stroke-width="1" />
<line x1="504.4" y1="286.1" x2="506.9" y2="286.1" stroke="#231f20" stroke-width="1" />
<text transform="translate(502,187.4) scale(0.92,1)" font-size="10.2" fill="#231f20" stroke="#231f20" stroke-width="0.1" text-anchor="end" >0.30</text>
<text transform="translate(502,204.35) scale(0.92,1)" font-size="10.2" fill="#231f20" stroke="#231f20" stroke-width="0.1" text-anchor="end" >0.25</text>
<text transform="translate(502,221.3) scale(0.92,1)" font-size="10.2" fill="#231f20" stroke="#231f20" stroke-width="0.1" text-anchor="end" >0.20</text>
<text transform="translate(502,238.25) scale(0.92,1)" font-size="10.2" fill="#231f20" stroke="#231f20" stroke-width="0.1" text-anchor="end" >0.15</text>
<text transform="translate(502,255.2) scale(0.92,1)" font-size="10.2" fill="#231f20" stroke="#231f20" stroke-width="0.1" text-anchor="end" >0.10</text>
<text transform="translate(502,272.15) scale(0.92,1)" font-size="10.2" fill="#231f20" stroke="#231f20" stroke-width="0.1" text-anchor="end" >0.05</text>
<text transform="translate(502,289.1) scale(0.92,1)" font-size="10.2" fill="#231f20" stroke="#231f20" stroke-width="0.1" text-anchor="end" >0.00</text>
<line x1="507.2" y1="286.85" x2="507.2" y2="289.35" stroke="#231f20" stroke-width="1" />
<line x1="524" y1="286.85" x2="524" y2="288.35" stroke="#231f20" stroke-width="1" />
<line x1="540.8" y1="286.85" x2="540.8" y2="289.35" stroke="#231f20" stroke-width="1" />
<line x1="557.6" y1="286.85" x2="557.6" y2="288.35" stroke="#231f20" stroke-width="1" />
<line x1="574.4" y1="286.85" x2="574.4" y2="289.35" stroke="#231f20" stroke-width="1" />
<line x1="591.2" y1="286.85" x2="591.2" y2="288.35" stroke="#231f20" stroke-width="1" />
<line x1="608" y1="286.85" x2="608" y2="289.35" stroke="#231f20" stroke-width="1" />
<line x1="624.8" y1="286.85" x2="624.8" y2="288.35" stroke="#231f20" stroke-width="1" />
<line x1="641.6" y1="286.85" x2="641.6" y2="289.35" stroke="#231f20" stroke-width="1" />
<text transform="translate(507.5,298.1) scale(0.9,1)" font-size="10.2" fill="#231f20" stroke="#231f20" stroke-width="0.1" text-anchor="middle" >0</text>
<text transform="translate(541.1,298.1) scale(0.9,1)" font-size="10.2" fill="#231f20" stroke="#231f20" stroke-width="0.1" text-anchor="middle" >5</text>
<text transform="translate(574.7,298.1) scale(0.9,1)" font-size="10.2" fill="#231f20" stroke="#231f20" stroke-width="0.1" text-anchor="middle" >10</text>
<text transform="translate(608.3,298.1) scale(0.9,1)" font-size="10.2" fill="#231f20" stroke="#231f20" stroke-width="0.1" text-anchor="middle" >15</text>
<text transform="translate(641.9,298.1) scale(0.9,1)" font-size="10.2" fill="#231f20" stroke="#231f20" stroke-width="0.1" text-anchor="middle" >20</text>
<text x="565.5" y="308.5" font-size="10" fill="#231f20" stroke="#231f20" stroke-width="0.1" text-anchor="start" textLength="22.4" lengthAdjust="spacingAndGlyphs" >Cycle</text>
<text transform="translate(475.1,229.9) rotate(-90)" font-size="9.5" fill="#231f20" stroke="#231f20" stroke-width="0.1" text-anchor="middle" textLength="52.3" lengthAdjust="spacing">Height / mm</text>
<text transform="translate(470.9,183.9) scale(1.08,1)" font-size="18.4" fill="#231f20" text-anchor="start" >f</text>
<g transform="translate(514,180.2)">
<rect x="-0.6" y="-0.6" width="14" height="5.8" fill="none" stroke="#e8559f" stroke-width="0.8" stroke-dasharray="1.2,1" opacity="0.45"/>
<rect width="12.8" height="4.6" fill="url(#ibg)"/>
<path d="M2,4.6 L2,3 L5,3 Q6,0.6 7,0.6 Q8,0.6 9,3 L10.8,3 L10.8,4.6 Z" fill="#262626"/>
</g>
<line x1="520.8" y1="188.2" x2="520.8" y2="191.6" stroke="#231f20" stroke-width="0.8" />
<polygon points="520.8,186.6 519.8,188.8 521.8,188.8" fill="#231f20"/>
<g transform="translate(554.8,180.2)">
<rect x="-0.6" y="-0.6" width="14" height="5.8" fill="none" stroke="#e8559f" stroke-width="0.8" stroke-dasharray="1.2,1" opacity="0.45"/>
<rect width="12.8" height="4.6" fill="url(#ibg)"/>
<path d="M2,4.6 L2,3 L5,3 Q6,0.6 7,0.6 Q8,0.6 9,3 L10.8,3 L10.8,4.6 Z" fill="#262626"/>
</g>
<line x1="561" y1="188.2" x2="561" y2="191.6" stroke="#231f20" stroke-width="0.8" />
<polygon points="561,186.6 560,188.8 562,188.8" fill="#231f20"/>
<g transform="translate(614.6,180.2)">
<rect x="-0.6" y="-0.6" width="14" height="5.8" fill="none" stroke="#e8559f" stroke-width="0.8" stroke-dasharray="1.2,1" opacity="1"/>
<rect width="12.8" height="4.6" fill="url(#ibg)"/>
<path d="M2,4.6 L2,3 L5,3 Q6,0.6 7,0.6 Q8,0.6 9,3 L10.8,3 L10.8,4.6 Z" fill="#262626"/>
</g>
<line x1="621.5" y1="188.2" x2="621.5" y2="191.6" stroke="#231f20" stroke-width="0.8" />
<polygon points="621.5,186.6 620.5,188.8 622.5,188.8" fill="#231f20"/>
<g transform="translate(518.4,279.4)">
<rect x="-0.6" y="-0.6" width="14.1" height="5.8" fill="none" stroke="#e8559f" stroke-width="0.8" stroke-dasharray="1.2,1" opacity="1"/>
<rect width="12.9" height="4.6" fill="url(#ibg)"/>
<rect x="1.5" y="1.1" width="9.9" height="2.6" fill="#1e1e1e"/>
<rect x="8.9" y="2" width="2.5" height="1.2" fill="#dddddd"/>
</g>
<line x1="524.4" y1="275.2" x2="524.4" y2="278.2" stroke="#231f20" stroke-width="0.7" />
<g transform="translate(551.4,279.4)">
<rect x="-0.6" y="-0.6" width="14.1" height="5.8" fill="none" stroke="#e8559f" stroke-width="0.8" stroke-dasharray="1.2,1" opacity="1"/>
<rect width="12.9" height="4.6" fill="url(#ibg)"/>
<rect x="1.5" y="1.1" width="9.9" height="2.6" fill="#1e1e1e"/>
<rect x="8.9" y="2" width="2.5" height="1.2" fill="#dddddd"/>
</g>
<line x1="557.7" y1="275.2" x2="557.7" y2="278.2" stroke="#231f20" stroke-width="0.7" />
<g transform="translate(611.6,279.4)">
<rect x="-0.6" y="-0.6" width="14.1" height="5.8" fill="none" stroke="#e8559f" stroke-width="0.8" stroke-dasharray="1.2,1" opacity="1"/>
<rect width="12.9" height="4.6" fill="url(#ibg)"/>
<rect x="1.5" y="1.1" width="9.9" height="2.6" fill="#1e1e1e"/>
<rect x="8.9" y="2" width="2.5" height="1.2" fill="#dddddd"/>
</g>
<line x1="618.4" y1="275.2" x2="618.4" y2="278.2" stroke="#231f20" stroke-width="0.7" />
</svg></body></html>
